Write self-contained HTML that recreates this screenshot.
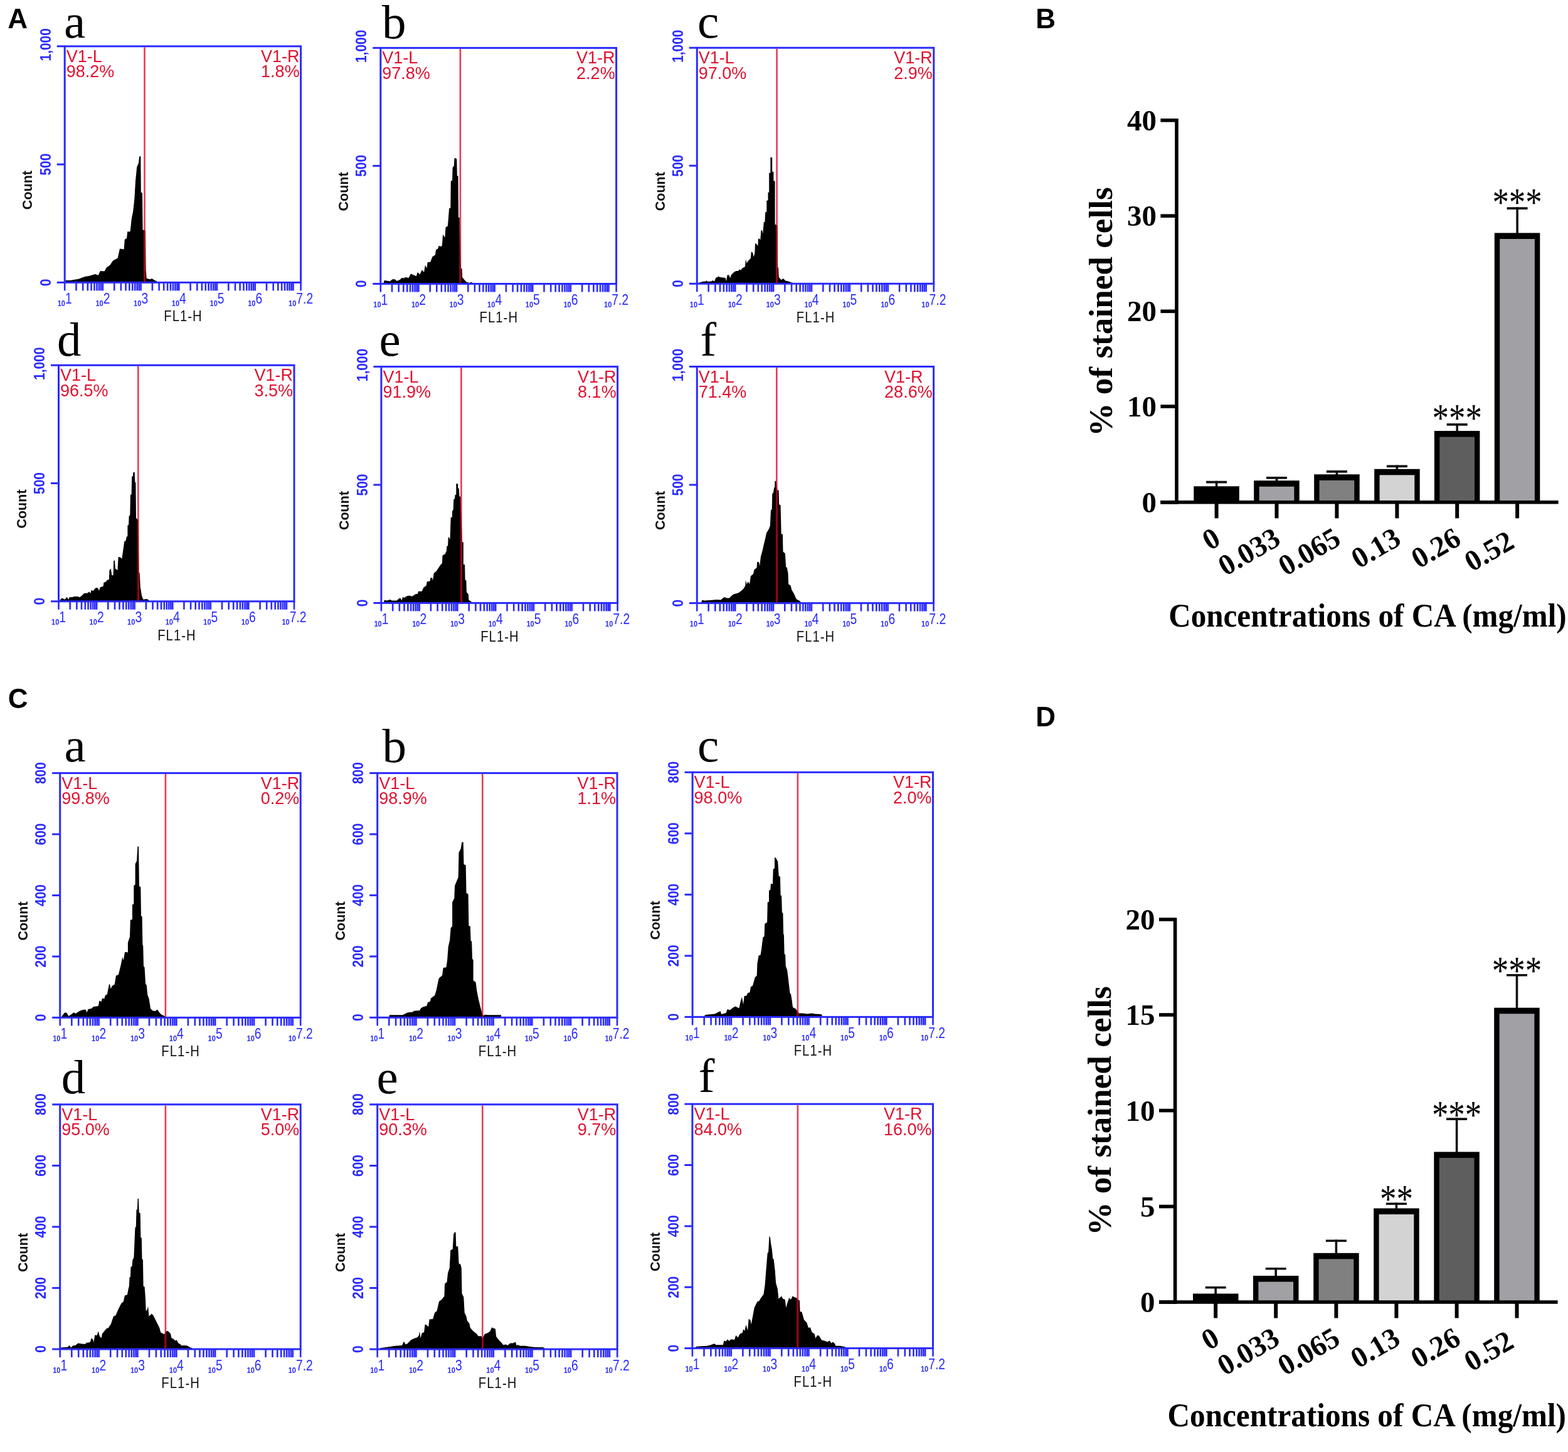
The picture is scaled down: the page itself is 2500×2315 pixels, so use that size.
<!DOCTYPE html><html><head><meta charset="utf-8"><title>Figure</title><style>html,body{margin:0;padding:0;background:#fff;}svg{display:block;}</style></head><body>
<svg width="2500" height="2315" viewBox="0 0 2500 2315">
<rect width="2500" height="2315" fill="#fff"/>
<text x="12.2" y="45.2" font-family="'Liberation Sans', Arial, sans-serif" font-weight="bold" font-size="44" fill="#000">A</text>
<text x="1651.3" y="44.8" font-family="'Liberation Sans', Arial, sans-serif" font-weight="bold" font-size="44" fill="#000">B</text>
<text x="12.8" y="1129.3" font-family="'Liberation Sans', Arial, sans-serif" font-weight="bold" font-size="44" fill="#000">C</text>
<text x="1651.3" y="1158.3" font-family="'Liberation Sans', Arial, sans-serif" font-weight="bold" font-size="44" fill="#000">D</text>
<g>
<clipPath id="hAa"><path d="M104.4,450.4 L104.4,446.9 L112.2,446.9 L117.8,446.1 L125.5,444.7 L131.1,442.5 L136.6,440.8 L142.2,439.9 L146.6,438.6 L152.1,436.9 L156.6,439.1 L159.9,431.9 L166.6,432.5 L169.9,426.4 L175.5,422.5 L179.9,415.8 L187.7,411.4 L191.0,396.4 L197.6,397.5 L198.8,382.0 L202.1,379.8 L203.2,369.2 L207.6,369.2 L209.8,348.7 L212.1,337.6 L214.3,317.7 L216.0,288.8 L218.2,266.6 L220.9,260.0 L222.1,250.0 L223.6,248.5 L224.3,250.0 L224.8,306.6 L227.0,307.7 L227.6,366.5 L232.0,367.6 L232.6,429.7 L233.7,444.1 L239.8,445.2 L242.0,444.1 L247.6,447.4 L249.8,448.0 L249.8,450.4 Z"/></clipPath>
<path d="M104.4,450.4 L104.4,446.9 L112.2,446.9 L117.8,446.1 L125.5,444.7 L131.1,442.5 L136.6,440.8 L142.2,439.9 L146.6,438.6 L152.1,436.9 L156.6,439.1 L159.9,431.9 L166.6,432.5 L169.9,426.4 L175.5,422.5 L179.9,415.8 L187.7,411.4 L191.0,396.4 L197.6,397.5 L198.8,382.0 L202.1,379.8 L203.2,369.2 L207.6,369.2 L209.8,348.7 L212.1,337.6 L214.3,317.7 L216.0,288.8 L218.2,266.6 L220.9,260.0 L222.1,250.0 L223.6,248.5 L224.3,250.0 L224.8,306.6 L227.0,307.7 L227.6,366.5 L232.0,367.6 L232.6,429.7 L233.7,444.1 L239.8,445.2 L242.0,444.1 L247.6,447.4 L249.8,448.0 L249.8,450.4 Z" fill="#000"/>
<rect x="103.2" y="73.8" width="376.4" height="376.6" fill="none" stroke="#2a2aff" stroke-width="3"/>
<line x1="230.5" y1="75.3" x2="230.5" y2="448.9" stroke="#e43c58" stroke-width="2.6"/>
<line x1="230.5" y1="75.3" x2="230.5" y2="448.9" stroke="#98000c" stroke-width="2.6" clip-path="url(#hAa)"/>
<line x1="90.7" y1="450.4" x2="103.2" y2="450.4" stroke="#2a2aff" stroke-width="3"/>
<text transform="translate(80.8,450.4) rotate(-90) scale(0.86,1)" text-anchor="middle" font-family="'Liberation Sans', Arial, sans-serif" font-weight="bold" font-size="24.3" fill="#2a2aff">0</text>
<line x1="90.7" y1="262.1" x2="103.2" y2="262.1" stroke="#2a2aff" stroke-width="3"/>
<text transform="translate(80.8,262.1) rotate(-90) scale(0.86,1)" text-anchor="middle" font-family="'Liberation Sans', Arial, sans-serif" font-weight="bold" font-size="24.3" fill="#2a2aff">500</text>
<line x1="90.7" y1="73.8" x2="103.2" y2="73.8" stroke="#2a2aff" stroke-width="3"/>
<text transform="translate(80.8,71.3) rotate(-90) scale(0.86,1)" text-anchor="middle" font-family="'Liberation Sans', Arial, sans-serif" font-weight="bold" font-size="24.3" fill="#2a2aff">1,000</text>
<line x1="103.2" y1="450.4" x2="103.2" y2="463.4" stroke="#2a2aff" stroke-width="2.6"/>
<line x1="121.5" y1="450.4" x2="121.5" y2="463.4" stroke="#2a2aff" stroke-width="2.6"/>
<line x1="132.2" y1="450.4" x2="132.2" y2="463.4" stroke="#2a2aff" stroke-width="2.6"/>
<line x1="139.8" y1="450.4" x2="139.8" y2="463.4" stroke="#2a2aff" stroke-width="2.6"/>
<line x1="145.6" y1="450.4" x2="145.6" y2="463.4" stroke="#2a2aff" stroke-width="2.6"/>
<line x1="150.4" y1="450.4" x2="150.4" y2="463.4" stroke="#2a2aff" stroke-width="2.6"/>
<line x1="154.5" y1="450.4" x2="154.5" y2="463.4" stroke="#2a2aff" stroke-width="2.6"/>
<line x1="158.0" y1="450.4" x2="158.0" y2="463.4" stroke="#2a2aff" stroke-width="2.6"/>
<line x1="161.1" y1="450.4" x2="161.1" y2="463.4" stroke="#2a2aff" stroke-width="2.6"/>
<line x1="163.9" y1="450.4" x2="163.9" y2="463.4" stroke="#2a2aff" stroke-width="2.6"/>
<line x1="182.2" y1="450.4" x2="182.2" y2="463.4" stroke="#2a2aff" stroke-width="2.6"/>
<line x1="192.9" y1="450.4" x2="192.9" y2="463.4" stroke="#2a2aff" stroke-width="2.6"/>
<line x1="200.5" y1="450.4" x2="200.5" y2="463.4" stroke="#2a2aff" stroke-width="2.6"/>
<line x1="206.3" y1="450.4" x2="206.3" y2="463.4" stroke="#2a2aff" stroke-width="2.6"/>
<line x1="211.2" y1="450.4" x2="211.2" y2="463.4" stroke="#2a2aff" stroke-width="2.6"/>
<line x1="215.2" y1="450.4" x2="215.2" y2="463.4" stroke="#2a2aff" stroke-width="2.6"/>
<line x1="218.7" y1="450.4" x2="218.7" y2="463.4" stroke="#2a2aff" stroke-width="2.6"/>
<line x1="221.8" y1="450.4" x2="221.8" y2="463.4" stroke="#2a2aff" stroke-width="2.6"/>
<line x1="224.6" y1="450.4" x2="224.6" y2="463.4" stroke="#2a2aff" stroke-width="2.6"/>
<line x1="242.9" y1="450.4" x2="242.9" y2="463.4" stroke="#2a2aff" stroke-width="2.6"/>
<line x1="253.6" y1="450.4" x2="253.6" y2="463.4" stroke="#2a2aff" stroke-width="2.6"/>
<line x1="261.2" y1="450.4" x2="261.2" y2="463.4" stroke="#2a2aff" stroke-width="2.6"/>
<line x1="267.1" y1="450.4" x2="267.1" y2="463.4" stroke="#2a2aff" stroke-width="2.6"/>
<line x1="271.9" y1="450.4" x2="271.9" y2="463.4" stroke="#2a2aff" stroke-width="2.6"/>
<line x1="275.9" y1="450.4" x2="275.9" y2="463.4" stroke="#2a2aff" stroke-width="2.6"/>
<line x1="279.4" y1="450.4" x2="279.4" y2="463.4" stroke="#2a2aff" stroke-width="2.6"/>
<line x1="282.6" y1="450.4" x2="282.6" y2="463.4" stroke="#2a2aff" stroke-width="2.6"/>
<line x1="285.3" y1="450.4" x2="285.3" y2="463.4" stroke="#2a2aff" stroke-width="2.6"/>
<line x1="303.6" y1="450.4" x2="303.6" y2="463.4" stroke="#2a2aff" stroke-width="2.6"/>
<line x1="314.3" y1="450.4" x2="314.3" y2="463.4" stroke="#2a2aff" stroke-width="2.6"/>
<line x1="321.9" y1="450.4" x2="321.9" y2="463.4" stroke="#2a2aff" stroke-width="2.6"/>
<line x1="327.8" y1="450.4" x2="327.8" y2="463.4" stroke="#2a2aff" stroke-width="2.6"/>
<line x1="332.6" y1="450.4" x2="332.6" y2="463.4" stroke="#2a2aff" stroke-width="2.6"/>
<line x1="336.6" y1="450.4" x2="336.6" y2="463.4" stroke="#2a2aff" stroke-width="2.6"/>
<line x1="340.2" y1="450.4" x2="340.2" y2="463.4" stroke="#2a2aff" stroke-width="2.6"/>
<line x1="343.3" y1="450.4" x2="343.3" y2="463.4" stroke="#2a2aff" stroke-width="2.6"/>
<line x1="346.0" y1="450.4" x2="346.0" y2="463.4" stroke="#2a2aff" stroke-width="2.6"/>
<line x1="364.3" y1="450.4" x2="364.3" y2="463.4" stroke="#2a2aff" stroke-width="2.6"/>
<line x1="375.0" y1="450.4" x2="375.0" y2="463.4" stroke="#2a2aff" stroke-width="2.6"/>
<line x1="382.6" y1="450.4" x2="382.6" y2="463.4" stroke="#2a2aff" stroke-width="2.6"/>
<line x1="388.5" y1="450.4" x2="388.5" y2="463.4" stroke="#2a2aff" stroke-width="2.6"/>
<line x1="393.3" y1="450.4" x2="393.3" y2="463.4" stroke="#2a2aff" stroke-width="2.6"/>
<line x1="397.3" y1="450.4" x2="397.3" y2="463.4" stroke="#2a2aff" stroke-width="2.6"/>
<line x1="400.9" y1="450.4" x2="400.9" y2="463.4" stroke="#2a2aff" stroke-width="2.6"/>
<line x1="404.0" y1="450.4" x2="404.0" y2="463.4" stroke="#2a2aff" stroke-width="2.6"/>
<line x1="406.7" y1="450.4" x2="406.7" y2="463.4" stroke="#2a2aff" stroke-width="2.6"/>
<line x1="425.0" y1="450.4" x2="425.0" y2="463.4" stroke="#2a2aff" stroke-width="2.6"/>
<line x1="435.7" y1="450.4" x2="435.7" y2="463.4" stroke="#2a2aff" stroke-width="2.6"/>
<line x1="443.3" y1="450.4" x2="443.3" y2="463.4" stroke="#2a2aff" stroke-width="2.6"/>
<line x1="449.2" y1="450.4" x2="449.2" y2="463.4" stroke="#2a2aff" stroke-width="2.6"/>
<line x1="454.0" y1="450.4" x2="454.0" y2="463.4" stroke="#2a2aff" stroke-width="2.6"/>
<line x1="458.1" y1="450.4" x2="458.1" y2="463.4" stroke="#2a2aff" stroke-width="2.6"/>
<line x1="461.6" y1="450.4" x2="461.6" y2="463.4" stroke="#2a2aff" stroke-width="2.6"/>
<line x1="464.7" y1="450.4" x2="464.7" y2="463.4" stroke="#2a2aff" stroke-width="2.6"/>
<line x1="467.5" y1="450.4" x2="467.5" y2="463.4" stroke="#2a2aff" stroke-width="2.6"/>
<line x1="479.6" y1="450.4" x2="479.6" y2="463.4" stroke="#2a2aff" stroke-width="2.6"/>
<text transform="translate(103.2,483.9) scale(0.82,1)" text-anchor="middle" font-family="'Liberation Sans', Arial, sans-serif" fill="#2a2aff"><tspan font-weight="bold" font-size="13.5" dy="4">10</tspan><tspan font-size="23.5" dy="-4">1</tspan></text>
<text transform="translate(163.9,483.9) scale(0.82,1)" text-anchor="middle" font-family="'Liberation Sans', Arial, sans-serif" fill="#2a2aff"><tspan font-weight="bold" font-size="13.5" dy="4">10</tspan><tspan font-size="23.5" dy="-4">2</tspan></text>
<text transform="translate(224.6,483.9) scale(0.82,1)" text-anchor="middle" font-family="'Liberation Sans', Arial, sans-serif" fill="#2a2aff"><tspan font-weight="bold" font-size="13.5" dy="4">10</tspan><tspan font-size="23.5" dy="-4">3</tspan></text>
<text transform="translate(285.3,483.9) scale(0.82,1)" text-anchor="middle" font-family="'Liberation Sans', Arial, sans-serif" fill="#2a2aff"><tspan font-weight="bold" font-size="13.5" dy="4">10</tspan><tspan font-size="23.5" dy="-4">4</tspan></text>
<text transform="translate(346.0,483.9) scale(0.82,1)" text-anchor="middle" font-family="'Liberation Sans', Arial, sans-serif" fill="#2a2aff"><tspan font-weight="bold" font-size="13.5" dy="4">10</tspan><tspan font-size="23.5" dy="-4">5</tspan></text>
<text transform="translate(406.7,483.9) scale(0.82,1)" text-anchor="middle" font-family="'Liberation Sans', Arial, sans-serif" fill="#2a2aff"><tspan font-weight="bold" font-size="13.5" dy="4">10</tspan><tspan font-size="23.5" dy="-4">6</tspan></text>
<text transform="translate(479.6,483.9) scale(0.82,1)" text-anchor="middle" font-family="'Liberation Sans', Arial, sans-serif" fill="#2a2aff"><tspan font-weight="bold" font-size="13.5" dy="4">10</tspan><tspan font-size="23.5" dy="-4">7.2</tspan></text>
<text transform="translate(292.0,512.2) scale(0.88,1)" text-anchor="middle" font-family="'Liberation Sans', Arial, sans-serif" font-size="23" letter-spacing="1.2" fill="#111">FL1-H</text>
<text transform="translate(51.4,303.1) rotate(-90)" text-anchor="middle" font-family="'Liberation Sans', Arial, sans-serif" font-weight="bold" font-size="21.5" fill="#111">Count</text>
<text x="105.7" y="98.8" font-family="'Liberation Sans', Arial, sans-serif" font-size="27" fill="#e0102e">V1-L</text>
<text x="105.7" y="123.3" font-family="'Liberation Sans', Arial, sans-serif" font-size="27" fill="#e0102e">98.2%</text>
<text x="416.1" y="98.8" font-family="'Liberation Sans', Arial, sans-serif" font-size="27" fill="#e0102e">V1-R</text>
<text x="416.1" y="123.3" font-family="'Liberation Sans', Arial, sans-serif" font-size="27" fill="#e0102e">1.8%</text>
<text x="102.0" y="59.5" font-family="'Liberation Serif', 'Times New Roman', serif" font-size="77" fill="#000">a</text>
<clipPath id="hAb"><path d="M611.8,452.5 L611.8,449.7 L612.9,446.9 L621.8,448.6 L625.6,445.2 L629.5,445.2 L632.8,448.0 L637.3,446.3 L640.6,443.0 L643.9,443.6 L646.2,441.9 L651.7,443.0 L655.0,436.4 L659.5,438.6 L663.9,440.2 L665.6,434.1 L669.5,437.5 L672.8,430.3 L676.1,434.1 L677.8,423.0 L680.6,427.5 L681.7,418.1 L686.1,418.1 L689.4,409.2 L693.9,406.4 L695.0,398.6 L698.3,396.4 L699.4,392.0 L703.9,393.1 L705.0,389.8 L706.1,373.7 L709.4,378.7 L710.5,362.6 L713.8,360.4 L715.0,347.1 L716.1,332.6 L718.3,331.5 L718.8,288.8 L721.1,287.7 L721.6,267.2 L723.8,264.4 L724.4,252.2 L727.2,252.2 L728.3,254.4 L728.8,280.0 L730.5,281.1 L731.0,346.5 L732.7,347.1 L734.9,427.5 L736.6,428.6 L737.1,441.9 L740.5,446.3 L743.8,449.7 L748.2,450.8 L752.7,449.7 L753.2,451.3 L753.2,452.5 Z"/></clipPath>
<path d="M611.8,452.5 L611.8,449.7 L612.9,446.9 L621.8,448.6 L625.6,445.2 L629.5,445.2 L632.8,448.0 L637.3,446.3 L640.6,443.0 L643.9,443.6 L646.2,441.9 L651.7,443.0 L655.0,436.4 L659.5,438.6 L663.9,440.2 L665.6,434.1 L669.5,437.5 L672.8,430.3 L676.1,434.1 L677.8,423.0 L680.6,427.5 L681.7,418.1 L686.1,418.1 L689.4,409.2 L693.9,406.4 L695.0,398.6 L698.3,396.4 L699.4,392.0 L703.9,393.1 L705.0,389.8 L706.1,373.7 L709.4,378.7 L710.5,362.6 L713.8,360.4 L715.0,347.1 L716.1,332.6 L718.3,331.5 L718.8,288.8 L721.1,287.7 L721.6,267.2 L723.8,264.4 L724.4,252.2 L727.2,252.2 L728.3,254.4 L728.8,280.0 L730.5,281.1 L731.0,346.5 L732.7,347.1 L734.9,427.5 L736.6,428.6 L737.1,441.9 L740.5,446.3 L743.8,449.7 L748.2,450.8 L752.7,449.7 L753.2,451.3 L753.2,452.5 Z" fill="#000"/>
<rect x="606.8" y="76.4" width="375.8" height="376.1" fill="none" stroke="#2a2aff" stroke-width="3"/>
<line x1="733.9" y1="77.9" x2="733.9" y2="451.0" stroke="#e43c58" stroke-width="2.6"/>
<line x1="733.9" y1="77.9" x2="733.9" y2="451.0" stroke="#98000c" stroke-width="2.6" clip-path="url(#hAb)"/>
<line x1="594.3" y1="452.5" x2="606.8" y2="452.5" stroke="#2a2aff" stroke-width="3"/>
<text transform="translate(584.4,452.5) rotate(-90) scale(0.86,1)" text-anchor="middle" font-family="'Liberation Sans', Arial, sans-serif" font-weight="bold" font-size="24.3" fill="#2a2aff">0</text>
<line x1="594.3" y1="264.4" x2="606.8" y2="264.4" stroke="#2a2aff" stroke-width="3"/>
<text transform="translate(584.4,264.4) rotate(-90) scale(0.86,1)" text-anchor="middle" font-family="'Liberation Sans', Arial, sans-serif" font-weight="bold" font-size="24.3" fill="#2a2aff">500</text>
<line x1="594.3" y1="76.4" x2="606.8" y2="76.4" stroke="#2a2aff" stroke-width="3"/>
<text transform="translate(584.4,73.9) rotate(-90) scale(0.86,1)" text-anchor="middle" font-family="'Liberation Sans', Arial, sans-serif" font-weight="bold" font-size="24.3" fill="#2a2aff">1,000</text>
<line x1="606.8" y1="452.5" x2="606.8" y2="465.5" stroke="#2a2aff" stroke-width="2.6"/>
<line x1="625.0" y1="452.5" x2="625.0" y2="465.5" stroke="#2a2aff" stroke-width="2.6"/>
<line x1="635.7" y1="452.5" x2="635.7" y2="465.5" stroke="#2a2aff" stroke-width="2.6"/>
<line x1="643.3" y1="452.5" x2="643.3" y2="465.5" stroke="#2a2aff" stroke-width="2.6"/>
<line x1="649.2" y1="452.5" x2="649.2" y2="465.5" stroke="#2a2aff" stroke-width="2.6"/>
<line x1="654.0" y1="452.5" x2="654.0" y2="465.5" stroke="#2a2aff" stroke-width="2.6"/>
<line x1="658.0" y1="452.5" x2="658.0" y2="465.5" stroke="#2a2aff" stroke-width="2.6"/>
<line x1="661.5" y1="452.5" x2="661.5" y2="465.5" stroke="#2a2aff" stroke-width="2.6"/>
<line x1="664.6" y1="452.5" x2="664.6" y2="465.5" stroke="#2a2aff" stroke-width="2.6"/>
<line x1="667.4" y1="452.5" x2="667.4" y2="465.5" stroke="#2a2aff" stroke-width="2.6"/>
<line x1="685.7" y1="452.5" x2="685.7" y2="465.5" stroke="#2a2aff" stroke-width="2.6"/>
<line x1="696.3" y1="452.5" x2="696.3" y2="465.5" stroke="#2a2aff" stroke-width="2.6"/>
<line x1="703.9" y1="452.5" x2="703.9" y2="465.5" stroke="#2a2aff" stroke-width="2.6"/>
<line x1="709.8" y1="452.5" x2="709.8" y2="465.5" stroke="#2a2aff" stroke-width="2.6"/>
<line x1="714.6" y1="452.5" x2="714.6" y2="465.5" stroke="#2a2aff" stroke-width="2.6"/>
<line x1="718.6" y1="452.5" x2="718.6" y2="465.5" stroke="#2a2aff" stroke-width="2.6"/>
<line x1="722.2" y1="452.5" x2="722.2" y2="465.5" stroke="#2a2aff" stroke-width="2.6"/>
<line x1="725.3" y1="452.5" x2="725.3" y2="465.5" stroke="#2a2aff" stroke-width="2.6"/>
<line x1="728.0" y1="452.5" x2="728.0" y2="465.5" stroke="#2a2aff" stroke-width="2.6"/>
<line x1="746.3" y1="452.5" x2="746.3" y2="465.5" stroke="#2a2aff" stroke-width="2.6"/>
<line x1="756.9" y1="452.5" x2="756.9" y2="465.5" stroke="#2a2aff" stroke-width="2.6"/>
<line x1="764.5" y1="452.5" x2="764.5" y2="465.5" stroke="#2a2aff" stroke-width="2.6"/>
<line x1="770.4" y1="452.5" x2="770.4" y2="465.5" stroke="#2a2aff" stroke-width="2.6"/>
<line x1="775.2" y1="452.5" x2="775.2" y2="465.5" stroke="#2a2aff" stroke-width="2.6"/>
<line x1="779.2" y1="452.5" x2="779.2" y2="465.5" stroke="#2a2aff" stroke-width="2.6"/>
<line x1="782.8" y1="452.5" x2="782.8" y2="465.5" stroke="#2a2aff" stroke-width="2.6"/>
<line x1="785.9" y1="452.5" x2="785.9" y2="465.5" stroke="#2a2aff" stroke-width="2.6"/>
<line x1="788.6" y1="452.5" x2="788.6" y2="465.5" stroke="#2a2aff" stroke-width="2.6"/>
<line x1="806.9" y1="452.5" x2="806.9" y2="465.5" stroke="#2a2aff" stroke-width="2.6"/>
<line x1="817.6" y1="452.5" x2="817.6" y2="465.5" stroke="#2a2aff" stroke-width="2.6"/>
<line x1="825.1" y1="452.5" x2="825.1" y2="465.5" stroke="#2a2aff" stroke-width="2.6"/>
<line x1="831.0" y1="452.5" x2="831.0" y2="465.5" stroke="#2a2aff" stroke-width="2.6"/>
<line x1="835.8" y1="452.5" x2="835.8" y2="465.5" stroke="#2a2aff" stroke-width="2.6"/>
<line x1="839.9" y1="452.5" x2="839.9" y2="465.5" stroke="#2a2aff" stroke-width="2.6"/>
<line x1="843.4" y1="452.5" x2="843.4" y2="465.5" stroke="#2a2aff" stroke-width="2.6"/>
<line x1="846.5" y1="452.5" x2="846.5" y2="465.5" stroke="#2a2aff" stroke-width="2.6"/>
<line x1="849.3" y1="452.5" x2="849.3" y2="465.5" stroke="#2a2aff" stroke-width="2.6"/>
<line x1="867.5" y1="452.5" x2="867.5" y2="465.5" stroke="#2a2aff" stroke-width="2.6"/>
<line x1="878.2" y1="452.5" x2="878.2" y2="465.5" stroke="#2a2aff" stroke-width="2.6"/>
<line x1="885.7" y1="452.5" x2="885.7" y2="465.5" stroke="#2a2aff" stroke-width="2.6"/>
<line x1="891.6" y1="452.5" x2="891.6" y2="465.5" stroke="#2a2aff" stroke-width="2.6"/>
<line x1="896.4" y1="452.5" x2="896.4" y2="465.5" stroke="#2a2aff" stroke-width="2.6"/>
<line x1="900.5" y1="452.5" x2="900.5" y2="465.5" stroke="#2a2aff" stroke-width="2.6"/>
<line x1="904.0" y1="452.5" x2="904.0" y2="465.5" stroke="#2a2aff" stroke-width="2.6"/>
<line x1="907.1" y1="452.5" x2="907.1" y2="465.5" stroke="#2a2aff" stroke-width="2.6"/>
<line x1="909.9" y1="452.5" x2="909.9" y2="465.5" stroke="#2a2aff" stroke-width="2.6"/>
<line x1="928.1" y1="452.5" x2="928.1" y2="465.5" stroke="#2a2aff" stroke-width="2.6"/>
<line x1="938.8" y1="452.5" x2="938.8" y2="465.5" stroke="#2a2aff" stroke-width="2.6"/>
<line x1="946.4" y1="452.5" x2="946.4" y2="465.5" stroke="#2a2aff" stroke-width="2.6"/>
<line x1="952.2" y1="452.5" x2="952.2" y2="465.5" stroke="#2a2aff" stroke-width="2.6"/>
<line x1="957.0" y1="452.5" x2="957.0" y2="465.5" stroke="#2a2aff" stroke-width="2.6"/>
<line x1="961.1" y1="452.5" x2="961.1" y2="465.5" stroke="#2a2aff" stroke-width="2.6"/>
<line x1="964.6" y1="452.5" x2="964.6" y2="465.5" stroke="#2a2aff" stroke-width="2.6"/>
<line x1="967.7" y1="452.5" x2="967.7" y2="465.5" stroke="#2a2aff" stroke-width="2.6"/>
<line x1="970.5" y1="452.5" x2="970.5" y2="465.5" stroke="#2a2aff" stroke-width="2.6"/>
<line x1="982.6" y1="452.5" x2="982.6" y2="465.5" stroke="#2a2aff" stroke-width="2.6"/>
<text transform="translate(606.8,486.0) scale(0.82,1)" text-anchor="middle" font-family="'Liberation Sans', Arial, sans-serif" fill="#2a2aff"><tspan font-weight="bold" font-size="13.5" dy="4">10</tspan><tspan font-size="23.5" dy="-4">1</tspan></text>
<text transform="translate(667.4,486.0) scale(0.82,1)" text-anchor="middle" font-family="'Liberation Sans', Arial, sans-serif" fill="#2a2aff"><tspan font-weight="bold" font-size="13.5" dy="4">10</tspan><tspan font-size="23.5" dy="-4">2</tspan></text>
<text transform="translate(728.0,486.0) scale(0.82,1)" text-anchor="middle" font-family="'Liberation Sans', Arial, sans-serif" fill="#2a2aff"><tspan font-weight="bold" font-size="13.5" dy="4">10</tspan><tspan font-size="23.5" dy="-4">3</tspan></text>
<text transform="translate(788.6,486.0) scale(0.82,1)" text-anchor="middle" font-family="'Liberation Sans', Arial, sans-serif" fill="#2a2aff"><tspan font-weight="bold" font-size="13.5" dy="4">10</tspan><tspan font-size="23.5" dy="-4">4</tspan></text>
<text transform="translate(849.3,486.0) scale(0.82,1)" text-anchor="middle" font-family="'Liberation Sans', Arial, sans-serif" fill="#2a2aff"><tspan font-weight="bold" font-size="13.5" dy="4">10</tspan><tspan font-size="23.5" dy="-4">5</tspan></text>
<text transform="translate(909.9,486.0) scale(0.82,1)" text-anchor="middle" font-family="'Liberation Sans', Arial, sans-serif" fill="#2a2aff"><tspan font-weight="bold" font-size="13.5" dy="4">10</tspan><tspan font-size="23.5" dy="-4">6</tspan></text>
<text transform="translate(982.6,486.0) scale(0.82,1)" text-anchor="middle" font-family="'Liberation Sans', Arial, sans-serif" fill="#2a2aff"><tspan font-weight="bold" font-size="13.5" dy="4">10</tspan><tspan font-size="23.5" dy="-4">7.2</tspan></text>
<text transform="translate(795.3,514.3) scale(0.88,1)" text-anchor="middle" font-family="'Liberation Sans', Arial, sans-serif" font-size="23" letter-spacing="1.2" fill="#111">FL1-H</text>
<text transform="translate(555.0,305.4) rotate(-90)" text-anchor="middle" font-family="'Liberation Sans', Arial, sans-serif" font-weight="bold" font-size="21.5" fill="#111">Count</text>
<text x="609.3" y="101.4" font-family="'Liberation Sans', Arial, sans-serif" font-size="27" fill="#e0102e">V1-L</text>
<text x="609.3" y="125.9" font-family="'Liberation Sans', Arial, sans-serif" font-size="27" fill="#e0102e">97.8%</text>
<text x="919.1" y="101.4" font-family="'Liberation Sans', Arial, sans-serif" font-size="27" fill="#e0102e">V1-R</text>
<text x="919.1" y="125.9" font-family="'Liberation Sans', Arial, sans-serif" font-size="27" fill="#e0102e">2.2%</text>
<text x="609.0" y="61.2" font-family="'Liberation Serif', 'Times New Roman', serif" font-size="77" fill="#000">b</text>
<clipPath id="hAc"><path d="M1112.4,452.3 L1112.4,451.3 L1120.2,449.1 L1125.8,448.6 L1126.9,446.9 L1128.0,449.1 L1134.6,448.6 L1135.7,446.9 L1139.1,448.6 L1141.3,443.0 L1145.7,440.8 L1147.9,441.9 L1152.4,442.5 L1156.8,443.0 L1157.9,448.6 L1159.6,438.6 L1162.4,438.6 L1164.0,443.6 L1165.7,438.6 L1170.1,434.1 L1173.5,431.9 L1176.8,431.9 L1179.0,429.7 L1181.2,430.8 L1183.5,427.5 L1187.9,425.3 L1189.0,413.6 L1190.7,419.7 L1192.3,416.4 L1196.8,412.0 L1197.9,400.9 L1200.1,403.1 L1201.8,409.7 L1203.4,403.1 L1204.0,387.5 L1206.8,389.8 L1208.4,392.0 L1209.0,380.3 L1211.2,380.9 L1212.3,382.6 L1213.4,367.6 L1215.1,367.0 L1216.2,373.1 L1217.8,354.3 L1219.5,353.7 L1220.1,338.7 L1222.3,337.6 L1222.3,319.9 L1224.5,319.3 L1224.5,307.1 L1226.2,306.6 L1226.2,276.1 L1228.4,275.5 L1228.4,251.1 L1231.2,251.1 L1231.2,273.3 L1233.4,274.4 L1233.4,288.3 L1235.6,288.8 L1235.6,357.6 L1237.8,358.7 L1239.5,359.3 L1240.0,425.3 L1241.1,427.5 L1241.7,441.9 L1245.6,446.3 L1248.9,444.1 L1252.2,447.4 L1256.7,448.6 L1263.3,450.8 L1267.8,451.3 L1267.8,452.3 Z"/></clipPath>
<path d="M1112.4,452.3 L1112.4,451.3 L1120.2,449.1 L1125.8,448.6 L1126.9,446.9 L1128.0,449.1 L1134.6,448.6 L1135.7,446.9 L1139.1,448.6 L1141.3,443.0 L1145.7,440.8 L1147.9,441.9 L1152.4,442.5 L1156.8,443.0 L1157.9,448.6 L1159.6,438.6 L1162.4,438.6 L1164.0,443.6 L1165.7,438.6 L1170.1,434.1 L1173.5,431.9 L1176.8,431.9 L1179.0,429.7 L1181.2,430.8 L1183.5,427.5 L1187.9,425.3 L1189.0,413.6 L1190.7,419.7 L1192.3,416.4 L1196.8,412.0 L1197.9,400.9 L1200.1,403.1 L1201.8,409.7 L1203.4,403.1 L1204.0,387.5 L1206.8,389.8 L1208.4,392.0 L1209.0,380.3 L1211.2,380.9 L1212.3,382.6 L1213.4,367.6 L1215.1,367.0 L1216.2,373.1 L1217.8,354.3 L1219.5,353.7 L1220.1,338.7 L1222.3,337.6 L1222.3,319.9 L1224.5,319.3 L1224.5,307.1 L1226.2,306.6 L1226.2,276.1 L1228.4,275.5 L1228.4,251.1 L1231.2,251.1 L1231.2,273.3 L1233.4,274.4 L1233.4,288.3 L1235.6,288.8 L1235.6,357.6 L1237.8,358.7 L1239.5,359.3 L1240.0,425.3 L1241.1,427.5 L1241.7,441.9 L1245.6,446.3 L1248.9,444.1 L1252.2,447.4 L1256.7,448.6 L1263.3,450.8 L1267.8,451.3 L1267.8,452.3 Z" fill="#000"/>
<rect x="1111.3" y="76.2" width="377.5" height="376.1" fill="none" stroke="#2a2aff" stroke-width="3"/>
<line x1="1238.6" y1="77.7" x2="1238.6" y2="450.8" stroke="#e43c58" stroke-width="2.6"/>
<line x1="1238.6" y1="77.7" x2="1238.6" y2="450.8" stroke="#98000c" stroke-width="2.6" clip-path="url(#hAc)"/>
<line x1="1098.8" y1="452.3" x2="1111.3" y2="452.3" stroke="#2a2aff" stroke-width="3"/>
<text transform="translate(1088.9,452.3) rotate(-90) scale(0.86,1)" text-anchor="middle" font-family="'Liberation Sans', Arial, sans-serif" font-weight="bold" font-size="24.3" fill="#2a2aff">0</text>
<line x1="1098.8" y1="264.2" x2="1111.3" y2="264.2" stroke="#2a2aff" stroke-width="3"/>
<text transform="translate(1088.9,264.2) rotate(-90) scale(0.86,1)" text-anchor="middle" font-family="'Liberation Sans', Arial, sans-serif" font-weight="bold" font-size="24.3" fill="#2a2aff">500</text>
<line x1="1098.8" y1="76.2" x2="1111.3" y2="76.2" stroke="#2a2aff" stroke-width="3"/>
<text transform="translate(1088.9,73.7) rotate(-90) scale(0.86,1)" text-anchor="middle" font-family="'Liberation Sans', Arial, sans-serif" font-weight="bold" font-size="24.3" fill="#2a2aff">1,000</text>
<line x1="1111.3" y1="452.3" x2="1111.3" y2="465.3" stroke="#2a2aff" stroke-width="2.6"/>
<line x1="1129.6" y1="452.3" x2="1129.6" y2="465.3" stroke="#2a2aff" stroke-width="2.6"/>
<line x1="1140.4" y1="452.3" x2="1140.4" y2="465.3" stroke="#2a2aff" stroke-width="2.6"/>
<line x1="1148.0" y1="452.3" x2="1148.0" y2="465.3" stroke="#2a2aff" stroke-width="2.6"/>
<line x1="1153.9" y1="452.3" x2="1153.9" y2="465.3" stroke="#2a2aff" stroke-width="2.6"/>
<line x1="1158.7" y1="452.3" x2="1158.7" y2="465.3" stroke="#2a2aff" stroke-width="2.6"/>
<line x1="1162.8" y1="452.3" x2="1162.8" y2="465.3" stroke="#2a2aff" stroke-width="2.6"/>
<line x1="1166.3" y1="452.3" x2="1166.3" y2="465.3" stroke="#2a2aff" stroke-width="2.6"/>
<line x1="1169.4" y1="452.3" x2="1169.4" y2="465.3" stroke="#2a2aff" stroke-width="2.6"/>
<line x1="1172.2" y1="452.3" x2="1172.2" y2="465.3" stroke="#2a2aff" stroke-width="2.6"/>
<line x1="1190.5" y1="452.3" x2="1190.5" y2="465.3" stroke="#2a2aff" stroke-width="2.6"/>
<line x1="1201.2" y1="452.3" x2="1201.2" y2="465.3" stroke="#2a2aff" stroke-width="2.6"/>
<line x1="1208.8" y1="452.3" x2="1208.8" y2="465.3" stroke="#2a2aff" stroke-width="2.6"/>
<line x1="1214.7" y1="452.3" x2="1214.7" y2="465.3" stroke="#2a2aff" stroke-width="2.6"/>
<line x1="1219.6" y1="452.3" x2="1219.6" y2="465.3" stroke="#2a2aff" stroke-width="2.6"/>
<line x1="1223.6" y1="452.3" x2="1223.6" y2="465.3" stroke="#2a2aff" stroke-width="2.6"/>
<line x1="1227.2" y1="452.3" x2="1227.2" y2="465.3" stroke="#2a2aff" stroke-width="2.6"/>
<line x1="1230.3" y1="452.3" x2="1230.3" y2="465.3" stroke="#2a2aff" stroke-width="2.6"/>
<line x1="1233.1" y1="452.3" x2="1233.1" y2="465.3" stroke="#2a2aff" stroke-width="2.6"/>
<line x1="1251.4" y1="452.3" x2="1251.4" y2="465.3" stroke="#2a2aff" stroke-width="2.6"/>
<line x1="1262.1" y1="452.3" x2="1262.1" y2="465.3" stroke="#2a2aff" stroke-width="2.6"/>
<line x1="1269.7" y1="452.3" x2="1269.7" y2="465.3" stroke="#2a2aff" stroke-width="2.6"/>
<line x1="1275.6" y1="452.3" x2="1275.6" y2="465.3" stroke="#2a2aff" stroke-width="2.6"/>
<line x1="1280.5" y1="452.3" x2="1280.5" y2="465.3" stroke="#2a2aff" stroke-width="2.6"/>
<line x1="1284.5" y1="452.3" x2="1284.5" y2="465.3" stroke="#2a2aff" stroke-width="2.6"/>
<line x1="1288.1" y1="452.3" x2="1288.1" y2="465.3" stroke="#2a2aff" stroke-width="2.6"/>
<line x1="1291.2" y1="452.3" x2="1291.2" y2="465.3" stroke="#2a2aff" stroke-width="2.6"/>
<line x1="1294.0" y1="452.3" x2="1294.0" y2="465.3" stroke="#2a2aff" stroke-width="2.6"/>
<line x1="1312.3" y1="452.3" x2="1312.3" y2="465.3" stroke="#2a2aff" stroke-width="2.6"/>
<line x1="1323.0" y1="452.3" x2="1323.0" y2="465.3" stroke="#2a2aff" stroke-width="2.6"/>
<line x1="1330.6" y1="452.3" x2="1330.6" y2="465.3" stroke="#2a2aff" stroke-width="2.6"/>
<line x1="1336.5" y1="452.3" x2="1336.5" y2="465.3" stroke="#2a2aff" stroke-width="2.6"/>
<line x1="1341.3" y1="452.3" x2="1341.3" y2="465.3" stroke="#2a2aff" stroke-width="2.6"/>
<line x1="1345.4" y1="452.3" x2="1345.4" y2="465.3" stroke="#2a2aff" stroke-width="2.6"/>
<line x1="1348.9" y1="452.3" x2="1348.9" y2="465.3" stroke="#2a2aff" stroke-width="2.6"/>
<line x1="1352.1" y1="452.3" x2="1352.1" y2="465.3" stroke="#2a2aff" stroke-width="2.6"/>
<line x1="1354.8" y1="452.3" x2="1354.8" y2="465.3" stroke="#2a2aff" stroke-width="2.6"/>
<line x1="1373.2" y1="452.3" x2="1373.2" y2="465.3" stroke="#2a2aff" stroke-width="2.6"/>
<line x1="1383.9" y1="452.3" x2="1383.9" y2="465.3" stroke="#2a2aff" stroke-width="2.6"/>
<line x1="1391.5" y1="452.3" x2="1391.5" y2="465.3" stroke="#2a2aff" stroke-width="2.6"/>
<line x1="1397.4" y1="452.3" x2="1397.4" y2="465.3" stroke="#2a2aff" stroke-width="2.6"/>
<line x1="1402.2" y1="452.3" x2="1402.2" y2="465.3" stroke="#2a2aff" stroke-width="2.6"/>
<line x1="1406.3" y1="452.3" x2="1406.3" y2="465.3" stroke="#2a2aff" stroke-width="2.6"/>
<line x1="1409.8" y1="452.3" x2="1409.8" y2="465.3" stroke="#2a2aff" stroke-width="2.6"/>
<line x1="1412.9" y1="452.3" x2="1412.9" y2="465.3" stroke="#2a2aff" stroke-width="2.6"/>
<line x1="1415.7" y1="452.3" x2="1415.7" y2="465.3" stroke="#2a2aff" stroke-width="2.6"/>
<line x1="1434.1" y1="452.3" x2="1434.1" y2="465.3" stroke="#2a2aff" stroke-width="2.6"/>
<line x1="1444.8" y1="452.3" x2="1444.8" y2="465.3" stroke="#2a2aff" stroke-width="2.6"/>
<line x1="1452.4" y1="452.3" x2="1452.4" y2="465.3" stroke="#2a2aff" stroke-width="2.6"/>
<line x1="1458.3" y1="452.3" x2="1458.3" y2="465.3" stroke="#2a2aff" stroke-width="2.6"/>
<line x1="1463.1" y1="452.3" x2="1463.1" y2="465.3" stroke="#2a2aff" stroke-width="2.6"/>
<line x1="1467.2" y1="452.3" x2="1467.2" y2="465.3" stroke="#2a2aff" stroke-width="2.6"/>
<line x1="1470.7" y1="452.3" x2="1470.7" y2="465.3" stroke="#2a2aff" stroke-width="2.6"/>
<line x1="1473.8" y1="452.3" x2="1473.8" y2="465.3" stroke="#2a2aff" stroke-width="2.6"/>
<line x1="1476.6" y1="452.3" x2="1476.6" y2="465.3" stroke="#2a2aff" stroke-width="2.6"/>
<line x1="1488.8" y1="452.3" x2="1488.8" y2="465.3" stroke="#2a2aff" stroke-width="2.6"/>
<text transform="translate(1111.3,485.8) scale(0.82,1)" text-anchor="middle" font-family="'Liberation Sans', Arial, sans-serif" fill="#2a2aff"><tspan font-weight="bold" font-size="13.5" dy="4">10</tspan><tspan font-size="23.5" dy="-4">1</tspan></text>
<text transform="translate(1172.2,485.8) scale(0.82,1)" text-anchor="middle" font-family="'Liberation Sans', Arial, sans-serif" fill="#2a2aff"><tspan font-weight="bold" font-size="13.5" dy="4">10</tspan><tspan font-size="23.5" dy="-4">2</tspan></text>
<text transform="translate(1233.1,485.8) scale(0.82,1)" text-anchor="middle" font-family="'Liberation Sans', Arial, sans-serif" fill="#2a2aff"><tspan font-weight="bold" font-size="13.5" dy="4">10</tspan><tspan font-size="23.5" dy="-4">3</tspan></text>
<text transform="translate(1294.0,485.8) scale(0.82,1)" text-anchor="middle" font-family="'Liberation Sans', Arial, sans-serif" fill="#2a2aff"><tspan font-weight="bold" font-size="13.5" dy="4">10</tspan><tspan font-size="23.5" dy="-4">4</tspan></text>
<text transform="translate(1354.8,485.8) scale(0.82,1)" text-anchor="middle" font-family="'Liberation Sans', Arial, sans-serif" fill="#2a2aff"><tspan font-weight="bold" font-size="13.5" dy="4">10</tspan><tspan font-size="23.5" dy="-4">5</tspan></text>
<text transform="translate(1415.7,485.8) scale(0.82,1)" text-anchor="middle" font-family="'Liberation Sans', Arial, sans-serif" fill="#2a2aff"><tspan font-weight="bold" font-size="13.5" dy="4">10</tspan><tspan font-size="23.5" dy="-4">6</tspan></text>
<text transform="translate(1488.8,485.8) scale(0.82,1)" text-anchor="middle" font-family="'Liberation Sans', Arial, sans-serif" fill="#2a2aff"><tspan font-weight="bold" font-size="13.5" dy="4">10</tspan><tspan font-size="23.5" dy="-4">7.2</tspan></text>
<text transform="translate(1300.6,514.1) scale(0.88,1)" text-anchor="middle" font-family="'Liberation Sans', Arial, sans-serif" font-size="23" letter-spacing="1.2" fill="#111">FL1-H</text>
<text transform="translate(1059.5,305.2) rotate(-90)" text-anchor="middle" font-family="'Liberation Sans', Arial, sans-serif" font-weight="bold" font-size="21.5" fill="#111">Count</text>
<text x="1113.8" y="101.2" font-family="'Liberation Sans', Arial, sans-serif" font-size="27" fill="#e0102e">V1-L</text>
<text x="1113.8" y="125.7" font-family="'Liberation Sans', Arial, sans-serif" font-size="27" fill="#e0102e">97.0%</text>
<text x="1425.3" y="101.2" font-family="'Liberation Sans', Arial, sans-serif" font-size="27" fill="#e0102e">V1-R</text>
<text x="1425.3" y="125.7" font-family="'Liberation Sans', Arial, sans-serif" font-size="27" fill="#e0102e">2.9%</text>
<text x="1112.0" y="60.0" font-family="'Liberation Serif', 'Times New Roman', serif" font-size="77" fill="#000">c</text>
<clipPath id="hAd"><path d="M95.4,958.8 L95.4,956.8 L98.8,953.4 L103.4,955.7 L106.8,951.7 L109.0,955.7 L111.3,951.7 L114.7,952.3 L118.1,951.1 L123.8,951.1 L127.2,952.3 L130.6,949.4 L134.0,946.0 L139.7,945.5 L142.0,943.2 L144.3,946.0 L145.4,940.9 L148.8,942.0 L151.1,938.6 L153.4,936.9 L156.2,937.5 L157.9,942.0 L159.6,936.4 L162.5,935.2 L164.7,934.7 L165.3,929.0 L169.3,927.3 L170.4,925.0 L173.8,923.9 L174.4,909.7 L176.7,906.2 L178.4,917.6 L180.6,917.0 L181.2,893.8 L182.9,893.8 L184.0,906.8 L187.5,909.1 L188.6,888.1 L192.0,888.6 L194.3,890.9 L196.0,879.5 L198.2,863.6 L200.5,861.9 L201.7,856.2 L203.4,854.5 L203.4,837.5 L205.1,836.9 L205.6,822.7 L207.3,821.6 L207.9,789.2 L209.6,788.1 L210.2,760.2 L211.9,759.1 L212.5,752.8 L214.7,752.8 L215.3,768.8 L216.4,769.3 L217.0,826.1 L218.7,827.3 L220.4,829.5 L221.5,912.5 L222.7,913.6 L223.8,936.4 L225.0,943.2 L226.1,950.0 L228.4,955.7 L234.0,955.1 L237.5,956.8 L237.5,958.8 Z"/></clipPath>
<path d="M95.4,958.8 L95.4,956.8 L98.8,953.4 L103.4,955.7 L106.8,951.7 L109.0,955.7 L111.3,951.7 L114.7,952.3 L118.1,951.1 L123.8,951.1 L127.2,952.3 L130.6,949.4 L134.0,946.0 L139.7,945.5 L142.0,943.2 L144.3,946.0 L145.4,940.9 L148.8,942.0 L151.1,938.6 L153.4,936.9 L156.2,937.5 L157.9,942.0 L159.6,936.4 L162.5,935.2 L164.7,934.7 L165.3,929.0 L169.3,927.3 L170.4,925.0 L173.8,923.9 L174.4,909.7 L176.7,906.2 L178.4,917.6 L180.6,917.0 L181.2,893.8 L182.9,893.8 L184.0,906.8 L187.5,909.1 L188.6,888.1 L192.0,888.6 L194.3,890.9 L196.0,879.5 L198.2,863.6 L200.5,861.9 L201.7,856.2 L203.4,854.5 L203.4,837.5 L205.1,836.9 L205.6,822.7 L207.3,821.6 L207.9,789.2 L209.6,788.1 L210.2,760.2 L211.9,759.1 L212.5,752.8 L214.7,752.8 L215.3,768.8 L216.4,769.3 L217.0,826.1 L218.7,827.3 L220.4,829.5 L221.5,912.5 L222.7,913.6 L223.8,936.4 L225.0,943.2 L226.1,950.0 L228.4,955.7 L234.0,955.1 L237.5,956.8 L237.5,958.8 Z" fill="#000"/>
<rect x="93.5" y="582.3" width="375.5" height="376.5" fill="none" stroke="#2a2aff" stroke-width="3"/>
<line x1="220.3" y1="583.8" x2="220.3" y2="957.3" stroke="#e43c58" stroke-width="2.6"/>
<line x1="220.3" y1="583.8" x2="220.3" y2="957.3" stroke="#98000c" stroke-width="2.6" clip-path="url(#hAd)"/>
<line x1="81.0" y1="958.8" x2="93.5" y2="958.8" stroke="#2a2aff" stroke-width="3"/>
<text transform="translate(71.1,958.8) rotate(-90) scale(0.86,1)" text-anchor="middle" font-family="'Liberation Sans', Arial, sans-serif" font-weight="bold" font-size="24.3" fill="#2a2aff">0</text>
<line x1="81.0" y1="770.5" x2="93.5" y2="770.5" stroke="#2a2aff" stroke-width="3"/>
<text transform="translate(71.1,770.5) rotate(-90) scale(0.86,1)" text-anchor="middle" font-family="'Liberation Sans', Arial, sans-serif" font-weight="bold" font-size="24.3" fill="#2a2aff">500</text>
<line x1="81.0" y1="582.3" x2="93.5" y2="582.3" stroke="#2a2aff" stroke-width="3"/>
<text transform="translate(71.1,579.8) rotate(-90) scale(0.86,1)" text-anchor="middle" font-family="'Liberation Sans', Arial, sans-serif" font-weight="bold" font-size="24.3" fill="#2a2aff">1,000</text>
<line x1="93.5" y1="958.8" x2="93.5" y2="971.8" stroke="#2a2aff" stroke-width="2.6"/>
<line x1="111.7" y1="958.8" x2="111.7" y2="971.8" stroke="#2a2aff" stroke-width="2.6"/>
<line x1="122.4" y1="958.8" x2="122.4" y2="971.8" stroke="#2a2aff" stroke-width="2.6"/>
<line x1="130.0" y1="958.8" x2="130.0" y2="971.8" stroke="#2a2aff" stroke-width="2.6"/>
<line x1="135.8" y1="958.8" x2="135.8" y2="971.8" stroke="#2a2aff" stroke-width="2.6"/>
<line x1="140.6" y1="958.8" x2="140.6" y2="971.8" stroke="#2a2aff" stroke-width="2.6"/>
<line x1="144.7" y1="958.8" x2="144.7" y2="971.8" stroke="#2a2aff" stroke-width="2.6"/>
<line x1="148.2" y1="958.8" x2="148.2" y2="971.8" stroke="#2a2aff" stroke-width="2.6"/>
<line x1="151.3" y1="958.8" x2="151.3" y2="971.8" stroke="#2a2aff" stroke-width="2.6"/>
<line x1="154.1" y1="958.8" x2="154.1" y2="971.8" stroke="#2a2aff" stroke-width="2.6"/>
<line x1="172.3" y1="958.8" x2="172.3" y2="971.8" stroke="#2a2aff" stroke-width="2.6"/>
<line x1="183.0" y1="958.8" x2="183.0" y2="971.8" stroke="#2a2aff" stroke-width="2.6"/>
<line x1="190.5" y1="958.8" x2="190.5" y2="971.8" stroke="#2a2aff" stroke-width="2.6"/>
<line x1="196.4" y1="958.8" x2="196.4" y2="971.8" stroke="#2a2aff" stroke-width="2.6"/>
<line x1="201.2" y1="958.8" x2="201.2" y2="971.8" stroke="#2a2aff" stroke-width="2.6"/>
<line x1="205.2" y1="958.8" x2="205.2" y2="971.8" stroke="#2a2aff" stroke-width="2.6"/>
<line x1="208.8" y1="958.8" x2="208.8" y2="971.8" stroke="#2a2aff" stroke-width="2.6"/>
<line x1="211.9" y1="958.8" x2="211.9" y2="971.8" stroke="#2a2aff" stroke-width="2.6"/>
<line x1="214.6" y1="958.8" x2="214.6" y2="971.8" stroke="#2a2aff" stroke-width="2.6"/>
<line x1="232.9" y1="958.8" x2="232.9" y2="971.8" stroke="#2a2aff" stroke-width="2.6"/>
<line x1="243.5" y1="958.8" x2="243.5" y2="971.8" stroke="#2a2aff" stroke-width="2.6"/>
<line x1="251.1" y1="958.8" x2="251.1" y2="971.8" stroke="#2a2aff" stroke-width="2.6"/>
<line x1="257.0" y1="958.8" x2="257.0" y2="971.8" stroke="#2a2aff" stroke-width="2.6"/>
<line x1="261.8" y1="958.8" x2="261.8" y2="971.8" stroke="#2a2aff" stroke-width="2.6"/>
<line x1="265.8" y1="958.8" x2="265.8" y2="971.8" stroke="#2a2aff" stroke-width="2.6"/>
<line x1="269.3" y1="958.8" x2="269.3" y2="971.8" stroke="#2a2aff" stroke-width="2.6"/>
<line x1="272.4" y1="958.8" x2="272.4" y2="971.8" stroke="#2a2aff" stroke-width="2.6"/>
<line x1="275.2" y1="958.8" x2="275.2" y2="971.8" stroke="#2a2aff" stroke-width="2.6"/>
<line x1="293.4" y1="958.8" x2="293.4" y2="971.8" stroke="#2a2aff" stroke-width="2.6"/>
<line x1="304.1" y1="958.8" x2="304.1" y2="971.8" stroke="#2a2aff" stroke-width="2.6"/>
<line x1="311.7" y1="958.8" x2="311.7" y2="971.8" stroke="#2a2aff" stroke-width="2.6"/>
<line x1="317.5" y1="958.8" x2="317.5" y2="971.8" stroke="#2a2aff" stroke-width="2.6"/>
<line x1="322.3" y1="958.8" x2="322.3" y2="971.8" stroke="#2a2aff" stroke-width="2.6"/>
<line x1="326.4" y1="958.8" x2="326.4" y2="971.8" stroke="#2a2aff" stroke-width="2.6"/>
<line x1="329.9" y1="958.8" x2="329.9" y2="971.8" stroke="#2a2aff" stroke-width="2.6"/>
<line x1="333.0" y1="958.8" x2="333.0" y2="971.8" stroke="#2a2aff" stroke-width="2.6"/>
<line x1="335.8" y1="958.8" x2="335.8" y2="971.8" stroke="#2a2aff" stroke-width="2.6"/>
<line x1="354.0" y1="958.8" x2="354.0" y2="971.8" stroke="#2a2aff" stroke-width="2.6"/>
<line x1="364.7" y1="958.8" x2="364.7" y2="971.8" stroke="#2a2aff" stroke-width="2.6"/>
<line x1="372.2" y1="958.8" x2="372.2" y2="971.8" stroke="#2a2aff" stroke-width="2.6"/>
<line x1="378.1" y1="958.8" x2="378.1" y2="971.8" stroke="#2a2aff" stroke-width="2.6"/>
<line x1="382.9" y1="958.8" x2="382.9" y2="971.8" stroke="#2a2aff" stroke-width="2.6"/>
<line x1="386.9" y1="958.8" x2="386.9" y2="971.8" stroke="#2a2aff" stroke-width="2.6"/>
<line x1="390.5" y1="958.8" x2="390.5" y2="971.8" stroke="#2a2aff" stroke-width="2.6"/>
<line x1="393.6" y1="958.8" x2="393.6" y2="971.8" stroke="#2a2aff" stroke-width="2.6"/>
<line x1="396.3" y1="958.8" x2="396.3" y2="971.8" stroke="#2a2aff" stroke-width="2.6"/>
<line x1="414.6" y1="958.8" x2="414.6" y2="971.8" stroke="#2a2aff" stroke-width="2.6"/>
<line x1="425.2" y1="958.8" x2="425.2" y2="971.8" stroke="#2a2aff" stroke-width="2.6"/>
<line x1="432.8" y1="958.8" x2="432.8" y2="971.8" stroke="#2a2aff" stroke-width="2.6"/>
<line x1="438.7" y1="958.8" x2="438.7" y2="971.8" stroke="#2a2aff" stroke-width="2.6"/>
<line x1="443.5" y1="958.8" x2="443.5" y2="971.8" stroke="#2a2aff" stroke-width="2.6"/>
<line x1="447.5" y1="958.8" x2="447.5" y2="971.8" stroke="#2a2aff" stroke-width="2.6"/>
<line x1="451.0" y1="958.8" x2="451.0" y2="971.8" stroke="#2a2aff" stroke-width="2.6"/>
<line x1="454.1" y1="958.8" x2="454.1" y2="971.8" stroke="#2a2aff" stroke-width="2.6"/>
<line x1="456.9" y1="958.8" x2="456.9" y2="971.8" stroke="#2a2aff" stroke-width="2.6"/>
<line x1="469.0" y1="958.8" x2="469.0" y2="971.8" stroke="#2a2aff" stroke-width="2.6"/>
<text transform="translate(93.5,992.3) scale(0.82,1)" text-anchor="middle" font-family="'Liberation Sans', Arial, sans-serif" fill="#2a2aff"><tspan font-weight="bold" font-size="13.5" dy="4">10</tspan><tspan font-size="23.5" dy="-4">1</tspan></text>
<text transform="translate(154.1,992.3) scale(0.82,1)" text-anchor="middle" font-family="'Liberation Sans', Arial, sans-serif" fill="#2a2aff"><tspan font-weight="bold" font-size="13.5" dy="4">10</tspan><tspan font-size="23.5" dy="-4">2</tspan></text>
<text transform="translate(214.6,992.3) scale(0.82,1)" text-anchor="middle" font-family="'Liberation Sans', Arial, sans-serif" fill="#2a2aff"><tspan font-weight="bold" font-size="13.5" dy="4">10</tspan><tspan font-size="23.5" dy="-4">3</tspan></text>
<text transform="translate(275.2,992.3) scale(0.82,1)" text-anchor="middle" font-family="'Liberation Sans', Arial, sans-serif" fill="#2a2aff"><tspan font-weight="bold" font-size="13.5" dy="4">10</tspan><tspan font-size="23.5" dy="-4">4</tspan></text>
<text transform="translate(335.8,992.3) scale(0.82,1)" text-anchor="middle" font-family="'Liberation Sans', Arial, sans-serif" fill="#2a2aff"><tspan font-weight="bold" font-size="13.5" dy="4">10</tspan><tspan font-size="23.5" dy="-4">5</tspan></text>
<text transform="translate(396.3,992.3) scale(0.82,1)" text-anchor="middle" font-family="'Liberation Sans', Arial, sans-serif" fill="#2a2aff"><tspan font-weight="bold" font-size="13.5" dy="4">10</tspan><tspan font-size="23.5" dy="-4">6</tspan></text>
<text transform="translate(469.0,992.3) scale(0.82,1)" text-anchor="middle" font-family="'Liberation Sans', Arial, sans-serif" fill="#2a2aff"><tspan font-weight="bold" font-size="13.5" dy="4">10</tspan><tspan font-size="23.5" dy="-4">7.2</tspan></text>
<text transform="translate(281.9,1020.6) scale(0.88,1)" text-anchor="middle" font-family="'Liberation Sans', Arial, sans-serif" font-size="23" letter-spacing="1.2" fill="#111">FL1-H</text>
<text transform="translate(41.7,811.5) rotate(-90)" text-anchor="middle" font-family="'Liberation Sans', Arial, sans-serif" font-weight="bold" font-size="21.5" fill="#111">Count</text>
<text x="96.0" y="607.3" font-family="'Liberation Sans', Arial, sans-serif" font-size="27" fill="#e0102e">V1-L</text>
<text x="96.0" y="631.8" font-family="'Liberation Sans', Arial, sans-serif" font-size="27" fill="#e0102e">96.5%</text>
<text x="405.5" y="607.3" font-family="'Liberation Sans', Arial, sans-serif" font-size="27" fill="#e0102e">V1-R</text>
<text x="405.5" y="631.8" font-family="'Liberation Sans', Arial, sans-serif" font-size="27" fill="#e0102e">3.5%</text>
<text x="91.0" y="567.0" font-family="'Liberation Serif', 'Times New Roman', serif" font-size="77" fill="#000">d</text>
<clipPath id="hAe"><path d="M612.0,961.4 L612.0,959.4 L613.2,956.5 L616.6,957.6 L622.4,955.9 L624.6,957.6 L632.7,957.6 L636.1,954.2 L638.4,953.6 L640.7,957.6 L641.8,951.9 L645.3,953.1 L647.6,950.8 L652.2,949.6 L656.8,950.8 L659.1,949.6 L662.5,947.3 L665.9,946.7 L667.1,942.7 L672.8,942.7 L675.1,937.0 L679.7,933.5 L680.8,927.2 L685.4,926.7 L686.6,920.9 L688.9,920.9 L690.0,925.5 L691.7,914.0 L695.8,910.6 L702.6,900.3 L704.9,898.0 L705.5,885.4 L709.5,883.6 L711.8,878.5 L712.4,870.5 L714.1,870.5 L714.7,856.1 L715.8,856.7 L717.5,860.1 L718.7,825.1 L721.0,824.6 L721.0,815.4 L722.7,811.9 L723.3,795.9 L725.0,795.3 L725.6,789.0 L727.3,788.4 L727.3,771.2 L730.2,771.2 L730.2,777.5 L731.9,779.8 L732.5,791.3 L734.2,791.9 L737.0,864.1 L738.8,864.7 L738.8,899.7 L741.1,900.3 L741.6,924.4 L743.4,925.5 L743.9,943.9 L746.8,947.3 L747.4,956.5 L750.8,958.8 L752.0,959.9 L752.0,961.4 Z"/></clipPath>
<path d="M612.0,961.4 L612.0,959.4 L613.2,956.5 L616.6,957.6 L622.4,955.9 L624.6,957.6 L632.7,957.6 L636.1,954.2 L638.4,953.6 L640.7,957.6 L641.8,951.9 L645.3,953.1 L647.6,950.8 L652.2,949.6 L656.8,950.8 L659.1,949.6 L662.5,947.3 L665.9,946.7 L667.1,942.7 L672.8,942.7 L675.1,937.0 L679.7,933.5 L680.8,927.2 L685.4,926.7 L686.6,920.9 L688.9,920.9 L690.0,925.5 L691.7,914.0 L695.8,910.6 L702.6,900.3 L704.9,898.0 L705.5,885.4 L709.5,883.6 L711.8,878.5 L712.4,870.5 L714.1,870.5 L714.7,856.1 L715.8,856.7 L717.5,860.1 L718.7,825.1 L721.0,824.6 L721.0,815.4 L722.7,811.9 L723.3,795.9 L725.0,795.3 L725.6,789.0 L727.3,788.4 L727.3,771.2 L730.2,771.2 L730.2,777.5 L731.9,779.8 L732.5,791.3 L734.2,791.9 L737.0,864.1 L738.8,864.7 L738.8,899.7 L741.1,900.3 L741.6,924.4 L743.4,925.5 L743.9,943.9 L746.8,947.3 L747.4,956.5 L750.8,958.8 L752.0,959.9 L752.0,961.4 Z" fill="#000"/>
<rect x="607.9" y="584.6" width="376.7" height="376.8" fill="none" stroke="#2a2aff" stroke-width="3"/>
<line x1="735.4" y1="586.1" x2="735.4" y2="959.9" stroke="#e43c58" stroke-width="2.6"/>
<line x1="735.4" y1="586.1" x2="735.4" y2="959.9" stroke="#98000c" stroke-width="2.6" clip-path="url(#hAe)"/>
<line x1="595.4" y1="961.4" x2="607.9" y2="961.4" stroke="#2a2aff" stroke-width="3"/>
<text transform="translate(585.5,961.4) rotate(-90) scale(0.86,1)" text-anchor="middle" font-family="'Liberation Sans', Arial, sans-serif" font-weight="bold" font-size="24.3" fill="#2a2aff">0</text>
<line x1="595.4" y1="773.0" x2="607.9" y2="773.0" stroke="#2a2aff" stroke-width="3"/>
<text transform="translate(585.5,773.0) rotate(-90) scale(0.86,1)" text-anchor="middle" font-family="'Liberation Sans', Arial, sans-serif" font-weight="bold" font-size="24.3" fill="#2a2aff">500</text>
<line x1="595.4" y1="584.6" x2="607.9" y2="584.6" stroke="#2a2aff" stroke-width="3"/>
<text transform="translate(585.5,582.1) rotate(-90) scale(0.86,1)" text-anchor="middle" font-family="'Liberation Sans', Arial, sans-serif" font-weight="bold" font-size="24.3" fill="#2a2aff">1,000</text>
<line x1="607.9" y1="961.4" x2="607.9" y2="974.4" stroke="#2a2aff" stroke-width="2.6"/>
<line x1="626.2" y1="961.4" x2="626.2" y2="974.4" stroke="#2a2aff" stroke-width="2.6"/>
<line x1="636.9" y1="961.4" x2="636.9" y2="974.4" stroke="#2a2aff" stroke-width="2.6"/>
<line x1="644.5" y1="961.4" x2="644.5" y2="974.4" stroke="#2a2aff" stroke-width="2.6"/>
<line x1="650.4" y1="961.4" x2="650.4" y2="974.4" stroke="#2a2aff" stroke-width="2.6"/>
<line x1="655.2" y1="961.4" x2="655.2" y2="974.4" stroke="#2a2aff" stroke-width="2.6"/>
<line x1="659.2" y1="961.4" x2="659.2" y2="974.4" stroke="#2a2aff" stroke-width="2.6"/>
<line x1="662.8" y1="961.4" x2="662.8" y2="974.4" stroke="#2a2aff" stroke-width="2.6"/>
<line x1="665.9" y1="961.4" x2="665.9" y2="974.4" stroke="#2a2aff" stroke-width="2.6"/>
<line x1="668.7" y1="961.4" x2="668.7" y2="974.4" stroke="#2a2aff" stroke-width="2.6"/>
<line x1="686.9" y1="961.4" x2="686.9" y2="974.4" stroke="#2a2aff" stroke-width="2.6"/>
<line x1="697.6" y1="961.4" x2="697.6" y2="974.4" stroke="#2a2aff" stroke-width="2.6"/>
<line x1="705.2" y1="961.4" x2="705.2" y2="974.4" stroke="#2a2aff" stroke-width="2.6"/>
<line x1="711.1" y1="961.4" x2="711.1" y2="974.4" stroke="#2a2aff" stroke-width="2.6"/>
<line x1="715.9" y1="961.4" x2="715.9" y2="974.4" stroke="#2a2aff" stroke-width="2.6"/>
<line x1="720.0" y1="961.4" x2="720.0" y2="974.4" stroke="#2a2aff" stroke-width="2.6"/>
<line x1="723.5" y1="961.4" x2="723.5" y2="974.4" stroke="#2a2aff" stroke-width="2.6"/>
<line x1="726.6" y1="961.4" x2="726.6" y2="974.4" stroke="#2a2aff" stroke-width="2.6"/>
<line x1="729.4" y1="961.4" x2="729.4" y2="974.4" stroke="#2a2aff" stroke-width="2.6"/>
<line x1="747.7" y1="961.4" x2="747.7" y2="974.4" stroke="#2a2aff" stroke-width="2.6"/>
<line x1="758.4" y1="961.4" x2="758.4" y2="974.4" stroke="#2a2aff" stroke-width="2.6"/>
<line x1="766.0" y1="961.4" x2="766.0" y2="974.4" stroke="#2a2aff" stroke-width="2.6"/>
<line x1="771.9" y1="961.4" x2="771.9" y2="974.4" stroke="#2a2aff" stroke-width="2.6"/>
<line x1="776.7" y1="961.4" x2="776.7" y2="974.4" stroke="#2a2aff" stroke-width="2.6"/>
<line x1="780.8" y1="961.4" x2="780.8" y2="974.4" stroke="#2a2aff" stroke-width="2.6"/>
<line x1="784.3" y1="961.4" x2="784.3" y2="974.4" stroke="#2a2aff" stroke-width="2.6"/>
<line x1="787.4" y1="961.4" x2="787.4" y2="974.4" stroke="#2a2aff" stroke-width="2.6"/>
<line x1="790.2" y1="961.4" x2="790.2" y2="974.4" stroke="#2a2aff" stroke-width="2.6"/>
<line x1="808.5" y1="961.4" x2="808.5" y2="974.4" stroke="#2a2aff" stroke-width="2.6"/>
<line x1="819.2" y1="961.4" x2="819.2" y2="974.4" stroke="#2a2aff" stroke-width="2.6"/>
<line x1="826.8" y1="961.4" x2="826.8" y2="974.4" stroke="#2a2aff" stroke-width="2.6"/>
<line x1="832.6" y1="961.4" x2="832.6" y2="974.4" stroke="#2a2aff" stroke-width="2.6"/>
<line x1="837.5" y1="961.4" x2="837.5" y2="974.4" stroke="#2a2aff" stroke-width="2.6"/>
<line x1="841.5" y1="961.4" x2="841.5" y2="974.4" stroke="#2a2aff" stroke-width="2.6"/>
<line x1="845.0" y1="961.4" x2="845.0" y2="974.4" stroke="#2a2aff" stroke-width="2.6"/>
<line x1="848.2" y1="961.4" x2="848.2" y2="974.4" stroke="#2a2aff" stroke-width="2.6"/>
<line x1="850.9" y1="961.4" x2="850.9" y2="974.4" stroke="#2a2aff" stroke-width="2.6"/>
<line x1="869.2" y1="961.4" x2="869.2" y2="974.4" stroke="#2a2aff" stroke-width="2.6"/>
<line x1="879.9" y1="961.4" x2="879.9" y2="974.4" stroke="#2a2aff" stroke-width="2.6"/>
<line x1="887.5" y1="961.4" x2="887.5" y2="974.4" stroke="#2a2aff" stroke-width="2.6"/>
<line x1="893.4" y1="961.4" x2="893.4" y2="974.4" stroke="#2a2aff" stroke-width="2.6"/>
<line x1="898.2" y1="961.4" x2="898.2" y2="974.4" stroke="#2a2aff" stroke-width="2.6"/>
<line x1="902.3" y1="961.4" x2="902.3" y2="974.4" stroke="#2a2aff" stroke-width="2.6"/>
<line x1="905.8" y1="961.4" x2="905.8" y2="974.4" stroke="#2a2aff" stroke-width="2.6"/>
<line x1="908.9" y1="961.4" x2="908.9" y2="974.4" stroke="#2a2aff" stroke-width="2.6"/>
<line x1="911.7" y1="961.4" x2="911.7" y2="974.4" stroke="#2a2aff" stroke-width="2.6"/>
<line x1="930.0" y1="961.4" x2="930.0" y2="974.4" stroke="#2a2aff" stroke-width="2.6"/>
<line x1="940.7" y1="961.4" x2="940.7" y2="974.4" stroke="#2a2aff" stroke-width="2.6"/>
<line x1="948.3" y1="961.4" x2="948.3" y2="974.4" stroke="#2a2aff" stroke-width="2.6"/>
<line x1="954.2" y1="961.4" x2="954.2" y2="974.4" stroke="#2a2aff" stroke-width="2.6"/>
<line x1="959.0" y1="961.4" x2="959.0" y2="974.4" stroke="#2a2aff" stroke-width="2.6"/>
<line x1="963.0" y1="961.4" x2="963.0" y2="974.4" stroke="#2a2aff" stroke-width="2.6"/>
<line x1="966.6" y1="961.4" x2="966.6" y2="974.4" stroke="#2a2aff" stroke-width="2.6"/>
<line x1="969.7" y1="961.4" x2="969.7" y2="974.4" stroke="#2a2aff" stroke-width="2.6"/>
<line x1="972.4" y1="961.4" x2="972.4" y2="974.4" stroke="#2a2aff" stroke-width="2.6"/>
<line x1="984.6" y1="961.4" x2="984.6" y2="974.4" stroke="#2a2aff" stroke-width="2.6"/>
<text transform="translate(607.9,994.9) scale(0.82,1)" text-anchor="middle" font-family="'Liberation Sans', Arial, sans-serif" fill="#2a2aff"><tspan font-weight="bold" font-size="13.5" dy="4">10</tspan><tspan font-size="23.5" dy="-4">1</tspan></text>
<text transform="translate(668.7,994.9) scale(0.82,1)" text-anchor="middle" font-family="'Liberation Sans', Arial, sans-serif" fill="#2a2aff"><tspan font-weight="bold" font-size="13.5" dy="4">10</tspan><tspan font-size="23.5" dy="-4">2</tspan></text>
<text transform="translate(729.4,994.9) scale(0.82,1)" text-anchor="middle" font-family="'Liberation Sans', Arial, sans-serif" fill="#2a2aff"><tspan font-weight="bold" font-size="13.5" dy="4">10</tspan><tspan font-size="23.5" dy="-4">3</tspan></text>
<text transform="translate(790.2,994.9) scale(0.82,1)" text-anchor="middle" font-family="'Liberation Sans', Arial, sans-serif" fill="#2a2aff"><tspan font-weight="bold" font-size="13.5" dy="4">10</tspan><tspan font-size="23.5" dy="-4">4</tspan></text>
<text transform="translate(850.9,994.9) scale(0.82,1)" text-anchor="middle" font-family="'Liberation Sans', Arial, sans-serif" fill="#2a2aff"><tspan font-weight="bold" font-size="13.5" dy="4">10</tspan><tspan font-size="23.5" dy="-4">5</tspan></text>
<text transform="translate(911.7,994.9) scale(0.82,1)" text-anchor="middle" font-family="'Liberation Sans', Arial, sans-serif" fill="#2a2aff"><tspan font-weight="bold" font-size="13.5" dy="4">10</tspan><tspan font-size="23.5" dy="-4">6</tspan></text>
<text transform="translate(984.6,994.9) scale(0.82,1)" text-anchor="middle" font-family="'Liberation Sans', Arial, sans-serif" fill="#2a2aff"><tspan font-weight="bold" font-size="13.5" dy="4">10</tspan><tspan font-size="23.5" dy="-4">7.2</tspan></text>
<text transform="translate(796.9,1023.2) scale(0.88,1)" text-anchor="middle" font-family="'Liberation Sans', Arial, sans-serif" font-size="23" letter-spacing="1.2" fill="#111">FL1-H</text>
<text transform="translate(556.1,814.0) rotate(-90)" text-anchor="middle" font-family="'Liberation Sans', Arial, sans-serif" font-weight="bold" font-size="21.5" fill="#111">Count</text>
<text x="610.4" y="609.6" font-family="'Liberation Sans', Arial, sans-serif" font-size="27" fill="#e0102e">V1-L</text>
<text x="610.4" y="634.1" font-family="'Liberation Sans', Arial, sans-serif" font-size="27" fill="#e0102e">91.9%</text>
<text x="921.1" y="609.6" font-family="'Liberation Sans', Arial, sans-serif" font-size="27" fill="#e0102e">V1-R</text>
<text x="921.1" y="634.1" font-family="'Liberation Sans', Arial, sans-serif" font-size="27" fill="#e0102e">8.1%</text>
<text x="604.5" y="567.0" font-family="'Liberation Serif', 'Times New Roman', serif" font-size="77" fill="#000">e</text>
<clipPath id="hAf"><path d="M1118.3,961.6 L1118.3,959.9 L1119.5,956.5 L1122.9,957.6 L1130.9,957.1 L1137.8,956.5 L1142.4,955.9 L1149.3,956.5 L1151.6,954.2 L1155.0,951.9 L1158.5,953.6 L1163.1,953.6 L1165.3,950.8 L1169.9,947.3 L1172.2,946.7 L1176.8,945.6 L1179.1,943.9 L1182.5,941.6 L1186.0,938.1 L1188.3,933.5 L1188.9,924.9 L1190.6,931.3 L1192.9,927.2 L1195.2,931.3 L1196.9,918.6 L1200.9,915.2 L1202.6,908.3 L1206.6,904.9 L1207.2,895.7 L1210.1,896.3 L1211.2,902.6 L1212.9,887.7 L1215.8,877.3 L1217.5,869.3 L1219.8,860.1 L1222.1,849.8 L1226.1,842.9 L1227.9,837.8 L1229.0,813.1 L1230.7,812.5 L1231.3,787.3 L1233.0,785.6 L1234.2,777.5 L1235.3,776.4 L1235.3,767.2 L1237.6,766.6 L1238.7,780.4 L1241.6,782.1 L1242.2,804.5 L1244.5,805.1 L1245.1,826.9 L1245.6,851.0 L1247.9,852.1 L1248.5,879.6 L1251.9,882.5 L1253.1,903.7 L1254.8,904.9 L1256.5,914.0 L1257.1,931.3 L1260.5,933.5 L1262.3,940.4 L1266.3,947.3 L1269.7,955.3 L1275.5,958.2 L1276.6,959.9 L1276.6,961.6 Z"/></clipPath>
<path d="M1118.3,961.6 L1118.3,959.9 L1119.5,956.5 L1122.9,957.6 L1130.9,957.1 L1137.8,956.5 L1142.4,955.9 L1149.3,956.5 L1151.6,954.2 L1155.0,951.9 L1158.5,953.6 L1163.1,953.6 L1165.3,950.8 L1169.9,947.3 L1172.2,946.7 L1176.8,945.6 L1179.1,943.9 L1182.5,941.6 L1186.0,938.1 L1188.3,933.5 L1188.9,924.9 L1190.6,931.3 L1192.9,927.2 L1195.2,931.3 L1196.9,918.6 L1200.9,915.2 L1202.6,908.3 L1206.6,904.9 L1207.2,895.7 L1210.1,896.3 L1211.2,902.6 L1212.9,887.7 L1215.8,877.3 L1217.5,869.3 L1219.8,860.1 L1222.1,849.8 L1226.1,842.9 L1227.9,837.8 L1229.0,813.1 L1230.7,812.5 L1231.3,787.3 L1233.0,785.6 L1234.2,777.5 L1235.3,776.4 L1235.3,767.2 L1237.6,766.6 L1238.7,780.4 L1241.6,782.1 L1242.2,804.5 L1244.5,805.1 L1245.1,826.9 L1245.6,851.0 L1247.9,852.1 L1248.5,879.6 L1251.9,882.5 L1253.1,903.7 L1254.8,904.9 L1256.5,914.0 L1257.1,931.3 L1260.5,933.5 L1262.3,940.4 L1266.3,947.3 L1269.7,955.3 L1275.5,958.2 L1276.6,959.9 L1276.6,961.6 Z" fill="#000"/>
<rect x="1111.3" y="584.5" width="377.3" height="377.1" fill="none" stroke="#2a2aff" stroke-width="3"/>
<line x1="1238.3" y1="586.0" x2="1238.3" y2="960.1" stroke="#e43c58" stroke-width="2.6"/>
<line x1="1238.3" y1="586.0" x2="1238.3" y2="960.1" stroke="#98000c" stroke-width="2.6" clip-path="url(#hAf)"/>
<line x1="1098.8" y1="961.6" x2="1111.3" y2="961.6" stroke="#2a2aff" stroke-width="3"/>
<text transform="translate(1088.9,961.6) rotate(-90) scale(0.86,1)" text-anchor="middle" font-family="'Liberation Sans', Arial, sans-serif" font-weight="bold" font-size="24.3" fill="#2a2aff">0</text>
<line x1="1098.8" y1="773.0" x2="1111.3" y2="773.0" stroke="#2a2aff" stroke-width="3"/>
<text transform="translate(1088.9,773.0) rotate(-90) scale(0.86,1)" text-anchor="middle" font-family="'Liberation Sans', Arial, sans-serif" font-weight="bold" font-size="24.3" fill="#2a2aff">500</text>
<line x1="1098.8" y1="584.5" x2="1111.3" y2="584.5" stroke="#2a2aff" stroke-width="3"/>
<text transform="translate(1088.9,582.0) rotate(-90) scale(0.86,1)" text-anchor="middle" font-family="'Liberation Sans', Arial, sans-serif" font-weight="bold" font-size="24.3" fill="#2a2aff">1,000</text>
<line x1="1111.3" y1="961.6" x2="1111.3" y2="974.6" stroke="#2a2aff" stroke-width="2.6"/>
<line x1="1129.6" y1="961.6" x2="1129.6" y2="974.6" stroke="#2a2aff" stroke-width="2.6"/>
<line x1="1140.3" y1="961.6" x2="1140.3" y2="974.6" stroke="#2a2aff" stroke-width="2.6"/>
<line x1="1147.9" y1="961.6" x2="1147.9" y2="974.6" stroke="#2a2aff" stroke-width="2.6"/>
<line x1="1153.8" y1="961.6" x2="1153.8" y2="974.6" stroke="#2a2aff" stroke-width="2.6"/>
<line x1="1158.7" y1="961.6" x2="1158.7" y2="974.6" stroke="#2a2aff" stroke-width="2.6"/>
<line x1="1162.7" y1="961.6" x2="1162.7" y2="974.6" stroke="#2a2aff" stroke-width="2.6"/>
<line x1="1166.3" y1="961.6" x2="1166.3" y2="974.6" stroke="#2a2aff" stroke-width="2.6"/>
<line x1="1169.4" y1="961.6" x2="1169.4" y2="974.6" stroke="#2a2aff" stroke-width="2.6"/>
<line x1="1172.2" y1="961.6" x2="1172.2" y2="974.6" stroke="#2a2aff" stroke-width="2.6"/>
<line x1="1190.5" y1="961.6" x2="1190.5" y2="974.6" stroke="#2a2aff" stroke-width="2.6"/>
<line x1="1201.2" y1="961.6" x2="1201.2" y2="974.6" stroke="#2a2aff" stroke-width="2.6"/>
<line x1="1208.8" y1="961.6" x2="1208.8" y2="974.6" stroke="#2a2aff" stroke-width="2.6"/>
<line x1="1214.7" y1="961.6" x2="1214.7" y2="974.6" stroke="#2a2aff" stroke-width="2.6"/>
<line x1="1219.5" y1="961.6" x2="1219.5" y2="974.6" stroke="#2a2aff" stroke-width="2.6"/>
<line x1="1223.6" y1="961.6" x2="1223.6" y2="974.6" stroke="#2a2aff" stroke-width="2.6"/>
<line x1="1227.1" y1="961.6" x2="1227.1" y2="974.6" stroke="#2a2aff" stroke-width="2.6"/>
<line x1="1230.2" y1="961.6" x2="1230.2" y2="974.6" stroke="#2a2aff" stroke-width="2.6"/>
<line x1="1233.0" y1="961.6" x2="1233.0" y2="974.6" stroke="#2a2aff" stroke-width="2.6"/>
<line x1="1251.3" y1="961.6" x2="1251.3" y2="974.6" stroke="#2a2aff" stroke-width="2.6"/>
<line x1="1262.0" y1="961.6" x2="1262.0" y2="974.6" stroke="#2a2aff" stroke-width="2.6"/>
<line x1="1269.6" y1="961.6" x2="1269.6" y2="974.6" stroke="#2a2aff" stroke-width="2.6"/>
<line x1="1275.5" y1="961.6" x2="1275.5" y2="974.6" stroke="#2a2aff" stroke-width="2.6"/>
<line x1="1280.4" y1="961.6" x2="1280.4" y2="974.6" stroke="#2a2aff" stroke-width="2.6"/>
<line x1="1284.4" y1="961.6" x2="1284.4" y2="974.6" stroke="#2a2aff" stroke-width="2.6"/>
<line x1="1288.0" y1="961.6" x2="1288.0" y2="974.6" stroke="#2a2aff" stroke-width="2.6"/>
<line x1="1291.1" y1="961.6" x2="1291.1" y2="974.6" stroke="#2a2aff" stroke-width="2.6"/>
<line x1="1293.9" y1="961.6" x2="1293.9" y2="974.6" stroke="#2a2aff" stroke-width="2.6"/>
<line x1="1312.2" y1="961.6" x2="1312.2" y2="974.6" stroke="#2a2aff" stroke-width="2.6"/>
<line x1="1322.9" y1="961.6" x2="1322.9" y2="974.6" stroke="#2a2aff" stroke-width="2.6"/>
<line x1="1330.5" y1="961.6" x2="1330.5" y2="974.6" stroke="#2a2aff" stroke-width="2.6"/>
<line x1="1336.4" y1="961.6" x2="1336.4" y2="974.6" stroke="#2a2aff" stroke-width="2.6"/>
<line x1="1341.2" y1="961.6" x2="1341.2" y2="974.6" stroke="#2a2aff" stroke-width="2.6"/>
<line x1="1345.3" y1="961.6" x2="1345.3" y2="974.6" stroke="#2a2aff" stroke-width="2.6"/>
<line x1="1348.8" y1="961.6" x2="1348.8" y2="974.6" stroke="#2a2aff" stroke-width="2.6"/>
<line x1="1351.9" y1="961.6" x2="1351.9" y2="974.6" stroke="#2a2aff" stroke-width="2.6"/>
<line x1="1354.7" y1="961.6" x2="1354.7" y2="974.6" stroke="#2a2aff" stroke-width="2.6"/>
<line x1="1373.0" y1="961.6" x2="1373.0" y2="974.6" stroke="#2a2aff" stroke-width="2.6"/>
<line x1="1383.8" y1="961.6" x2="1383.8" y2="974.6" stroke="#2a2aff" stroke-width="2.6"/>
<line x1="1391.4" y1="961.6" x2="1391.4" y2="974.6" stroke="#2a2aff" stroke-width="2.6"/>
<line x1="1397.3" y1="961.6" x2="1397.3" y2="974.6" stroke="#2a2aff" stroke-width="2.6"/>
<line x1="1402.1" y1="961.6" x2="1402.1" y2="974.6" stroke="#2a2aff" stroke-width="2.6"/>
<line x1="1406.1" y1="961.6" x2="1406.1" y2="974.6" stroke="#2a2aff" stroke-width="2.6"/>
<line x1="1409.7" y1="961.6" x2="1409.7" y2="974.6" stroke="#2a2aff" stroke-width="2.6"/>
<line x1="1412.8" y1="961.6" x2="1412.8" y2="974.6" stroke="#2a2aff" stroke-width="2.6"/>
<line x1="1415.6" y1="961.6" x2="1415.6" y2="974.6" stroke="#2a2aff" stroke-width="2.6"/>
<line x1="1433.9" y1="961.6" x2="1433.9" y2="974.6" stroke="#2a2aff" stroke-width="2.6"/>
<line x1="1444.6" y1="961.6" x2="1444.6" y2="974.6" stroke="#2a2aff" stroke-width="2.6"/>
<line x1="1452.2" y1="961.6" x2="1452.2" y2="974.6" stroke="#2a2aff" stroke-width="2.6"/>
<line x1="1458.1" y1="961.6" x2="1458.1" y2="974.6" stroke="#2a2aff" stroke-width="2.6"/>
<line x1="1462.9" y1="961.6" x2="1462.9" y2="974.6" stroke="#2a2aff" stroke-width="2.6"/>
<line x1="1467.0" y1="961.6" x2="1467.0" y2="974.6" stroke="#2a2aff" stroke-width="2.6"/>
<line x1="1470.5" y1="961.6" x2="1470.5" y2="974.6" stroke="#2a2aff" stroke-width="2.6"/>
<line x1="1473.6" y1="961.6" x2="1473.6" y2="974.6" stroke="#2a2aff" stroke-width="2.6"/>
<line x1="1476.4" y1="961.6" x2="1476.4" y2="974.6" stroke="#2a2aff" stroke-width="2.6"/>
<line x1="1488.6" y1="961.6" x2="1488.6" y2="974.6" stroke="#2a2aff" stroke-width="2.6"/>
<text transform="translate(1111.3,995.1) scale(0.82,1)" text-anchor="middle" font-family="'Liberation Sans', Arial, sans-serif" fill="#2a2aff"><tspan font-weight="bold" font-size="13.5" dy="4">10</tspan><tspan font-size="23.5" dy="-4">1</tspan></text>
<text transform="translate(1172.2,995.1) scale(0.82,1)" text-anchor="middle" font-family="'Liberation Sans', Arial, sans-serif" fill="#2a2aff"><tspan font-weight="bold" font-size="13.5" dy="4">10</tspan><tspan font-size="23.5" dy="-4">2</tspan></text>
<text transform="translate(1233.0,995.1) scale(0.82,1)" text-anchor="middle" font-family="'Liberation Sans', Arial, sans-serif" fill="#2a2aff"><tspan font-weight="bold" font-size="13.5" dy="4">10</tspan><tspan font-size="23.5" dy="-4">3</tspan></text>
<text transform="translate(1293.9,995.1) scale(0.82,1)" text-anchor="middle" font-family="'Liberation Sans', Arial, sans-serif" fill="#2a2aff"><tspan font-weight="bold" font-size="13.5" dy="4">10</tspan><tspan font-size="23.5" dy="-4">4</tspan></text>
<text transform="translate(1354.7,995.1) scale(0.82,1)" text-anchor="middle" font-family="'Liberation Sans', Arial, sans-serif" fill="#2a2aff"><tspan font-weight="bold" font-size="13.5" dy="4">10</tspan><tspan font-size="23.5" dy="-4">5</tspan></text>
<text transform="translate(1415.6,995.1) scale(0.82,1)" text-anchor="middle" font-family="'Liberation Sans', Arial, sans-serif" fill="#2a2aff"><tspan font-weight="bold" font-size="13.5" dy="4">10</tspan><tspan font-size="23.5" dy="-4">6</tspan></text>
<text transform="translate(1488.6,995.1) scale(0.82,1)" text-anchor="middle" font-family="'Liberation Sans', Arial, sans-serif" fill="#2a2aff"><tspan font-weight="bold" font-size="13.5" dy="4">10</tspan><tspan font-size="23.5" dy="-4">7.2</tspan></text>
<text transform="translate(1300.5,1023.4) scale(0.88,1)" text-anchor="middle" font-family="'Liberation Sans', Arial, sans-serif" font-size="23" letter-spacing="1.2" fill="#111">FL1-H</text>
<text transform="translate(1059.5,814.0) rotate(-90)" text-anchor="middle" font-family="'Liberation Sans', Arial, sans-serif" font-weight="bold" font-size="21.5" fill="#111">Count</text>
<text x="1113.8" y="609.5" font-family="'Liberation Sans', Arial, sans-serif" font-size="27" fill="#e0102e">V1-L</text>
<text x="1113.8" y="634.0" font-family="'Liberation Sans', Arial, sans-serif" font-size="27" fill="#e0102e">71.4%</text>
<text x="1410.1" y="609.5" font-family="'Liberation Sans', Arial, sans-serif" font-size="27" fill="#e0102e">V1-R</text>
<text x="1410.1" y="634.0" font-family="'Liberation Sans', Arial, sans-serif" font-size="27" fill="#e0102e">28.6%</text>
<text x="1116.5" y="567.0" font-family="'Liberation Serif', 'Times New Roman', serif" font-size="77" fill="#000">f</text>
<clipPath id="hCa"><path d="M98.7,1622.4 L98.7,1619.8 L103.4,1614.3 L106.6,1615.1 L108.9,1619.8 L111.3,1619.1 L117.5,1614.3 L120.7,1615.9 L125.4,1612.8 L130.1,1610.4 L136.4,1609.6 L138.7,1614.3 L140.3,1608.9 L145.8,1608.1 L148.9,1604.9 L156.8,1604.1 L158.3,1595.5 L161.5,1597.1 L163.1,1591.6 L166.2,1592.4 L167.8,1586.9 L170.9,1585.3 L174.0,1568.8 L175.6,1570.4 L176.4,1576.7 L178.7,1572.0 L182.7,1569.6 L185.0,1555.5 L188.9,1553.9 L192.9,1537.4 L195.2,1525.7 L196.8,1531.2 L199.1,1517.8 L203.9,1518.6 L203.9,1502.9 L207.0,1493.5 L207.8,1466.8 L210.9,1466.0 L210.9,1442.5 L213.3,1440.9 L213.3,1411.9 L215.6,1410.3 L215.6,1377.4 L218.0,1372.7 L219.5,1349.1 L221.1,1349.9 L221.9,1412.7 L224.3,1414.3 L225.0,1460.5 L226.6,1461.3 L227.4,1506.8 L228.2,1507.6 L229.0,1540.6 L230.5,1542.2 L232.1,1568.8 L233.7,1570.4 L235.2,1586.1 L237.6,1592.4 L240.0,1608.1 L243.1,1611.2 L247.8,1612.0 L250.9,1609.6 L254.1,1614.3 L257.2,1617.5 L261.9,1619.8 L263.5,1620.6 L263.5,1622.4 Z"/></clipPath>
<path d="M98.7,1622.4 L98.7,1619.8 L103.4,1614.3 L106.6,1615.1 L108.9,1619.8 L111.3,1619.1 L117.5,1614.3 L120.7,1615.9 L125.4,1612.8 L130.1,1610.4 L136.4,1609.6 L138.7,1614.3 L140.3,1608.9 L145.8,1608.1 L148.9,1604.9 L156.8,1604.1 L158.3,1595.5 L161.5,1597.1 L163.1,1591.6 L166.2,1592.4 L167.8,1586.9 L170.9,1585.3 L174.0,1568.8 L175.6,1570.4 L176.4,1576.7 L178.7,1572.0 L182.7,1569.6 L185.0,1555.5 L188.9,1553.9 L192.9,1537.4 L195.2,1525.7 L196.8,1531.2 L199.1,1517.8 L203.9,1518.6 L203.9,1502.9 L207.0,1493.5 L207.8,1466.8 L210.9,1466.0 L210.9,1442.5 L213.3,1440.9 L213.3,1411.9 L215.6,1410.3 L215.6,1377.4 L218.0,1372.7 L219.5,1349.1 L221.1,1349.9 L221.9,1412.7 L224.3,1414.3 L225.0,1460.5 L226.6,1461.3 L227.4,1506.8 L228.2,1507.6 L229.0,1540.6 L230.5,1542.2 L232.1,1568.8 L233.7,1570.4 L235.2,1586.1 L237.6,1592.4 L240.0,1608.1 L243.1,1611.2 L247.8,1612.0 L250.9,1609.6 L254.1,1614.3 L257.2,1617.5 L261.9,1619.8 L263.5,1620.6 L263.5,1622.4 Z" fill="#000"/>
<rect x="95.7" y="1232.6" width="383.5" height="389.8" fill="none" stroke="#2a2aff" stroke-width="3"/>
<line x1="263.9" y1="1234.1" x2="263.9" y2="1620.9" stroke="#e43c58" stroke-width="2.6"/>
<line x1="263.9" y1="1234.1" x2="263.9" y2="1620.9" stroke="#98000c" stroke-width="2.6" clip-path="url(#hCa)"/>
<line x1="83.2" y1="1622.4" x2="95.7" y2="1622.4" stroke="#2a2aff" stroke-width="3"/>
<text transform="translate(73.3,1622.4) rotate(-90) scale(0.86,1)" text-anchor="middle" font-family="'Liberation Sans', Arial, sans-serif" font-weight="bold" font-size="24.3" fill="#2a2aff">0</text>
<line x1="83.2" y1="1525.0" x2="95.7" y2="1525.0" stroke="#2a2aff" stroke-width="3"/>
<text transform="translate(73.3,1525.0) rotate(-90) scale(0.86,1)" text-anchor="middle" font-family="'Liberation Sans', Arial, sans-serif" font-weight="bold" font-size="24.3" fill="#2a2aff">200</text>
<line x1="83.2" y1="1427.5" x2="95.7" y2="1427.5" stroke="#2a2aff" stroke-width="3"/>
<text transform="translate(73.3,1427.5) rotate(-90) scale(0.86,1)" text-anchor="middle" font-family="'Liberation Sans', Arial, sans-serif" font-weight="bold" font-size="24.3" fill="#2a2aff">400</text>
<line x1="83.2" y1="1330.0" x2="95.7" y2="1330.0" stroke="#2a2aff" stroke-width="3"/>
<text transform="translate(73.3,1330.0) rotate(-90) scale(0.86,1)" text-anchor="middle" font-family="'Liberation Sans', Arial, sans-serif" font-weight="bold" font-size="24.3" fill="#2a2aff">600</text>
<line x1="83.2" y1="1232.6" x2="95.7" y2="1232.6" stroke="#2a2aff" stroke-width="3"/>
<text transform="translate(73.3,1232.6) rotate(-90) scale(0.86,1)" text-anchor="middle" font-family="'Liberation Sans', Arial, sans-serif" font-weight="bold" font-size="24.3" fill="#2a2aff">800</text>
<line x1="95.7" y1="1622.4" x2="95.7" y2="1635.4" stroke="#2a2aff" stroke-width="2.6"/>
<line x1="114.3" y1="1622.4" x2="114.3" y2="1635.4" stroke="#2a2aff" stroke-width="2.6"/>
<line x1="125.2" y1="1622.4" x2="125.2" y2="1635.4" stroke="#2a2aff" stroke-width="2.6"/>
<line x1="132.9" y1="1622.4" x2="132.9" y2="1635.4" stroke="#2a2aff" stroke-width="2.6"/>
<line x1="138.9" y1="1622.4" x2="138.9" y2="1635.4" stroke="#2a2aff" stroke-width="2.6"/>
<line x1="143.8" y1="1622.4" x2="143.8" y2="1635.4" stroke="#2a2aff" stroke-width="2.6"/>
<line x1="148.0" y1="1622.4" x2="148.0" y2="1635.4" stroke="#2a2aff" stroke-width="2.6"/>
<line x1="151.6" y1="1622.4" x2="151.6" y2="1635.4" stroke="#2a2aff" stroke-width="2.6"/>
<line x1="154.7" y1="1622.4" x2="154.7" y2="1635.4" stroke="#2a2aff" stroke-width="2.6"/>
<line x1="157.6" y1="1622.4" x2="157.6" y2="1635.4" stroke="#2a2aff" stroke-width="2.6"/>
<line x1="176.2" y1="1622.4" x2="176.2" y2="1635.4" stroke="#2a2aff" stroke-width="2.6"/>
<line x1="187.1" y1="1622.4" x2="187.1" y2="1635.4" stroke="#2a2aff" stroke-width="2.6"/>
<line x1="194.8" y1="1622.4" x2="194.8" y2="1635.4" stroke="#2a2aff" stroke-width="2.6"/>
<line x1="200.8" y1="1622.4" x2="200.8" y2="1635.4" stroke="#2a2aff" stroke-width="2.6"/>
<line x1="205.7" y1="1622.4" x2="205.7" y2="1635.4" stroke="#2a2aff" stroke-width="2.6"/>
<line x1="209.8" y1="1622.4" x2="209.8" y2="1635.4" stroke="#2a2aff" stroke-width="2.6"/>
<line x1="213.4" y1="1622.4" x2="213.4" y2="1635.4" stroke="#2a2aff" stroke-width="2.6"/>
<line x1="216.6" y1="1622.4" x2="216.6" y2="1635.4" stroke="#2a2aff" stroke-width="2.6"/>
<line x1="219.4" y1="1622.4" x2="219.4" y2="1635.4" stroke="#2a2aff" stroke-width="2.6"/>
<line x1="238.0" y1="1622.4" x2="238.0" y2="1635.4" stroke="#2a2aff" stroke-width="2.6"/>
<line x1="248.9" y1="1622.4" x2="248.9" y2="1635.4" stroke="#2a2aff" stroke-width="2.6"/>
<line x1="256.7" y1="1622.4" x2="256.7" y2="1635.4" stroke="#2a2aff" stroke-width="2.6"/>
<line x1="262.6" y1="1622.4" x2="262.6" y2="1635.4" stroke="#2a2aff" stroke-width="2.6"/>
<line x1="267.5" y1="1622.4" x2="267.5" y2="1635.4" stroke="#2a2aff" stroke-width="2.6"/>
<line x1="271.7" y1="1622.4" x2="271.7" y2="1635.4" stroke="#2a2aff" stroke-width="2.6"/>
<line x1="275.3" y1="1622.4" x2="275.3" y2="1635.4" stroke="#2a2aff" stroke-width="2.6"/>
<line x1="278.4" y1="1622.4" x2="278.4" y2="1635.4" stroke="#2a2aff" stroke-width="2.6"/>
<line x1="281.3" y1="1622.4" x2="281.3" y2="1635.4" stroke="#2a2aff" stroke-width="2.6"/>
<line x1="299.9" y1="1622.4" x2="299.9" y2="1635.4" stroke="#2a2aff" stroke-width="2.6"/>
<line x1="310.8" y1="1622.4" x2="310.8" y2="1635.4" stroke="#2a2aff" stroke-width="2.6"/>
<line x1="318.5" y1="1622.4" x2="318.5" y2="1635.4" stroke="#2a2aff" stroke-width="2.6"/>
<line x1="324.5" y1="1622.4" x2="324.5" y2="1635.4" stroke="#2a2aff" stroke-width="2.6"/>
<line x1="329.4" y1="1622.4" x2="329.4" y2="1635.4" stroke="#2a2aff" stroke-width="2.6"/>
<line x1="333.5" y1="1622.4" x2="333.5" y2="1635.4" stroke="#2a2aff" stroke-width="2.6"/>
<line x1="337.1" y1="1622.4" x2="337.1" y2="1635.4" stroke="#2a2aff" stroke-width="2.6"/>
<line x1="340.3" y1="1622.4" x2="340.3" y2="1635.4" stroke="#2a2aff" stroke-width="2.6"/>
<line x1="343.1" y1="1622.4" x2="343.1" y2="1635.4" stroke="#2a2aff" stroke-width="2.6"/>
<line x1="361.7" y1="1622.4" x2="361.7" y2="1635.4" stroke="#2a2aff" stroke-width="2.6"/>
<line x1="372.6" y1="1622.4" x2="372.6" y2="1635.4" stroke="#2a2aff" stroke-width="2.6"/>
<line x1="380.4" y1="1622.4" x2="380.4" y2="1635.4" stroke="#2a2aff" stroke-width="2.6"/>
<line x1="386.4" y1="1622.4" x2="386.4" y2="1635.4" stroke="#2a2aff" stroke-width="2.6"/>
<line x1="391.3" y1="1622.4" x2="391.3" y2="1635.4" stroke="#2a2aff" stroke-width="2.6"/>
<line x1="395.4" y1="1622.4" x2="395.4" y2="1635.4" stroke="#2a2aff" stroke-width="2.6"/>
<line x1="399.0" y1="1622.4" x2="399.0" y2="1635.4" stroke="#2a2aff" stroke-width="2.6"/>
<line x1="402.1" y1="1622.4" x2="402.1" y2="1635.4" stroke="#2a2aff" stroke-width="2.6"/>
<line x1="405.0" y1="1622.4" x2="405.0" y2="1635.4" stroke="#2a2aff" stroke-width="2.6"/>
<line x1="423.6" y1="1622.4" x2="423.6" y2="1635.4" stroke="#2a2aff" stroke-width="2.6"/>
<line x1="434.5" y1="1622.4" x2="434.5" y2="1635.4" stroke="#2a2aff" stroke-width="2.6"/>
<line x1="442.2" y1="1622.4" x2="442.2" y2="1635.4" stroke="#2a2aff" stroke-width="2.6"/>
<line x1="448.2" y1="1622.4" x2="448.2" y2="1635.4" stroke="#2a2aff" stroke-width="2.6"/>
<line x1="453.1" y1="1622.4" x2="453.1" y2="1635.4" stroke="#2a2aff" stroke-width="2.6"/>
<line x1="457.2" y1="1622.4" x2="457.2" y2="1635.4" stroke="#2a2aff" stroke-width="2.6"/>
<line x1="460.8" y1="1622.4" x2="460.8" y2="1635.4" stroke="#2a2aff" stroke-width="2.6"/>
<line x1="464.0" y1="1622.4" x2="464.0" y2="1635.4" stroke="#2a2aff" stroke-width="2.6"/>
<line x1="466.8" y1="1622.4" x2="466.8" y2="1635.4" stroke="#2a2aff" stroke-width="2.6"/>
<line x1="479.2" y1="1622.4" x2="479.2" y2="1635.4" stroke="#2a2aff" stroke-width="2.6"/>
<text transform="translate(95.7,1655.9) scale(0.82,1)" text-anchor="middle" font-family="'Liberation Sans', Arial, sans-serif" fill="#2a2aff"><tspan font-weight="bold" font-size="13.5" dy="4">10</tspan><tspan font-size="23.5" dy="-4">1</tspan></text>
<text transform="translate(157.6,1655.9) scale(0.82,1)" text-anchor="middle" font-family="'Liberation Sans', Arial, sans-serif" fill="#2a2aff"><tspan font-weight="bold" font-size="13.5" dy="4">10</tspan><tspan font-size="23.5" dy="-4">2</tspan></text>
<text transform="translate(219.4,1655.9) scale(0.82,1)" text-anchor="middle" font-family="'Liberation Sans', Arial, sans-serif" fill="#2a2aff"><tspan font-weight="bold" font-size="13.5" dy="4">10</tspan><tspan font-size="23.5" dy="-4">3</tspan></text>
<text transform="translate(281.3,1655.9) scale(0.82,1)" text-anchor="middle" font-family="'Liberation Sans', Arial, sans-serif" fill="#2a2aff"><tspan font-weight="bold" font-size="13.5" dy="4">10</tspan><tspan font-size="23.5" dy="-4">4</tspan></text>
<text transform="translate(343.1,1655.9) scale(0.82,1)" text-anchor="middle" font-family="'Liberation Sans', Arial, sans-serif" fill="#2a2aff"><tspan font-weight="bold" font-size="13.5" dy="4">10</tspan><tspan font-size="23.5" dy="-4">5</tspan></text>
<text transform="translate(405.0,1655.9) scale(0.82,1)" text-anchor="middle" font-family="'Liberation Sans', Arial, sans-serif" fill="#2a2aff"><tspan font-weight="bold" font-size="13.5" dy="4">10</tspan><tspan font-size="23.5" dy="-4">6</tspan></text>
<text transform="translate(479.2,1655.9) scale(0.82,1)" text-anchor="middle" font-family="'Liberation Sans', Arial, sans-serif" fill="#2a2aff"><tspan font-weight="bold" font-size="13.5" dy="4">10</tspan><tspan font-size="23.5" dy="-4">7.2</tspan></text>
<text transform="translate(288.1,1684.2) scale(0.88,1)" text-anchor="middle" font-family="'Liberation Sans', Arial, sans-serif" font-size="23" letter-spacing="1.2" fill="#111">FL1-H</text>
<text transform="translate(43.9,1468.5) rotate(-90)" text-anchor="middle" font-family="'Liberation Sans', Arial, sans-serif" font-weight="bold" font-size="21.5" fill="#111">Count</text>
<text x="98.2" y="1257.6" font-family="'Liberation Sans', Arial, sans-serif" font-size="27" fill="#e0102e">V1-L</text>
<text x="98.2" y="1282.1" font-family="'Liberation Sans', Arial, sans-serif" font-size="27" fill="#e0102e">99.8%</text>
<text x="415.7" y="1257.6" font-family="'Liberation Sans', Arial, sans-serif" font-size="27" fill="#e0102e">V1-R</text>
<text x="415.7" y="1282.1" font-family="'Liberation Sans', Arial, sans-serif" font-size="27" fill="#e0102e">0.2%</text>
<text x="102.5" y="1213.8" font-family="'Liberation Serif', 'Times New Roman', serif" font-size="77" fill="#000">a</text>
<clipPath id="hCb"><path d="M620.5,1622.3 L620.5,1619.8 L621.3,1618.2 L642.1,1618.2 L646.9,1615.8 L650.1,1614.2 L658.1,1613.4 L659.7,1611.8 L669.2,1611.0 L670.8,1607.8 L674.0,1605.4 L680.4,1603.8 L682.0,1598.2 L686.0,1596.6 L686.8,1591.8 L693.2,1587.0 L695.6,1579.0 L699.6,1559.9 L705.1,1555.1 L706.7,1543.1 L711.5,1542.3 L713.1,1531.1 L714.7,1509.6 L717.1,1499.2 L718.7,1479.3 L721.1,1476.9 L721.1,1438.6 L724.3,1432.2 L725.1,1412.2 L730.7,1398.6 L731.5,1359.5 L734.7,1353.1 L736.3,1342.8 L738.7,1342.8 L739.5,1377.9 L742.7,1379.5 L743.5,1423.4 L746.6,1425.8 L747.4,1476.1 L749.8,1476.9 L750.6,1500.0 L752.2,1500.8 L753.0,1528.8 L754.6,1530.4 L754.6,1563.1 L758.6,1566.3 L760.2,1579.0 L762.6,1591.8 L765.0,1601.4 L767.4,1611.0 L769.0,1617.4 L771.4,1619.0 L773.0,1617.7 L777.8,1618.3 L799.0,1618.3 L799.0,1622.3 Z"/></clipPath>
<path d="M620.5,1622.3 L620.5,1619.8 L621.3,1618.2 L642.1,1618.2 L646.9,1615.8 L650.1,1614.2 L658.1,1613.4 L659.7,1611.8 L669.2,1611.0 L670.8,1607.8 L674.0,1605.4 L680.4,1603.8 L682.0,1598.2 L686.0,1596.6 L686.8,1591.8 L693.2,1587.0 L695.6,1579.0 L699.6,1559.9 L705.1,1555.1 L706.7,1543.1 L711.5,1542.3 L713.1,1531.1 L714.7,1509.6 L717.1,1499.2 L718.7,1479.3 L721.1,1476.9 L721.1,1438.6 L724.3,1432.2 L725.1,1412.2 L730.7,1398.6 L731.5,1359.5 L734.7,1353.1 L736.3,1342.8 L738.7,1342.8 L739.5,1377.9 L742.7,1379.5 L743.5,1423.4 L746.6,1425.8 L747.4,1476.1 L749.8,1476.9 L750.6,1500.0 L752.2,1500.8 L753.0,1528.8 L754.6,1530.4 L754.6,1563.1 L758.6,1566.3 L760.2,1579.0 L762.6,1591.8 L765.0,1601.4 L767.4,1611.0 L769.0,1617.4 L771.4,1619.0 L773.0,1617.7 L777.8,1618.3 L799.0,1618.3 L799.0,1622.3 Z" fill="#000"/>
<rect x="601.7" y="1232.6" width="382.3" height="389.7" fill="none" stroke="#2a2aff" stroke-width="3"/>
<line x1="769.3" y1="1234.1" x2="769.3" y2="1620.8" stroke="#e43c58" stroke-width="2.6"/>
<line x1="769.3" y1="1234.1" x2="769.3" y2="1620.8" stroke="#98000c" stroke-width="2.6" clip-path="url(#hCb)"/>
<line x1="589.2" y1="1622.3" x2="601.7" y2="1622.3" stroke="#2a2aff" stroke-width="3"/>
<text transform="translate(579.3,1622.3) rotate(-90) scale(0.86,1)" text-anchor="middle" font-family="'Liberation Sans', Arial, sans-serif" font-weight="bold" font-size="24.3" fill="#2a2aff">0</text>
<line x1="589.2" y1="1524.9" x2="601.7" y2="1524.9" stroke="#2a2aff" stroke-width="3"/>
<text transform="translate(579.3,1524.9) rotate(-90) scale(0.86,1)" text-anchor="middle" font-family="'Liberation Sans', Arial, sans-serif" font-weight="bold" font-size="24.3" fill="#2a2aff">200</text>
<line x1="589.2" y1="1427.4" x2="601.7" y2="1427.4" stroke="#2a2aff" stroke-width="3"/>
<text transform="translate(579.3,1427.4) rotate(-90) scale(0.86,1)" text-anchor="middle" font-family="'Liberation Sans', Arial, sans-serif" font-weight="bold" font-size="24.3" fill="#2a2aff">400</text>
<line x1="589.2" y1="1330.0" x2="601.7" y2="1330.0" stroke="#2a2aff" stroke-width="3"/>
<text transform="translate(579.3,1330.0) rotate(-90) scale(0.86,1)" text-anchor="middle" font-family="'Liberation Sans', Arial, sans-serif" font-weight="bold" font-size="24.3" fill="#2a2aff">600</text>
<line x1="589.2" y1="1232.6" x2="601.7" y2="1232.6" stroke="#2a2aff" stroke-width="3"/>
<text transform="translate(579.3,1232.6) rotate(-90) scale(0.86,1)" text-anchor="middle" font-family="'Liberation Sans', Arial, sans-serif" font-weight="bold" font-size="24.3" fill="#2a2aff">800</text>
<line x1="601.7" y1="1622.3" x2="601.7" y2="1635.3" stroke="#2a2aff" stroke-width="2.6"/>
<line x1="620.3" y1="1622.3" x2="620.3" y2="1635.3" stroke="#2a2aff" stroke-width="2.6"/>
<line x1="631.1" y1="1622.3" x2="631.1" y2="1635.3" stroke="#2a2aff" stroke-width="2.6"/>
<line x1="638.8" y1="1622.3" x2="638.8" y2="1635.3" stroke="#2a2aff" stroke-width="2.6"/>
<line x1="644.8" y1="1622.3" x2="644.8" y2="1635.3" stroke="#2a2aff" stroke-width="2.6"/>
<line x1="649.7" y1="1622.3" x2="649.7" y2="1635.3" stroke="#2a2aff" stroke-width="2.6"/>
<line x1="653.8" y1="1622.3" x2="653.8" y2="1635.3" stroke="#2a2aff" stroke-width="2.6"/>
<line x1="657.4" y1="1622.3" x2="657.4" y2="1635.3" stroke="#2a2aff" stroke-width="2.6"/>
<line x1="660.5" y1="1622.3" x2="660.5" y2="1635.3" stroke="#2a2aff" stroke-width="2.6"/>
<line x1="663.4" y1="1622.3" x2="663.4" y2="1635.3" stroke="#2a2aff" stroke-width="2.6"/>
<line x1="681.9" y1="1622.3" x2="681.9" y2="1635.3" stroke="#2a2aff" stroke-width="2.6"/>
<line x1="692.8" y1="1622.3" x2="692.8" y2="1635.3" stroke="#2a2aff" stroke-width="2.6"/>
<line x1="700.5" y1="1622.3" x2="700.5" y2="1635.3" stroke="#2a2aff" stroke-width="2.6"/>
<line x1="706.5" y1="1622.3" x2="706.5" y2="1635.3" stroke="#2a2aff" stroke-width="2.6"/>
<line x1="711.3" y1="1622.3" x2="711.3" y2="1635.3" stroke="#2a2aff" stroke-width="2.6"/>
<line x1="715.5" y1="1622.3" x2="715.5" y2="1635.3" stroke="#2a2aff" stroke-width="2.6"/>
<line x1="719.0" y1="1622.3" x2="719.0" y2="1635.3" stroke="#2a2aff" stroke-width="2.6"/>
<line x1="722.2" y1="1622.3" x2="722.2" y2="1635.3" stroke="#2a2aff" stroke-width="2.6"/>
<line x1="725.0" y1="1622.3" x2="725.0" y2="1635.3" stroke="#2a2aff" stroke-width="2.6"/>
<line x1="743.6" y1="1622.3" x2="743.6" y2="1635.3" stroke="#2a2aff" stroke-width="2.6"/>
<line x1="754.4" y1="1622.3" x2="754.4" y2="1635.3" stroke="#2a2aff" stroke-width="2.6"/>
<line x1="762.1" y1="1622.3" x2="762.1" y2="1635.3" stroke="#2a2aff" stroke-width="2.6"/>
<line x1="768.1" y1="1622.3" x2="768.1" y2="1635.3" stroke="#2a2aff" stroke-width="2.6"/>
<line x1="773.0" y1="1622.3" x2="773.0" y2="1635.3" stroke="#2a2aff" stroke-width="2.6"/>
<line x1="777.1" y1="1622.3" x2="777.1" y2="1635.3" stroke="#2a2aff" stroke-width="2.6"/>
<line x1="780.7" y1="1622.3" x2="780.7" y2="1635.3" stroke="#2a2aff" stroke-width="2.6"/>
<line x1="783.9" y1="1622.3" x2="783.9" y2="1635.3" stroke="#2a2aff" stroke-width="2.6"/>
<line x1="786.7" y1="1622.3" x2="786.7" y2="1635.3" stroke="#2a2aff" stroke-width="2.6"/>
<line x1="805.2" y1="1622.3" x2="805.2" y2="1635.3" stroke="#2a2aff" stroke-width="2.6"/>
<line x1="816.1" y1="1622.3" x2="816.1" y2="1635.3" stroke="#2a2aff" stroke-width="2.6"/>
<line x1="823.8" y1="1622.3" x2="823.8" y2="1635.3" stroke="#2a2aff" stroke-width="2.6"/>
<line x1="829.8" y1="1622.3" x2="829.8" y2="1635.3" stroke="#2a2aff" stroke-width="2.6"/>
<line x1="834.7" y1="1622.3" x2="834.7" y2="1635.3" stroke="#2a2aff" stroke-width="2.6"/>
<line x1="838.8" y1="1622.3" x2="838.8" y2="1635.3" stroke="#2a2aff" stroke-width="2.6"/>
<line x1="842.4" y1="1622.3" x2="842.4" y2="1635.3" stroke="#2a2aff" stroke-width="2.6"/>
<line x1="845.5" y1="1622.3" x2="845.5" y2="1635.3" stroke="#2a2aff" stroke-width="2.6"/>
<line x1="848.3" y1="1622.3" x2="848.3" y2="1635.3" stroke="#2a2aff" stroke-width="2.6"/>
<line x1="866.9" y1="1622.3" x2="866.9" y2="1635.3" stroke="#2a2aff" stroke-width="2.6"/>
<line x1="877.8" y1="1622.3" x2="877.8" y2="1635.3" stroke="#2a2aff" stroke-width="2.6"/>
<line x1="885.5" y1="1622.3" x2="885.5" y2="1635.3" stroke="#2a2aff" stroke-width="2.6"/>
<line x1="891.4" y1="1622.3" x2="891.4" y2="1635.3" stroke="#2a2aff" stroke-width="2.6"/>
<line x1="896.3" y1="1622.3" x2="896.3" y2="1635.3" stroke="#2a2aff" stroke-width="2.6"/>
<line x1="900.5" y1="1622.3" x2="900.5" y2="1635.3" stroke="#2a2aff" stroke-width="2.6"/>
<line x1="904.0" y1="1622.3" x2="904.0" y2="1635.3" stroke="#2a2aff" stroke-width="2.6"/>
<line x1="907.2" y1="1622.3" x2="907.2" y2="1635.3" stroke="#2a2aff" stroke-width="2.6"/>
<line x1="910.0" y1="1622.3" x2="910.0" y2="1635.3" stroke="#2a2aff" stroke-width="2.6"/>
<line x1="928.6" y1="1622.3" x2="928.6" y2="1635.3" stroke="#2a2aff" stroke-width="2.6"/>
<line x1="939.4" y1="1622.3" x2="939.4" y2="1635.3" stroke="#2a2aff" stroke-width="2.6"/>
<line x1="947.1" y1="1622.3" x2="947.1" y2="1635.3" stroke="#2a2aff" stroke-width="2.6"/>
<line x1="953.1" y1="1622.3" x2="953.1" y2="1635.3" stroke="#2a2aff" stroke-width="2.6"/>
<line x1="958.0" y1="1622.3" x2="958.0" y2="1635.3" stroke="#2a2aff" stroke-width="2.6"/>
<line x1="962.1" y1="1622.3" x2="962.1" y2="1635.3" stroke="#2a2aff" stroke-width="2.6"/>
<line x1="965.7" y1="1622.3" x2="965.7" y2="1635.3" stroke="#2a2aff" stroke-width="2.6"/>
<line x1="968.8" y1="1622.3" x2="968.8" y2="1635.3" stroke="#2a2aff" stroke-width="2.6"/>
<line x1="971.7" y1="1622.3" x2="971.7" y2="1635.3" stroke="#2a2aff" stroke-width="2.6"/>
<line x1="984.0" y1="1622.3" x2="984.0" y2="1635.3" stroke="#2a2aff" stroke-width="2.6"/>
<text transform="translate(601.7,1655.8) scale(0.82,1)" text-anchor="middle" font-family="'Liberation Sans', Arial, sans-serif" fill="#2a2aff"><tspan font-weight="bold" font-size="13.5" dy="4">10</tspan><tspan font-size="23.5" dy="-4">1</tspan></text>
<text transform="translate(663.4,1655.8) scale(0.82,1)" text-anchor="middle" font-family="'Liberation Sans', Arial, sans-serif" fill="#2a2aff"><tspan font-weight="bold" font-size="13.5" dy="4">10</tspan><tspan font-size="23.5" dy="-4">2</tspan></text>
<text transform="translate(725.0,1655.8) scale(0.82,1)" text-anchor="middle" font-family="'Liberation Sans', Arial, sans-serif" fill="#2a2aff"><tspan font-weight="bold" font-size="13.5" dy="4">10</tspan><tspan font-size="23.5" dy="-4">3</tspan></text>
<text transform="translate(786.7,1655.8) scale(0.82,1)" text-anchor="middle" font-family="'Liberation Sans', Arial, sans-serif" fill="#2a2aff"><tspan font-weight="bold" font-size="13.5" dy="4">10</tspan><tspan font-size="23.5" dy="-4">4</tspan></text>
<text transform="translate(848.3,1655.8) scale(0.82,1)" text-anchor="middle" font-family="'Liberation Sans', Arial, sans-serif" fill="#2a2aff"><tspan font-weight="bold" font-size="13.5" dy="4">10</tspan><tspan font-size="23.5" dy="-4">5</tspan></text>
<text transform="translate(910.0,1655.8) scale(0.82,1)" text-anchor="middle" font-family="'Liberation Sans', Arial, sans-serif" fill="#2a2aff"><tspan font-weight="bold" font-size="13.5" dy="4">10</tspan><tspan font-size="23.5" dy="-4">6</tspan></text>
<text transform="translate(984.0,1655.8) scale(0.82,1)" text-anchor="middle" font-family="'Liberation Sans', Arial, sans-serif" fill="#2a2aff"><tspan font-weight="bold" font-size="13.5" dy="4">10</tspan><tspan font-size="23.5" dy="-4">7.2</tspan></text>
<text transform="translate(793.5,1684.1) scale(0.88,1)" text-anchor="middle" font-family="'Liberation Sans', Arial, sans-serif" font-size="23" letter-spacing="1.2" fill="#111">FL1-H</text>
<text transform="translate(549.9,1468.4) rotate(-90)" text-anchor="middle" font-family="'Liberation Sans', Arial, sans-serif" font-weight="bold" font-size="21.5" fill="#111">Count</text>
<text x="604.2" y="1257.6" font-family="'Liberation Sans', Arial, sans-serif" font-size="27" fill="#e0102e">V1-L</text>
<text x="604.2" y="1282.1" font-family="'Liberation Sans', Arial, sans-serif" font-size="27" fill="#e0102e">98.9%</text>
<text x="920.5" y="1257.6" font-family="'Liberation Sans', Arial, sans-serif" font-size="27" fill="#e0102e">V1-R</text>
<text x="920.5" y="1282.1" font-family="'Liberation Sans', Arial, sans-serif" font-size="27" fill="#e0102e">1.1%</text>
<text x="609.5" y="1214.8" font-family="'Liberation Serif', 'Times New Roman', serif" font-size="77" fill="#000">b</text>
<clipPath id="hCc"><path d="M1123.3,1621.4 L1123.3,1619.3 L1124.8,1617.9 L1139.7,1616.4 L1148.6,1611.9 L1150.1,1617.1 L1157.6,1614.9 L1159.8,1608.9 L1163.5,1610.4 L1169.5,1606.0 L1172.4,1604.5 L1178.4,1607.4 L1180.6,1597.0 L1182.9,1589.6 L1185.1,1601.5 L1186.6,1588.1 L1190.3,1587.4 L1191.8,1583.6 L1195.5,1582.1 L1197.0,1573.2 L1200.0,1571.7 L1203.7,1558.3 L1206.7,1555.4 L1207.4,1536.0 L1209.7,1523.4 L1212.6,1522.6 L1214.1,1512.9 L1216.4,1494.3 L1218.6,1492.9 L1219.3,1472.8 L1223.1,1470.5 L1223.8,1438.5 L1226.0,1437.8 L1226.0,1419.9 L1228.3,1418.5 L1229.0,1408.8 L1232.0,1409.5 L1232.7,1385.7 L1235.0,1384.2 L1235.0,1367.1 L1237.2,1367.9 L1240.2,1373.8 L1241.7,1396.9 L1243.9,1397.6 L1244.6,1427.4 L1246.1,1428.1 L1246.9,1454.9 L1248.4,1455.7 L1249.1,1489.1 L1249.9,1489.9 L1250.6,1521.1 L1252.1,1521.9 L1252.8,1540.5 L1255.1,1546.4 L1257.3,1564.3 L1259.5,1583.6 L1261.0,1585.1 L1262.5,1594.0 L1264.0,1606.0 L1268.5,1608.2 L1271.4,1611.9 L1273.7,1615.6 L1279.6,1615.6 L1287.1,1616.4 L1294.5,1615.6 L1299.0,1616.4 L1309.4,1617.1 L1310.9,1619.3 L1310.9,1621.4 Z"/></clipPath>
<path d="M1123.3,1621.4 L1123.3,1619.3 L1124.8,1617.9 L1139.7,1616.4 L1148.6,1611.9 L1150.1,1617.1 L1157.6,1614.9 L1159.8,1608.9 L1163.5,1610.4 L1169.5,1606.0 L1172.4,1604.5 L1178.4,1607.4 L1180.6,1597.0 L1182.9,1589.6 L1185.1,1601.5 L1186.6,1588.1 L1190.3,1587.4 L1191.8,1583.6 L1195.5,1582.1 L1197.0,1573.2 L1200.0,1571.7 L1203.7,1558.3 L1206.7,1555.4 L1207.4,1536.0 L1209.7,1523.4 L1212.6,1522.6 L1214.1,1512.9 L1216.4,1494.3 L1218.6,1492.9 L1219.3,1472.8 L1223.1,1470.5 L1223.8,1438.5 L1226.0,1437.8 L1226.0,1419.9 L1228.3,1418.5 L1229.0,1408.8 L1232.0,1409.5 L1232.7,1385.7 L1235.0,1384.2 L1235.0,1367.1 L1237.2,1367.9 L1240.2,1373.8 L1241.7,1396.9 L1243.9,1397.6 L1244.6,1427.4 L1246.1,1428.1 L1246.9,1454.9 L1248.4,1455.7 L1249.1,1489.1 L1249.9,1489.9 L1250.6,1521.1 L1252.1,1521.9 L1252.8,1540.5 L1255.1,1546.4 L1257.3,1564.3 L1259.5,1583.6 L1261.0,1585.1 L1262.5,1594.0 L1264.0,1606.0 L1268.5,1608.2 L1271.4,1611.9 L1273.7,1615.6 L1279.6,1615.6 L1287.1,1616.4 L1294.5,1615.6 L1299.0,1616.4 L1309.4,1617.1 L1310.9,1619.3 L1310.9,1621.4 Z" fill="#000"/>
<rect x="1104.1" y="1231.3" width="383.4" height="390.1" fill="none" stroke="#2a2aff" stroke-width="3"/>
<line x1="1271.9" y1="1232.8" x2="1271.9" y2="1619.9" stroke="#e43c58" stroke-width="2.6"/>
<line x1="1271.9" y1="1232.8" x2="1271.9" y2="1619.9" stroke="#98000c" stroke-width="2.6" clip-path="url(#hCc)"/>
<line x1="1091.6" y1="1621.4" x2="1104.1" y2="1621.4" stroke="#2a2aff" stroke-width="3"/>
<text transform="translate(1081.7,1621.4) rotate(-90) scale(0.86,1)" text-anchor="middle" font-family="'Liberation Sans', Arial, sans-serif" font-weight="bold" font-size="24.3" fill="#2a2aff">0</text>
<line x1="1091.6" y1="1523.9" x2="1104.1" y2="1523.9" stroke="#2a2aff" stroke-width="3"/>
<text transform="translate(1081.7,1523.9) rotate(-90) scale(0.86,1)" text-anchor="middle" font-family="'Liberation Sans', Arial, sans-serif" font-weight="bold" font-size="24.3" fill="#2a2aff">200</text>
<line x1="1091.6" y1="1426.3" x2="1104.1" y2="1426.3" stroke="#2a2aff" stroke-width="3"/>
<text transform="translate(1081.7,1426.3) rotate(-90) scale(0.86,1)" text-anchor="middle" font-family="'Liberation Sans', Arial, sans-serif" font-weight="bold" font-size="24.3" fill="#2a2aff">400</text>
<line x1="1091.6" y1="1328.8" x2="1104.1" y2="1328.8" stroke="#2a2aff" stroke-width="3"/>
<text transform="translate(1081.7,1328.8) rotate(-90) scale(0.86,1)" text-anchor="middle" font-family="'Liberation Sans', Arial, sans-serif" font-weight="bold" font-size="24.3" fill="#2a2aff">600</text>
<line x1="1091.6" y1="1231.3" x2="1104.1" y2="1231.3" stroke="#2a2aff" stroke-width="3"/>
<text transform="translate(1081.7,1231.3) rotate(-90) scale(0.86,1)" text-anchor="middle" font-family="'Liberation Sans', Arial, sans-serif" font-weight="bold" font-size="24.3" fill="#2a2aff">800</text>
<line x1="1104.1" y1="1621.4" x2="1104.1" y2="1634.4" stroke="#2a2aff" stroke-width="2.6"/>
<line x1="1122.7" y1="1621.4" x2="1122.7" y2="1634.4" stroke="#2a2aff" stroke-width="2.6"/>
<line x1="1133.6" y1="1621.4" x2="1133.6" y2="1634.4" stroke="#2a2aff" stroke-width="2.6"/>
<line x1="1141.3" y1="1621.4" x2="1141.3" y2="1634.4" stroke="#2a2aff" stroke-width="2.6"/>
<line x1="1147.3" y1="1621.4" x2="1147.3" y2="1634.4" stroke="#2a2aff" stroke-width="2.6"/>
<line x1="1152.2" y1="1621.4" x2="1152.2" y2="1634.4" stroke="#2a2aff" stroke-width="2.6"/>
<line x1="1156.4" y1="1621.4" x2="1156.4" y2="1634.4" stroke="#2a2aff" stroke-width="2.6"/>
<line x1="1159.9" y1="1621.4" x2="1159.9" y2="1634.4" stroke="#2a2aff" stroke-width="2.6"/>
<line x1="1163.1" y1="1621.4" x2="1163.1" y2="1634.4" stroke="#2a2aff" stroke-width="2.6"/>
<line x1="1165.9" y1="1621.4" x2="1165.9" y2="1634.4" stroke="#2a2aff" stroke-width="2.6"/>
<line x1="1184.6" y1="1621.4" x2="1184.6" y2="1634.4" stroke="#2a2aff" stroke-width="2.6"/>
<line x1="1195.4" y1="1621.4" x2="1195.4" y2="1634.4" stroke="#2a2aff" stroke-width="2.6"/>
<line x1="1203.2" y1="1621.4" x2="1203.2" y2="1634.4" stroke="#2a2aff" stroke-width="2.6"/>
<line x1="1209.2" y1="1621.4" x2="1209.2" y2="1634.4" stroke="#2a2aff" stroke-width="2.6"/>
<line x1="1214.1" y1="1621.4" x2="1214.1" y2="1634.4" stroke="#2a2aff" stroke-width="2.6"/>
<line x1="1218.2" y1="1621.4" x2="1218.2" y2="1634.4" stroke="#2a2aff" stroke-width="2.6"/>
<line x1="1221.8" y1="1621.4" x2="1221.8" y2="1634.4" stroke="#2a2aff" stroke-width="2.6"/>
<line x1="1224.9" y1="1621.4" x2="1224.9" y2="1634.4" stroke="#2a2aff" stroke-width="2.6"/>
<line x1="1227.8" y1="1621.4" x2="1227.8" y2="1634.4" stroke="#2a2aff" stroke-width="2.6"/>
<line x1="1246.4" y1="1621.4" x2="1246.4" y2="1634.4" stroke="#2a2aff" stroke-width="2.6"/>
<line x1="1257.3" y1="1621.4" x2="1257.3" y2="1634.4" stroke="#2a2aff" stroke-width="2.6"/>
<line x1="1265.0" y1="1621.4" x2="1265.0" y2="1634.4" stroke="#2a2aff" stroke-width="2.6"/>
<line x1="1271.0" y1="1621.4" x2="1271.0" y2="1634.4" stroke="#2a2aff" stroke-width="2.6"/>
<line x1="1275.9" y1="1621.4" x2="1275.9" y2="1634.4" stroke="#2a2aff" stroke-width="2.6"/>
<line x1="1280.0" y1="1621.4" x2="1280.0" y2="1634.4" stroke="#2a2aff" stroke-width="2.6"/>
<line x1="1283.6" y1="1621.4" x2="1283.6" y2="1634.4" stroke="#2a2aff" stroke-width="2.6"/>
<line x1="1286.8" y1="1621.4" x2="1286.8" y2="1634.4" stroke="#2a2aff" stroke-width="2.6"/>
<line x1="1289.6" y1="1621.4" x2="1289.6" y2="1634.4" stroke="#2a2aff" stroke-width="2.6"/>
<line x1="1308.2" y1="1621.4" x2="1308.2" y2="1634.4" stroke="#2a2aff" stroke-width="2.6"/>
<line x1="1319.1" y1="1621.4" x2="1319.1" y2="1634.4" stroke="#2a2aff" stroke-width="2.6"/>
<line x1="1326.8" y1="1621.4" x2="1326.8" y2="1634.4" stroke="#2a2aff" stroke-width="2.6"/>
<line x1="1332.8" y1="1621.4" x2="1332.8" y2="1634.4" stroke="#2a2aff" stroke-width="2.6"/>
<line x1="1337.7" y1="1621.4" x2="1337.7" y2="1634.4" stroke="#2a2aff" stroke-width="2.6"/>
<line x1="1341.9" y1="1621.4" x2="1341.9" y2="1634.4" stroke="#2a2aff" stroke-width="2.6"/>
<line x1="1345.5" y1="1621.4" x2="1345.5" y2="1634.4" stroke="#2a2aff" stroke-width="2.6"/>
<line x1="1348.6" y1="1621.4" x2="1348.6" y2="1634.4" stroke="#2a2aff" stroke-width="2.6"/>
<line x1="1351.5" y1="1621.4" x2="1351.5" y2="1634.4" stroke="#2a2aff" stroke-width="2.6"/>
<line x1="1370.1" y1="1621.4" x2="1370.1" y2="1634.4" stroke="#2a2aff" stroke-width="2.6"/>
<line x1="1381.0" y1="1621.4" x2="1381.0" y2="1634.4" stroke="#2a2aff" stroke-width="2.6"/>
<line x1="1388.7" y1="1621.4" x2="1388.7" y2="1634.4" stroke="#2a2aff" stroke-width="2.6"/>
<line x1="1394.7" y1="1621.4" x2="1394.7" y2="1634.4" stroke="#2a2aff" stroke-width="2.6"/>
<line x1="1399.6" y1="1621.4" x2="1399.6" y2="1634.4" stroke="#2a2aff" stroke-width="2.6"/>
<line x1="1403.7" y1="1621.4" x2="1403.7" y2="1634.4" stroke="#2a2aff" stroke-width="2.6"/>
<line x1="1407.3" y1="1621.4" x2="1407.3" y2="1634.4" stroke="#2a2aff" stroke-width="2.6"/>
<line x1="1410.5" y1="1621.4" x2="1410.5" y2="1634.4" stroke="#2a2aff" stroke-width="2.6"/>
<line x1="1413.3" y1="1621.4" x2="1413.3" y2="1634.4" stroke="#2a2aff" stroke-width="2.6"/>
<line x1="1431.9" y1="1621.4" x2="1431.9" y2="1634.4" stroke="#2a2aff" stroke-width="2.6"/>
<line x1="1442.8" y1="1621.4" x2="1442.8" y2="1634.4" stroke="#2a2aff" stroke-width="2.6"/>
<line x1="1450.5" y1="1621.4" x2="1450.5" y2="1634.4" stroke="#2a2aff" stroke-width="2.6"/>
<line x1="1456.5" y1="1621.4" x2="1456.5" y2="1634.4" stroke="#2a2aff" stroke-width="2.6"/>
<line x1="1461.4" y1="1621.4" x2="1461.4" y2="1634.4" stroke="#2a2aff" stroke-width="2.6"/>
<line x1="1465.6" y1="1621.4" x2="1465.6" y2="1634.4" stroke="#2a2aff" stroke-width="2.6"/>
<line x1="1469.1" y1="1621.4" x2="1469.1" y2="1634.4" stroke="#2a2aff" stroke-width="2.6"/>
<line x1="1472.3" y1="1621.4" x2="1472.3" y2="1634.4" stroke="#2a2aff" stroke-width="2.6"/>
<line x1="1475.1" y1="1621.4" x2="1475.1" y2="1634.4" stroke="#2a2aff" stroke-width="2.6"/>
<line x1="1487.5" y1="1621.4" x2="1487.5" y2="1634.4" stroke="#2a2aff" stroke-width="2.6"/>
<text transform="translate(1104.1,1654.9) scale(0.82,1)" text-anchor="middle" font-family="'Liberation Sans', Arial, sans-serif" fill="#2a2aff"><tspan font-weight="bold" font-size="13.5" dy="4">10</tspan><tspan font-size="23.5" dy="-4">1</tspan></text>
<text transform="translate(1165.9,1654.9) scale(0.82,1)" text-anchor="middle" font-family="'Liberation Sans', Arial, sans-serif" fill="#2a2aff"><tspan font-weight="bold" font-size="13.5" dy="4">10</tspan><tspan font-size="23.5" dy="-4">2</tspan></text>
<text transform="translate(1227.8,1654.9) scale(0.82,1)" text-anchor="middle" font-family="'Liberation Sans', Arial, sans-serif" fill="#2a2aff"><tspan font-weight="bold" font-size="13.5" dy="4">10</tspan><tspan font-size="23.5" dy="-4">3</tspan></text>
<text transform="translate(1289.6,1654.9) scale(0.82,1)" text-anchor="middle" font-family="'Liberation Sans', Arial, sans-serif" fill="#2a2aff"><tspan font-weight="bold" font-size="13.5" dy="4">10</tspan><tspan font-size="23.5" dy="-4">4</tspan></text>
<text transform="translate(1351.5,1654.9) scale(0.82,1)" text-anchor="middle" font-family="'Liberation Sans', Arial, sans-serif" fill="#2a2aff"><tspan font-weight="bold" font-size="13.5" dy="4">10</tspan><tspan font-size="23.5" dy="-4">5</tspan></text>
<text transform="translate(1413.3,1654.9) scale(0.82,1)" text-anchor="middle" font-family="'Liberation Sans', Arial, sans-serif" fill="#2a2aff"><tspan font-weight="bold" font-size="13.5" dy="4">10</tspan><tspan font-size="23.5" dy="-4">6</tspan></text>
<text transform="translate(1487.5,1654.9) scale(0.82,1)" text-anchor="middle" font-family="'Liberation Sans', Arial, sans-serif" fill="#2a2aff"><tspan font-weight="bold" font-size="13.5" dy="4">10</tspan><tspan font-size="23.5" dy="-4">7.2</tspan></text>
<text transform="translate(1296.4,1683.2) scale(0.88,1)" text-anchor="middle" font-family="'Liberation Sans', Arial, sans-serif" font-size="23" letter-spacing="1.2" fill="#111">FL1-H</text>
<text transform="translate(1052.3,1467.3) rotate(-90)" text-anchor="middle" font-family="'Liberation Sans', Arial, sans-serif" font-weight="bold" font-size="21.5" fill="#111">Count</text>
<text x="1106.6" y="1256.3" font-family="'Liberation Sans', Arial, sans-serif" font-size="27" fill="#e0102e">V1-L</text>
<text x="1106.6" y="1280.8" font-family="'Liberation Sans', Arial, sans-serif" font-size="27" fill="#e0102e">98.0%</text>
<text x="1424.0" y="1256.3" font-family="'Liberation Sans', Arial, sans-serif" font-size="27" fill="#e0102e">V1-R</text>
<text x="1424.0" y="1280.8" font-family="'Liberation Sans', Arial, sans-serif" font-size="27" fill="#e0102e">2.0%</text>
<text x="1112.0" y="1213.8" font-family="'Liberation Serif', 'Times New Roman', serif" font-size="77" fill="#000">c</text>
<clipPath id="hCd"><path d="M96.8,2151.0 L96.8,2148.4 L107.8,2147.7 L110.6,2144.9 L113.3,2148.4 L116.1,2145.6 L120.2,2144.9 L124.4,2141.5 L128.5,2142.2 L135.4,2142.9 L138.2,2140.8 L143.7,2140.1 L145.8,2133.2 L148.5,2136.0 L149.2,2140.8 L151.3,2128.4 L154.7,2129.1 L156.8,2122.2 L158.9,2130.4 L161.6,2133.2 L163.0,2126.3 L169.9,2118.0 L172.7,2117.3 L176.8,2111.1 L180.9,2098.7 L184.4,2097.3 L189.2,2086.3 L193.4,2078.0 L196.8,2075.2 L198.9,2065.6 L203.0,2064.2 L204.4,2055.9 L205.8,2050.4 L206.5,2036.6 L207.9,2035.9 L208.5,2020.0 L210.6,2018.7 L211.3,2009.0 L213.4,2004.9 L215.4,1958.0 L216.8,1955.2 L217.5,1929.0 L218.9,1928.3 L219.6,1911.0 L221.0,1911.0 L221.7,1933.1 L223.7,1934.5 L224.4,1973.1 L225.8,1973.8 L226.5,2007.6 L227.9,2008.3 L228.6,2050.4 L230.6,2051.8 L232.0,2071.1 L232.7,2090.4 L234.8,2087.7 L236.1,2082.1 L237.5,2098.7 L240.3,2095.9 L241.7,2094.6 L244.4,2097.3 L247.2,2102.8 L251.3,2111.1 L254.1,2116.6 L256.2,2124.2 L259.6,2126.3 L262.4,2127.0 L265.1,2122.2 L267.9,2122.2 L272.0,2126.3 L273.4,2133.2 L276.2,2134.6 L278.9,2137.3 L281.7,2136.6 L284.4,2141.5 L287.2,2142.9 L290.0,2145.6 L292.7,2144.9 L298.3,2145.6 L303.8,2148.4 L306.5,2149.1 L306.5,2151.0 Z"/></clipPath>
<path d="M96.8,2151.0 L96.8,2148.4 L107.8,2147.7 L110.6,2144.9 L113.3,2148.4 L116.1,2145.6 L120.2,2144.9 L124.4,2141.5 L128.5,2142.2 L135.4,2142.9 L138.2,2140.8 L143.7,2140.1 L145.8,2133.2 L148.5,2136.0 L149.2,2140.8 L151.3,2128.4 L154.7,2129.1 L156.8,2122.2 L158.9,2130.4 L161.6,2133.2 L163.0,2126.3 L169.9,2118.0 L172.7,2117.3 L176.8,2111.1 L180.9,2098.7 L184.4,2097.3 L189.2,2086.3 L193.4,2078.0 L196.8,2075.2 L198.9,2065.6 L203.0,2064.2 L204.4,2055.9 L205.8,2050.4 L206.5,2036.6 L207.9,2035.9 L208.5,2020.0 L210.6,2018.7 L211.3,2009.0 L213.4,2004.9 L215.4,1958.0 L216.8,1955.2 L217.5,1929.0 L218.9,1928.3 L219.6,1911.0 L221.0,1911.0 L221.7,1933.1 L223.7,1934.5 L224.4,1973.1 L225.8,1973.8 L226.5,2007.6 L227.9,2008.3 L228.6,2050.4 L230.6,2051.8 L232.0,2071.1 L232.7,2090.4 L234.8,2087.7 L236.1,2082.1 L237.5,2098.7 L240.3,2095.9 L241.7,2094.6 L244.4,2097.3 L247.2,2102.8 L251.3,2111.1 L254.1,2116.6 L256.2,2124.2 L259.6,2126.3 L262.4,2127.0 L265.1,2122.2 L267.9,2122.2 L272.0,2126.3 L273.4,2133.2 L276.2,2134.6 L278.9,2137.3 L281.7,2136.6 L284.4,2141.5 L287.2,2142.9 L290.0,2145.6 L292.7,2144.9 L298.3,2145.6 L303.8,2148.4 L306.5,2149.1 L306.5,2151.0 Z" fill="#000"/>
<rect x="95.7" y="1760.9" width="383.5" height="390.1" fill="none" stroke="#2a2aff" stroke-width="3"/>
<line x1="263.9" y1="1762.4" x2="263.9" y2="2149.5" stroke="#e43c58" stroke-width="2.6"/>
<line x1="263.9" y1="1762.4" x2="263.9" y2="2149.5" stroke="#98000c" stroke-width="2.6" clip-path="url(#hCd)"/>
<line x1="83.2" y1="2151.0" x2="95.7" y2="2151.0" stroke="#2a2aff" stroke-width="3"/>
<text transform="translate(73.3,2151.0) rotate(-90) scale(0.86,1)" text-anchor="middle" font-family="'Liberation Sans', Arial, sans-serif" font-weight="bold" font-size="24.3" fill="#2a2aff">0</text>
<line x1="83.2" y1="2053.5" x2="95.7" y2="2053.5" stroke="#2a2aff" stroke-width="3"/>
<text transform="translate(73.3,2053.5) rotate(-90) scale(0.86,1)" text-anchor="middle" font-family="'Liberation Sans', Arial, sans-serif" font-weight="bold" font-size="24.3" fill="#2a2aff">200</text>
<line x1="83.2" y1="1956.0" x2="95.7" y2="1956.0" stroke="#2a2aff" stroke-width="3"/>
<text transform="translate(73.3,1956.0) rotate(-90) scale(0.86,1)" text-anchor="middle" font-family="'Liberation Sans', Arial, sans-serif" font-weight="bold" font-size="24.3" fill="#2a2aff">400</text>
<line x1="83.2" y1="1858.4" x2="95.7" y2="1858.4" stroke="#2a2aff" stroke-width="3"/>
<text transform="translate(73.3,1858.4) rotate(-90) scale(0.86,1)" text-anchor="middle" font-family="'Liberation Sans', Arial, sans-serif" font-weight="bold" font-size="24.3" fill="#2a2aff">600</text>
<line x1="83.2" y1="1760.9" x2="95.7" y2="1760.9" stroke="#2a2aff" stroke-width="3"/>
<text transform="translate(73.3,1760.9) rotate(-90) scale(0.86,1)" text-anchor="middle" font-family="'Liberation Sans', Arial, sans-serif" font-weight="bold" font-size="24.3" fill="#2a2aff">800</text>
<line x1="95.7" y1="2151.0" x2="95.7" y2="2164.0" stroke="#2a2aff" stroke-width="2.6"/>
<line x1="114.3" y1="2151.0" x2="114.3" y2="2164.0" stroke="#2a2aff" stroke-width="2.6"/>
<line x1="125.2" y1="2151.0" x2="125.2" y2="2164.0" stroke="#2a2aff" stroke-width="2.6"/>
<line x1="132.9" y1="2151.0" x2="132.9" y2="2164.0" stroke="#2a2aff" stroke-width="2.6"/>
<line x1="138.9" y1="2151.0" x2="138.9" y2="2164.0" stroke="#2a2aff" stroke-width="2.6"/>
<line x1="143.8" y1="2151.0" x2="143.8" y2="2164.0" stroke="#2a2aff" stroke-width="2.6"/>
<line x1="148.0" y1="2151.0" x2="148.0" y2="2164.0" stroke="#2a2aff" stroke-width="2.6"/>
<line x1="151.6" y1="2151.0" x2="151.6" y2="2164.0" stroke="#2a2aff" stroke-width="2.6"/>
<line x1="154.7" y1="2151.0" x2="154.7" y2="2164.0" stroke="#2a2aff" stroke-width="2.6"/>
<line x1="157.6" y1="2151.0" x2="157.6" y2="2164.0" stroke="#2a2aff" stroke-width="2.6"/>
<line x1="176.2" y1="2151.0" x2="176.2" y2="2164.0" stroke="#2a2aff" stroke-width="2.6"/>
<line x1="187.1" y1="2151.0" x2="187.1" y2="2164.0" stroke="#2a2aff" stroke-width="2.6"/>
<line x1="194.8" y1="2151.0" x2="194.8" y2="2164.0" stroke="#2a2aff" stroke-width="2.6"/>
<line x1="200.8" y1="2151.0" x2="200.8" y2="2164.0" stroke="#2a2aff" stroke-width="2.6"/>
<line x1="205.7" y1="2151.0" x2="205.7" y2="2164.0" stroke="#2a2aff" stroke-width="2.6"/>
<line x1="209.8" y1="2151.0" x2="209.8" y2="2164.0" stroke="#2a2aff" stroke-width="2.6"/>
<line x1="213.4" y1="2151.0" x2="213.4" y2="2164.0" stroke="#2a2aff" stroke-width="2.6"/>
<line x1="216.6" y1="2151.0" x2="216.6" y2="2164.0" stroke="#2a2aff" stroke-width="2.6"/>
<line x1="219.4" y1="2151.0" x2="219.4" y2="2164.0" stroke="#2a2aff" stroke-width="2.6"/>
<line x1="238.0" y1="2151.0" x2="238.0" y2="2164.0" stroke="#2a2aff" stroke-width="2.6"/>
<line x1="248.9" y1="2151.0" x2="248.9" y2="2164.0" stroke="#2a2aff" stroke-width="2.6"/>
<line x1="256.7" y1="2151.0" x2="256.7" y2="2164.0" stroke="#2a2aff" stroke-width="2.6"/>
<line x1="262.6" y1="2151.0" x2="262.6" y2="2164.0" stroke="#2a2aff" stroke-width="2.6"/>
<line x1="267.5" y1="2151.0" x2="267.5" y2="2164.0" stroke="#2a2aff" stroke-width="2.6"/>
<line x1="271.7" y1="2151.0" x2="271.7" y2="2164.0" stroke="#2a2aff" stroke-width="2.6"/>
<line x1="275.3" y1="2151.0" x2="275.3" y2="2164.0" stroke="#2a2aff" stroke-width="2.6"/>
<line x1="278.4" y1="2151.0" x2="278.4" y2="2164.0" stroke="#2a2aff" stroke-width="2.6"/>
<line x1="281.3" y1="2151.0" x2="281.3" y2="2164.0" stroke="#2a2aff" stroke-width="2.6"/>
<line x1="299.9" y1="2151.0" x2="299.9" y2="2164.0" stroke="#2a2aff" stroke-width="2.6"/>
<line x1="310.8" y1="2151.0" x2="310.8" y2="2164.0" stroke="#2a2aff" stroke-width="2.6"/>
<line x1="318.5" y1="2151.0" x2="318.5" y2="2164.0" stroke="#2a2aff" stroke-width="2.6"/>
<line x1="324.5" y1="2151.0" x2="324.5" y2="2164.0" stroke="#2a2aff" stroke-width="2.6"/>
<line x1="329.4" y1="2151.0" x2="329.4" y2="2164.0" stroke="#2a2aff" stroke-width="2.6"/>
<line x1="333.5" y1="2151.0" x2="333.5" y2="2164.0" stroke="#2a2aff" stroke-width="2.6"/>
<line x1="337.1" y1="2151.0" x2="337.1" y2="2164.0" stroke="#2a2aff" stroke-width="2.6"/>
<line x1="340.3" y1="2151.0" x2="340.3" y2="2164.0" stroke="#2a2aff" stroke-width="2.6"/>
<line x1="343.1" y1="2151.0" x2="343.1" y2="2164.0" stroke="#2a2aff" stroke-width="2.6"/>
<line x1="361.7" y1="2151.0" x2="361.7" y2="2164.0" stroke="#2a2aff" stroke-width="2.6"/>
<line x1="372.6" y1="2151.0" x2="372.6" y2="2164.0" stroke="#2a2aff" stroke-width="2.6"/>
<line x1="380.4" y1="2151.0" x2="380.4" y2="2164.0" stroke="#2a2aff" stroke-width="2.6"/>
<line x1="386.4" y1="2151.0" x2="386.4" y2="2164.0" stroke="#2a2aff" stroke-width="2.6"/>
<line x1="391.3" y1="2151.0" x2="391.3" y2="2164.0" stroke="#2a2aff" stroke-width="2.6"/>
<line x1="395.4" y1="2151.0" x2="395.4" y2="2164.0" stroke="#2a2aff" stroke-width="2.6"/>
<line x1="399.0" y1="2151.0" x2="399.0" y2="2164.0" stroke="#2a2aff" stroke-width="2.6"/>
<line x1="402.1" y1="2151.0" x2="402.1" y2="2164.0" stroke="#2a2aff" stroke-width="2.6"/>
<line x1="405.0" y1="2151.0" x2="405.0" y2="2164.0" stroke="#2a2aff" stroke-width="2.6"/>
<line x1="423.6" y1="2151.0" x2="423.6" y2="2164.0" stroke="#2a2aff" stroke-width="2.6"/>
<line x1="434.5" y1="2151.0" x2="434.5" y2="2164.0" stroke="#2a2aff" stroke-width="2.6"/>
<line x1="442.2" y1="2151.0" x2="442.2" y2="2164.0" stroke="#2a2aff" stroke-width="2.6"/>
<line x1="448.2" y1="2151.0" x2="448.2" y2="2164.0" stroke="#2a2aff" stroke-width="2.6"/>
<line x1="453.1" y1="2151.0" x2="453.1" y2="2164.0" stroke="#2a2aff" stroke-width="2.6"/>
<line x1="457.2" y1="2151.0" x2="457.2" y2="2164.0" stroke="#2a2aff" stroke-width="2.6"/>
<line x1="460.8" y1="2151.0" x2="460.8" y2="2164.0" stroke="#2a2aff" stroke-width="2.6"/>
<line x1="464.0" y1="2151.0" x2="464.0" y2="2164.0" stroke="#2a2aff" stroke-width="2.6"/>
<line x1="466.8" y1="2151.0" x2="466.8" y2="2164.0" stroke="#2a2aff" stroke-width="2.6"/>
<line x1="479.2" y1="2151.0" x2="479.2" y2="2164.0" stroke="#2a2aff" stroke-width="2.6"/>
<text transform="translate(95.7,2184.5) scale(0.82,1)" text-anchor="middle" font-family="'Liberation Sans', Arial, sans-serif" fill="#2a2aff"><tspan font-weight="bold" font-size="13.5" dy="4">10</tspan><tspan font-size="23.5" dy="-4">1</tspan></text>
<text transform="translate(157.6,2184.5) scale(0.82,1)" text-anchor="middle" font-family="'Liberation Sans', Arial, sans-serif" fill="#2a2aff"><tspan font-weight="bold" font-size="13.5" dy="4">10</tspan><tspan font-size="23.5" dy="-4">2</tspan></text>
<text transform="translate(219.4,2184.5) scale(0.82,1)" text-anchor="middle" font-family="'Liberation Sans', Arial, sans-serif" fill="#2a2aff"><tspan font-weight="bold" font-size="13.5" dy="4">10</tspan><tspan font-size="23.5" dy="-4">3</tspan></text>
<text transform="translate(281.3,2184.5) scale(0.82,1)" text-anchor="middle" font-family="'Liberation Sans', Arial, sans-serif" fill="#2a2aff"><tspan font-weight="bold" font-size="13.5" dy="4">10</tspan><tspan font-size="23.5" dy="-4">4</tspan></text>
<text transform="translate(343.1,2184.5) scale(0.82,1)" text-anchor="middle" font-family="'Liberation Sans', Arial, sans-serif" fill="#2a2aff"><tspan font-weight="bold" font-size="13.5" dy="4">10</tspan><tspan font-size="23.5" dy="-4">5</tspan></text>
<text transform="translate(405.0,2184.5) scale(0.82,1)" text-anchor="middle" font-family="'Liberation Sans', Arial, sans-serif" fill="#2a2aff"><tspan font-weight="bold" font-size="13.5" dy="4">10</tspan><tspan font-size="23.5" dy="-4">6</tspan></text>
<text transform="translate(479.2,2184.5) scale(0.82,1)" text-anchor="middle" font-family="'Liberation Sans', Arial, sans-serif" fill="#2a2aff"><tspan font-weight="bold" font-size="13.5" dy="4">10</tspan><tspan font-size="23.5" dy="-4">7.2</tspan></text>
<text transform="translate(288.1,2212.8) scale(0.88,1)" text-anchor="middle" font-family="'Liberation Sans', Arial, sans-serif" font-size="23" letter-spacing="1.2" fill="#111">FL1-H</text>
<text transform="translate(43.9,1997.0) rotate(-90)" text-anchor="middle" font-family="'Liberation Sans', Arial, sans-serif" font-weight="bold" font-size="21.5" fill="#111">Count</text>
<text x="98.2" y="1785.9" font-family="'Liberation Sans', Arial, sans-serif" font-size="27" fill="#e0102e">V1-L</text>
<text x="98.2" y="1810.4" font-family="'Liberation Sans', Arial, sans-serif" font-size="27" fill="#e0102e">95.0%</text>
<text x="415.7" y="1785.9" font-family="'Liberation Sans', Arial, sans-serif" font-size="27" fill="#e0102e">V1-R</text>
<text x="415.7" y="1810.4" font-family="'Liberation Sans', Arial, sans-serif" font-size="27" fill="#e0102e">5.0%</text>
<text x="97.7" y="1743.4" font-family="'Liberation Serif', 'Times New Roman', serif" font-size="77" fill="#000">d</text>
<clipPath id="hCe"><path d="M606.0,2151.1 L606.0,2149.2 L617.2,2147.8 L629.9,2145.7 L641.1,2145.0 L643.9,2138.7 L646.7,2143.6 L649.5,2142.2 L655.1,2136.6 L660.7,2133.8 L664.9,2132.4 L667.7,2129.6 L669.1,2122.6 L670.5,2133.8 L672.6,2125.4 L676.1,2124.0 L677.6,2111.4 L680.4,2112.8 L683.2,2115.6 L684.6,2103.6 L690.2,2102.9 L693.0,2093.1 L696.5,2090.3 L700.0,2074.9 L704.2,2072.1 L708.4,2066.5 L709.1,2046.8 L712.6,2044.0 L714.0,2030.0 L716.8,2021.6 L718.2,1993.5 L721.7,1991.4 L723.1,1968.2 L725.2,1964.0 L726.6,1965.4 L727.3,1987.2 L730.2,1987.2 L731.6,2014.5 L734.4,2015.9 L735.8,2022.3 L736.5,2062.2 L739.3,2067.9 L740.7,2093.1 L743.5,2098.7 L744.9,2105.7 L748.4,2110.0 L749.8,2117.0 L754.7,2122.6 L760.3,2126.8 L762.4,2130.3 L767.3,2130.3 L769.4,2133.8 L772.9,2126.8 L777.1,2125.4 L781.4,2122.6 L784.2,2116.3 L787.0,2117.7 L789.8,2118.4 L791.2,2131.0 L793.3,2133.8 L795.4,2136.6 L799.6,2140.8 L802.4,2144.3 L806.6,2143.6 L809.4,2145.0 L813.6,2141.5 L817.8,2141.5 L822.0,2139.4 L823.4,2145.0 L826.2,2144.3 L829.0,2145.7 L837.5,2145.7 L844.5,2147.1 L851.5,2147.8 L858.5,2148.1 L865.5,2148.1 L868.3,2149.2 L868.3,2151.1 Z"/></clipPath>
<path d="M606.0,2151.1 L606.0,2149.2 L617.2,2147.8 L629.9,2145.7 L641.1,2145.0 L643.9,2138.7 L646.7,2143.6 L649.5,2142.2 L655.1,2136.6 L660.7,2133.8 L664.9,2132.4 L667.7,2129.6 L669.1,2122.6 L670.5,2133.8 L672.6,2125.4 L676.1,2124.0 L677.6,2111.4 L680.4,2112.8 L683.2,2115.6 L684.6,2103.6 L690.2,2102.9 L693.0,2093.1 L696.5,2090.3 L700.0,2074.9 L704.2,2072.1 L708.4,2066.5 L709.1,2046.8 L712.6,2044.0 L714.0,2030.0 L716.8,2021.6 L718.2,1993.5 L721.7,1991.4 L723.1,1968.2 L725.2,1964.0 L726.6,1965.4 L727.3,1987.2 L730.2,1987.2 L731.6,2014.5 L734.4,2015.9 L735.8,2022.3 L736.5,2062.2 L739.3,2067.9 L740.7,2093.1 L743.5,2098.7 L744.9,2105.7 L748.4,2110.0 L749.8,2117.0 L754.7,2122.6 L760.3,2126.8 L762.4,2130.3 L767.3,2130.3 L769.4,2133.8 L772.9,2126.8 L777.1,2125.4 L781.4,2122.6 L784.2,2116.3 L787.0,2117.7 L789.8,2118.4 L791.2,2131.0 L793.3,2133.8 L795.4,2136.6 L799.6,2140.8 L802.4,2144.3 L806.6,2143.6 L809.4,2145.0 L813.6,2141.5 L817.8,2141.5 L822.0,2139.4 L823.4,2145.0 L826.2,2144.3 L829.0,2145.7 L837.5,2145.7 L844.5,2147.1 L851.5,2147.8 L858.5,2148.1 L865.5,2148.1 L868.3,2149.2 L868.3,2151.1 Z" fill="#000"/>
<rect x="601.7" y="1760.9" width="382.5" height="390.2" fill="none" stroke="#2a2aff" stroke-width="3"/>
<line x1="769.3" y1="1762.4" x2="769.3" y2="2149.6" stroke="#e43c58" stroke-width="2.6"/>
<line x1="769.3" y1="1762.4" x2="769.3" y2="2149.6" stroke="#98000c" stroke-width="2.6" clip-path="url(#hCe)"/>
<line x1="589.2" y1="2151.1" x2="601.7" y2="2151.1" stroke="#2a2aff" stroke-width="3"/>
<text transform="translate(579.3,2151.1) rotate(-90) scale(0.86,1)" text-anchor="middle" font-family="'Liberation Sans', Arial, sans-serif" font-weight="bold" font-size="24.3" fill="#2a2aff">0</text>
<line x1="589.2" y1="2053.5" x2="601.7" y2="2053.5" stroke="#2a2aff" stroke-width="3"/>
<text transform="translate(579.3,2053.5) rotate(-90) scale(0.86,1)" text-anchor="middle" font-family="'Liberation Sans', Arial, sans-serif" font-weight="bold" font-size="24.3" fill="#2a2aff">200</text>
<line x1="589.2" y1="1956.0" x2="601.7" y2="1956.0" stroke="#2a2aff" stroke-width="3"/>
<text transform="translate(579.3,1956.0) rotate(-90) scale(0.86,1)" text-anchor="middle" font-family="'Liberation Sans', Arial, sans-serif" font-weight="bold" font-size="24.3" fill="#2a2aff">400</text>
<line x1="589.2" y1="1858.5" x2="601.7" y2="1858.5" stroke="#2a2aff" stroke-width="3"/>
<text transform="translate(579.3,1858.5) rotate(-90) scale(0.86,1)" text-anchor="middle" font-family="'Liberation Sans', Arial, sans-serif" font-weight="bold" font-size="24.3" fill="#2a2aff">600</text>
<line x1="589.2" y1="1760.9" x2="601.7" y2="1760.9" stroke="#2a2aff" stroke-width="3"/>
<text transform="translate(579.3,1760.9) rotate(-90) scale(0.86,1)" text-anchor="middle" font-family="'Liberation Sans', Arial, sans-serif" font-weight="bold" font-size="24.3" fill="#2a2aff">800</text>
<line x1="601.7" y1="2151.1" x2="601.7" y2="2164.1" stroke="#2a2aff" stroke-width="2.6"/>
<line x1="620.3" y1="2151.1" x2="620.3" y2="2164.1" stroke="#2a2aff" stroke-width="2.6"/>
<line x1="631.1" y1="2151.1" x2="631.1" y2="2164.1" stroke="#2a2aff" stroke-width="2.6"/>
<line x1="638.8" y1="2151.1" x2="638.8" y2="2164.1" stroke="#2a2aff" stroke-width="2.6"/>
<line x1="644.8" y1="2151.1" x2="644.8" y2="2164.1" stroke="#2a2aff" stroke-width="2.6"/>
<line x1="649.7" y1="2151.1" x2="649.7" y2="2164.1" stroke="#2a2aff" stroke-width="2.6"/>
<line x1="653.8" y1="2151.1" x2="653.8" y2="2164.1" stroke="#2a2aff" stroke-width="2.6"/>
<line x1="657.4" y1="2151.1" x2="657.4" y2="2164.1" stroke="#2a2aff" stroke-width="2.6"/>
<line x1="660.6" y1="2151.1" x2="660.6" y2="2164.1" stroke="#2a2aff" stroke-width="2.6"/>
<line x1="663.4" y1="2151.1" x2="663.4" y2="2164.1" stroke="#2a2aff" stroke-width="2.6"/>
<line x1="682.0" y1="2151.1" x2="682.0" y2="2164.1" stroke="#2a2aff" stroke-width="2.6"/>
<line x1="692.8" y1="2151.1" x2="692.8" y2="2164.1" stroke="#2a2aff" stroke-width="2.6"/>
<line x1="700.5" y1="2151.1" x2="700.5" y2="2164.1" stroke="#2a2aff" stroke-width="2.6"/>
<line x1="706.5" y1="2151.1" x2="706.5" y2="2164.1" stroke="#2a2aff" stroke-width="2.6"/>
<line x1="711.4" y1="2151.1" x2="711.4" y2="2164.1" stroke="#2a2aff" stroke-width="2.6"/>
<line x1="715.5" y1="2151.1" x2="715.5" y2="2164.1" stroke="#2a2aff" stroke-width="2.6"/>
<line x1="719.1" y1="2151.1" x2="719.1" y2="2164.1" stroke="#2a2aff" stroke-width="2.6"/>
<line x1="722.3" y1="2151.1" x2="722.3" y2="2164.1" stroke="#2a2aff" stroke-width="2.6"/>
<line x1="725.1" y1="2151.1" x2="725.1" y2="2164.1" stroke="#2a2aff" stroke-width="2.6"/>
<line x1="743.7" y1="2151.1" x2="743.7" y2="2164.1" stroke="#2a2aff" stroke-width="2.6"/>
<line x1="754.5" y1="2151.1" x2="754.5" y2="2164.1" stroke="#2a2aff" stroke-width="2.6"/>
<line x1="762.2" y1="2151.1" x2="762.2" y2="2164.1" stroke="#2a2aff" stroke-width="2.6"/>
<line x1="768.2" y1="2151.1" x2="768.2" y2="2164.1" stroke="#2a2aff" stroke-width="2.6"/>
<line x1="773.1" y1="2151.1" x2="773.1" y2="2164.1" stroke="#2a2aff" stroke-width="2.6"/>
<line x1="777.2" y1="2151.1" x2="777.2" y2="2164.1" stroke="#2a2aff" stroke-width="2.6"/>
<line x1="780.8" y1="2151.1" x2="780.8" y2="2164.1" stroke="#2a2aff" stroke-width="2.6"/>
<line x1="784.0" y1="2151.1" x2="784.0" y2="2164.1" stroke="#2a2aff" stroke-width="2.6"/>
<line x1="786.8" y1="2151.1" x2="786.8" y2="2164.1" stroke="#2a2aff" stroke-width="2.6"/>
<line x1="805.4" y1="2151.1" x2="805.4" y2="2164.1" stroke="#2a2aff" stroke-width="2.6"/>
<line x1="816.2" y1="2151.1" x2="816.2" y2="2164.1" stroke="#2a2aff" stroke-width="2.6"/>
<line x1="823.9" y1="2151.1" x2="823.9" y2="2164.1" stroke="#2a2aff" stroke-width="2.6"/>
<line x1="829.9" y1="2151.1" x2="829.9" y2="2164.1" stroke="#2a2aff" stroke-width="2.6"/>
<line x1="834.8" y1="2151.1" x2="834.8" y2="2164.1" stroke="#2a2aff" stroke-width="2.6"/>
<line x1="838.9" y1="2151.1" x2="838.9" y2="2164.1" stroke="#2a2aff" stroke-width="2.6"/>
<line x1="842.5" y1="2151.1" x2="842.5" y2="2164.1" stroke="#2a2aff" stroke-width="2.6"/>
<line x1="845.7" y1="2151.1" x2="845.7" y2="2164.1" stroke="#2a2aff" stroke-width="2.6"/>
<line x1="848.5" y1="2151.1" x2="848.5" y2="2164.1" stroke="#2a2aff" stroke-width="2.6"/>
<line x1="867.0" y1="2151.1" x2="867.0" y2="2164.1" stroke="#2a2aff" stroke-width="2.6"/>
<line x1="877.9" y1="2151.1" x2="877.9" y2="2164.1" stroke="#2a2aff" stroke-width="2.6"/>
<line x1="885.6" y1="2151.1" x2="885.6" y2="2164.1" stroke="#2a2aff" stroke-width="2.6"/>
<line x1="891.6" y1="2151.1" x2="891.6" y2="2164.1" stroke="#2a2aff" stroke-width="2.6"/>
<line x1="896.5" y1="2151.1" x2="896.5" y2="2164.1" stroke="#2a2aff" stroke-width="2.6"/>
<line x1="900.6" y1="2151.1" x2="900.6" y2="2164.1" stroke="#2a2aff" stroke-width="2.6"/>
<line x1="904.2" y1="2151.1" x2="904.2" y2="2164.1" stroke="#2a2aff" stroke-width="2.6"/>
<line x1="907.3" y1="2151.1" x2="907.3" y2="2164.1" stroke="#2a2aff" stroke-width="2.6"/>
<line x1="910.2" y1="2151.1" x2="910.2" y2="2164.1" stroke="#2a2aff" stroke-width="2.6"/>
<line x1="928.7" y1="2151.1" x2="928.7" y2="2164.1" stroke="#2a2aff" stroke-width="2.6"/>
<line x1="939.6" y1="2151.1" x2="939.6" y2="2164.1" stroke="#2a2aff" stroke-width="2.6"/>
<line x1="947.3" y1="2151.1" x2="947.3" y2="2164.1" stroke="#2a2aff" stroke-width="2.6"/>
<line x1="953.3" y1="2151.1" x2="953.3" y2="2164.1" stroke="#2a2aff" stroke-width="2.6"/>
<line x1="958.2" y1="2151.1" x2="958.2" y2="2164.1" stroke="#2a2aff" stroke-width="2.6"/>
<line x1="962.3" y1="2151.1" x2="962.3" y2="2164.1" stroke="#2a2aff" stroke-width="2.6"/>
<line x1="965.9" y1="2151.1" x2="965.9" y2="2164.1" stroke="#2a2aff" stroke-width="2.6"/>
<line x1="969.0" y1="2151.1" x2="969.0" y2="2164.1" stroke="#2a2aff" stroke-width="2.6"/>
<line x1="971.9" y1="2151.1" x2="971.9" y2="2164.1" stroke="#2a2aff" stroke-width="2.6"/>
<line x1="984.2" y1="2151.1" x2="984.2" y2="2164.1" stroke="#2a2aff" stroke-width="2.6"/>
<text transform="translate(601.7,2184.6) scale(0.82,1)" text-anchor="middle" font-family="'Liberation Sans', Arial, sans-serif" fill="#2a2aff"><tspan font-weight="bold" font-size="13.5" dy="4">10</tspan><tspan font-size="23.5" dy="-4">1</tspan></text>
<text transform="translate(663.4,2184.6) scale(0.82,1)" text-anchor="middle" font-family="'Liberation Sans', Arial, sans-serif" fill="#2a2aff"><tspan font-weight="bold" font-size="13.5" dy="4">10</tspan><tspan font-size="23.5" dy="-4">2</tspan></text>
<text transform="translate(725.1,2184.6) scale(0.82,1)" text-anchor="middle" font-family="'Liberation Sans', Arial, sans-serif" fill="#2a2aff"><tspan font-weight="bold" font-size="13.5" dy="4">10</tspan><tspan font-size="23.5" dy="-4">3</tspan></text>
<text transform="translate(786.8,2184.6) scale(0.82,1)" text-anchor="middle" font-family="'Liberation Sans', Arial, sans-serif" fill="#2a2aff"><tspan font-weight="bold" font-size="13.5" dy="4">10</tspan><tspan font-size="23.5" dy="-4">4</tspan></text>
<text transform="translate(848.5,2184.6) scale(0.82,1)" text-anchor="middle" font-family="'Liberation Sans', Arial, sans-serif" fill="#2a2aff"><tspan font-weight="bold" font-size="13.5" dy="4">10</tspan><tspan font-size="23.5" dy="-4">5</tspan></text>
<text transform="translate(910.2,2184.6) scale(0.82,1)" text-anchor="middle" font-family="'Liberation Sans', Arial, sans-serif" fill="#2a2aff"><tspan font-weight="bold" font-size="13.5" dy="4">10</tspan><tspan font-size="23.5" dy="-4">6</tspan></text>
<text transform="translate(984.2,2184.6) scale(0.82,1)" text-anchor="middle" font-family="'Liberation Sans', Arial, sans-serif" fill="#2a2aff"><tspan font-weight="bold" font-size="13.5" dy="4">10</tspan><tspan font-size="23.5" dy="-4">7.2</tspan></text>
<text transform="translate(793.6,2212.9) scale(0.88,1)" text-anchor="middle" font-family="'Liberation Sans', Arial, sans-serif" font-size="23" letter-spacing="1.2" fill="#111">FL1-H</text>
<text transform="translate(549.9,1997.0) rotate(-90)" text-anchor="middle" font-family="'Liberation Sans', Arial, sans-serif" font-weight="bold" font-size="21.5" fill="#111">Count</text>
<text x="604.2" y="1785.9" font-family="'Liberation Sans', Arial, sans-serif" font-size="27" fill="#e0102e">V1-L</text>
<text x="604.2" y="1810.4" font-family="'Liberation Sans', Arial, sans-serif" font-size="27" fill="#e0102e">90.3%</text>
<text x="920.7" y="1785.9" font-family="'Liberation Sans', Arial, sans-serif" font-size="27" fill="#e0102e">V1-R</text>
<text x="920.7" y="1810.4" font-family="'Liberation Sans', Arial, sans-serif" font-size="27" fill="#e0102e">9.7%</text>
<text x="600.4" y="1742.7" font-family="'Liberation Serif', 'Times New Roman', serif" font-size="77" fill="#000">e</text>
<clipPath id="hCf"><path d="M1109.4,2149.6 L1109.4,2147.1 L1115.0,2146.4 L1127.7,2145.7 L1133.3,2144.3 L1138.9,2142.2 L1141.7,2144.3 L1152.9,2144.3 L1154.3,2137.3 L1157.1,2138.7 L1159.9,2135.2 L1162.7,2138.0 L1165.5,2135.2 L1171.1,2135.9 L1173.2,2128.9 L1176.7,2132.4 L1179.6,2126.8 L1183.8,2124.7 L1185.2,2119.1 L1187.3,2121.9 L1189.4,2112.1 L1192.2,2121.2 L1193.6,2102.9 L1196.4,2104.3 L1197.8,2111.4 L1199.9,2100.1 L1202.7,2084.7 L1207.6,2074.9 L1210.4,2074.2 L1213.2,2069.3 L1217.4,2063.7 L1219.5,2049.6 L1221.6,2023.0 L1223.7,1997.7 L1225.1,1996.3 L1226.5,1971.0 L1227.9,1972.4 L1229.3,1983.7 L1230.8,1992.1 L1232.2,2006.8 L1233.6,2007.5 L1235.7,2025.8 L1237.1,2045.4 L1239.9,2055.2 L1241.3,2070.7 L1246.2,2066.5 L1248.3,2070.7 L1251.8,2072.1 L1253.2,2084.7 L1255.3,2077.7 L1258.1,2069.3 L1260.9,2072.1 L1263.7,2066.5 L1266.5,2067.9 L1270.0,2069.3 L1272.1,2072.1 L1274.9,2073.5 L1275.6,2091.0 L1278.4,2091.7 L1282.0,2104.3 L1286.2,2108.6 L1289.0,2117.0 L1291.8,2116.3 L1294.6,2124.0 L1298.8,2126.8 L1300.2,2133.8 L1303.0,2128.9 L1305.8,2129.6 L1310.0,2136.6 L1315.6,2138.0 L1319.8,2139.4 L1322.6,2137.3 L1325.4,2141.5 L1328.2,2139.4 L1331.0,2142.2 L1332.4,2145.7 L1339.5,2145.7 L1347.9,2147.6 L1348.6,2149.2 L1348.6,2149.6 Z"/></clipPath>
<path d="M1109.4,2149.6 L1109.4,2147.1 L1115.0,2146.4 L1127.7,2145.7 L1133.3,2144.3 L1138.9,2142.2 L1141.7,2144.3 L1152.9,2144.3 L1154.3,2137.3 L1157.1,2138.7 L1159.9,2135.2 L1162.7,2138.0 L1165.5,2135.2 L1171.1,2135.9 L1173.2,2128.9 L1176.7,2132.4 L1179.6,2126.8 L1183.8,2124.7 L1185.2,2119.1 L1187.3,2121.9 L1189.4,2112.1 L1192.2,2121.2 L1193.6,2102.9 L1196.4,2104.3 L1197.8,2111.4 L1199.9,2100.1 L1202.7,2084.7 L1207.6,2074.9 L1210.4,2074.2 L1213.2,2069.3 L1217.4,2063.7 L1219.5,2049.6 L1221.6,2023.0 L1223.7,1997.7 L1225.1,1996.3 L1226.5,1971.0 L1227.9,1972.4 L1229.3,1983.7 L1230.8,1992.1 L1232.2,2006.8 L1233.6,2007.5 L1235.7,2025.8 L1237.1,2045.4 L1239.9,2055.2 L1241.3,2070.7 L1246.2,2066.5 L1248.3,2070.7 L1251.8,2072.1 L1253.2,2084.7 L1255.3,2077.7 L1258.1,2069.3 L1260.9,2072.1 L1263.7,2066.5 L1266.5,2067.9 L1270.0,2069.3 L1272.1,2072.1 L1274.9,2073.5 L1275.6,2091.0 L1278.4,2091.7 L1282.0,2104.3 L1286.2,2108.6 L1289.0,2117.0 L1291.8,2116.3 L1294.6,2124.0 L1298.8,2126.8 L1300.2,2133.8 L1303.0,2128.9 L1305.8,2129.6 L1310.0,2136.6 L1315.6,2138.0 L1319.8,2139.4 L1322.6,2137.3 L1325.4,2141.5 L1328.2,2139.4 L1331.0,2142.2 L1332.4,2145.7 L1339.5,2145.7 L1347.9,2147.6 L1348.6,2149.2 L1348.6,2149.6 Z" fill="#000"/>
<rect x="1103.9" y="1760.2" width="383.6" height="389.4" fill="none" stroke="#2a2aff" stroke-width="3"/>
<line x1="1271.9" y1="1761.7" x2="1271.9" y2="2148.1" stroke="#e43c58" stroke-width="2.6"/>
<line x1="1271.9" y1="1761.7" x2="1271.9" y2="2148.1" stroke="#98000c" stroke-width="2.6" clip-path="url(#hCf)"/>
<line x1="1091.4" y1="2149.6" x2="1103.9" y2="2149.6" stroke="#2a2aff" stroke-width="3"/>
<text transform="translate(1081.5,2149.6) rotate(-90) scale(0.86,1)" text-anchor="middle" font-family="'Liberation Sans', Arial, sans-serif" font-weight="bold" font-size="24.3" fill="#2a2aff">0</text>
<line x1="1091.4" y1="2052.2" x2="1103.9" y2="2052.2" stroke="#2a2aff" stroke-width="3"/>
<text transform="translate(1081.5,2052.2) rotate(-90) scale(0.86,1)" text-anchor="middle" font-family="'Liberation Sans', Arial, sans-serif" font-weight="bold" font-size="24.3" fill="#2a2aff">200</text>
<line x1="1091.4" y1="1954.9" x2="1103.9" y2="1954.9" stroke="#2a2aff" stroke-width="3"/>
<text transform="translate(1081.5,1954.9) rotate(-90) scale(0.86,1)" text-anchor="middle" font-family="'Liberation Sans', Arial, sans-serif" font-weight="bold" font-size="24.3" fill="#2a2aff">400</text>
<line x1="1091.4" y1="1857.5" x2="1103.9" y2="1857.5" stroke="#2a2aff" stroke-width="3"/>
<text transform="translate(1081.5,1857.5) rotate(-90) scale(0.86,1)" text-anchor="middle" font-family="'Liberation Sans', Arial, sans-serif" font-weight="bold" font-size="24.3" fill="#2a2aff">600</text>
<line x1="1091.4" y1="1760.2" x2="1103.9" y2="1760.2" stroke="#2a2aff" stroke-width="3"/>
<text transform="translate(1081.5,1760.2) rotate(-90) scale(0.86,1)" text-anchor="middle" font-family="'Liberation Sans', Arial, sans-serif" font-weight="bold" font-size="24.3" fill="#2a2aff">800</text>
<line x1="1103.9" y1="2149.6" x2="1103.9" y2="2162.6" stroke="#2a2aff" stroke-width="2.6"/>
<line x1="1122.5" y1="2149.6" x2="1122.5" y2="2162.6" stroke="#2a2aff" stroke-width="2.6"/>
<line x1="1133.4" y1="2149.6" x2="1133.4" y2="2162.6" stroke="#2a2aff" stroke-width="2.6"/>
<line x1="1141.2" y1="2149.6" x2="1141.2" y2="2162.6" stroke="#2a2aff" stroke-width="2.6"/>
<line x1="1147.1" y1="2149.6" x2="1147.1" y2="2162.6" stroke="#2a2aff" stroke-width="2.6"/>
<line x1="1152.0" y1="2149.6" x2="1152.0" y2="2162.6" stroke="#2a2aff" stroke-width="2.6"/>
<line x1="1156.2" y1="2149.6" x2="1156.2" y2="2162.6" stroke="#2a2aff" stroke-width="2.6"/>
<line x1="1159.8" y1="2149.6" x2="1159.8" y2="2162.6" stroke="#2a2aff" stroke-width="2.6"/>
<line x1="1162.9" y1="2149.6" x2="1162.9" y2="2162.6" stroke="#2a2aff" stroke-width="2.6"/>
<line x1="1165.8" y1="2149.6" x2="1165.8" y2="2162.6" stroke="#2a2aff" stroke-width="2.6"/>
<line x1="1184.4" y1="2149.6" x2="1184.4" y2="2162.6" stroke="#2a2aff" stroke-width="2.6"/>
<line x1="1195.3" y1="2149.6" x2="1195.3" y2="2162.6" stroke="#2a2aff" stroke-width="2.6"/>
<line x1="1203.0" y1="2149.6" x2="1203.0" y2="2162.6" stroke="#2a2aff" stroke-width="2.6"/>
<line x1="1209.0" y1="2149.6" x2="1209.0" y2="2162.6" stroke="#2a2aff" stroke-width="2.6"/>
<line x1="1213.9" y1="2149.6" x2="1213.9" y2="2162.6" stroke="#2a2aff" stroke-width="2.6"/>
<line x1="1218.1" y1="2149.6" x2="1218.1" y2="2162.6" stroke="#2a2aff" stroke-width="2.6"/>
<line x1="1221.6" y1="2149.6" x2="1221.6" y2="2162.6" stroke="#2a2aff" stroke-width="2.6"/>
<line x1="1224.8" y1="2149.6" x2="1224.8" y2="2162.6" stroke="#2a2aff" stroke-width="2.6"/>
<line x1="1227.6" y1="2149.6" x2="1227.6" y2="2162.6" stroke="#2a2aff" stroke-width="2.6"/>
<line x1="1246.3" y1="2149.6" x2="1246.3" y2="2162.6" stroke="#2a2aff" stroke-width="2.6"/>
<line x1="1257.2" y1="2149.6" x2="1257.2" y2="2162.6" stroke="#2a2aff" stroke-width="2.6"/>
<line x1="1264.9" y1="2149.6" x2="1264.9" y2="2162.6" stroke="#2a2aff" stroke-width="2.6"/>
<line x1="1270.9" y1="2149.6" x2="1270.9" y2="2162.6" stroke="#2a2aff" stroke-width="2.6"/>
<line x1="1275.8" y1="2149.6" x2="1275.8" y2="2162.6" stroke="#2a2aff" stroke-width="2.6"/>
<line x1="1279.9" y1="2149.6" x2="1279.9" y2="2162.6" stroke="#2a2aff" stroke-width="2.6"/>
<line x1="1283.5" y1="2149.6" x2="1283.5" y2="2162.6" stroke="#2a2aff" stroke-width="2.6"/>
<line x1="1286.7" y1="2149.6" x2="1286.7" y2="2162.6" stroke="#2a2aff" stroke-width="2.6"/>
<line x1="1289.5" y1="2149.6" x2="1289.5" y2="2162.6" stroke="#2a2aff" stroke-width="2.6"/>
<line x1="1308.1" y1="2149.6" x2="1308.1" y2="2162.6" stroke="#2a2aff" stroke-width="2.6"/>
<line x1="1319.0" y1="2149.6" x2="1319.0" y2="2162.6" stroke="#2a2aff" stroke-width="2.6"/>
<line x1="1326.8" y1="2149.6" x2="1326.8" y2="2162.6" stroke="#2a2aff" stroke-width="2.6"/>
<line x1="1332.8" y1="2149.6" x2="1332.8" y2="2162.6" stroke="#2a2aff" stroke-width="2.6"/>
<line x1="1337.7" y1="2149.6" x2="1337.7" y2="2162.6" stroke="#2a2aff" stroke-width="2.6"/>
<line x1="1341.8" y1="2149.6" x2="1341.8" y2="2162.6" stroke="#2a2aff" stroke-width="2.6"/>
<line x1="1345.4" y1="2149.6" x2="1345.4" y2="2162.6" stroke="#2a2aff" stroke-width="2.6"/>
<line x1="1348.6" y1="2149.6" x2="1348.6" y2="2162.6" stroke="#2a2aff" stroke-width="2.6"/>
<line x1="1351.4" y1="2149.6" x2="1351.4" y2="2162.6" stroke="#2a2aff" stroke-width="2.6"/>
<line x1="1370.0" y1="2149.6" x2="1370.0" y2="2162.6" stroke="#2a2aff" stroke-width="2.6"/>
<line x1="1380.9" y1="2149.6" x2="1380.9" y2="2162.6" stroke="#2a2aff" stroke-width="2.6"/>
<line x1="1388.6" y1="2149.6" x2="1388.6" y2="2162.6" stroke="#2a2aff" stroke-width="2.6"/>
<line x1="1394.6" y1="2149.6" x2="1394.6" y2="2162.6" stroke="#2a2aff" stroke-width="2.6"/>
<line x1="1399.5" y1="2149.6" x2="1399.5" y2="2162.6" stroke="#2a2aff" stroke-width="2.6"/>
<line x1="1403.7" y1="2149.6" x2="1403.7" y2="2162.6" stroke="#2a2aff" stroke-width="2.6"/>
<line x1="1407.3" y1="2149.6" x2="1407.3" y2="2162.6" stroke="#2a2aff" stroke-width="2.6"/>
<line x1="1410.4" y1="2149.6" x2="1410.4" y2="2162.6" stroke="#2a2aff" stroke-width="2.6"/>
<line x1="1413.3" y1="2149.6" x2="1413.3" y2="2162.6" stroke="#2a2aff" stroke-width="2.6"/>
<line x1="1431.9" y1="2149.6" x2="1431.9" y2="2162.6" stroke="#2a2aff" stroke-width="2.6"/>
<line x1="1442.8" y1="2149.6" x2="1442.8" y2="2162.6" stroke="#2a2aff" stroke-width="2.6"/>
<line x1="1450.5" y1="2149.6" x2="1450.5" y2="2162.6" stroke="#2a2aff" stroke-width="2.6"/>
<line x1="1456.5" y1="2149.6" x2="1456.5" y2="2162.6" stroke="#2a2aff" stroke-width="2.6"/>
<line x1="1461.4" y1="2149.6" x2="1461.4" y2="2162.6" stroke="#2a2aff" stroke-width="2.6"/>
<line x1="1465.5" y1="2149.6" x2="1465.5" y2="2162.6" stroke="#2a2aff" stroke-width="2.6"/>
<line x1="1469.1" y1="2149.6" x2="1469.1" y2="2162.6" stroke="#2a2aff" stroke-width="2.6"/>
<line x1="1472.3" y1="2149.6" x2="1472.3" y2="2162.6" stroke="#2a2aff" stroke-width="2.6"/>
<line x1="1475.1" y1="2149.6" x2="1475.1" y2="2162.6" stroke="#2a2aff" stroke-width="2.6"/>
<line x1="1487.5" y1="2149.6" x2="1487.5" y2="2162.6" stroke="#2a2aff" stroke-width="2.6"/>
<text transform="translate(1103.9,2183.1) scale(0.82,1)" text-anchor="middle" font-family="'Liberation Sans', Arial, sans-serif" fill="#2a2aff"><tspan font-weight="bold" font-size="13.5" dy="4">10</tspan><tspan font-size="23.5" dy="-4">1</tspan></text>
<text transform="translate(1165.8,2183.1) scale(0.82,1)" text-anchor="middle" font-family="'Liberation Sans', Arial, sans-serif" fill="#2a2aff"><tspan font-weight="bold" font-size="13.5" dy="4">10</tspan><tspan font-size="23.5" dy="-4">2</tspan></text>
<text transform="translate(1227.6,2183.1) scale(0.82,1)" text-anchor="middle" font-family="'Liberation Sans', Arial, sans-serif" fill="#2a2aff"><tspan font-weight="bold" font-size="13.5" dy="4">10</tspan><tspan font-size="23.5" dy="-4">3</tspan></text>
<text transform="translate(1289.5,2183.1) scale(0.82,1)" text-anchor="middle" font-family="'Liberation Sans', Arial, sans-serif" fill="#2a2aff"><tspan font-weight="bold" font-size="13.5" dy="4">10</tspan><tspan font-size="23.5" dy="-4">4</tspan></text>
<text transform="translate(1351.4,2183.1) scale(0.82,1)" text-anchor="middle" font-family="'Liberation Sans', Arial, sans-serif" fill="#2a2aff"><tspan font-weight="bold" font-size="13.5" dy="4">10</tspan><tspan font-size="23.5" dy="-4">5</tspan></text>
<text transform="translate(1413.3,2183.1) scale(0.82,1)" text-anchor="middle" font-family="'Liberation Sans', Arial, sans-serif" fill="#2a2aff"><tspan font-weight="bold" font-size="13.5" dy="4">10</tspan><tspan font-size="23.5" dy="-4">6</tspan></text>
<text transform="translate(1487.5,2183.1) scale(0.82,1)" text-anchor="middle" font-family="'Liberation Sans', Arial, sans-serif" fill="#2a2aff"><tspan font-weight="bold" font-size="13.5" dy="4">10</tspan><tspan font-size="23.5" dy="-4">7.2</tspan></text>
<text transform="translate(1296.3,2211.4) scale(0.88,1)" text-anchor="middle" font-family="'Liberation Sans', Arial, sans-serif" font-size="23" letter-spacing="1.2" fill="#111">FL1-H</text>
<text transform="translate(1052.1,1995.9) rotate(-90)" text-anchor="middle" font-family="'Liberation Sans', Arial, sans-serif" font-weight="bold" font-size="21.5" fill="#111">Count</text>
<text x="1106.4" y="1785.2" font-family="'Liberation Sans', Arial, sans-serif" font-size="27" fill="#e0102e">V1-L</text>
<text x="1106.4" y="1809.7" font-family="'Liberation Sans', Arial, sans-serif" font-size="27" fill="#e0102e">84.0%</text>
<text x="1409.0" y="1785.2" font-family="'Liberation Sans', Arial, sans-serif" font-size="27" fill="#e0102e">V1-R</text>
<text x="1409.0" y="1809.7" font-family="'Liberation Sans', Arial, sans-serif" font-size="27" fill="#e0102e">16.0%</text>
<text x="1113.7" y="1740.5" font-family="'Liberation Serif', 'Times New Roman', serif" font-size="77" fill="#000">f</text>
</g>
<line x1="1939.6" y1="766.8" x2="1939.6" y2="778.3" stroke="#111" stroke-width="3.6"/>
<line x1="1923.1" y1="768.6" x2="1956.1" y2="768.6" stroke="#111" stroke-width="3.6"/>
<rect x="1903.3" y="775.3" width="72.5" height="25.5" fill="#000"/>
<line x1="2035.5" y1="760.1" x2="2035.5" y2="769.2" stroke="#111" stroke-width="3.6"/>
<line x1="2019.0" y1="761.9" x2="2052.0" y2="761.9" stroke="#111" stroke-width="3.6"/>
<rect x="1999.2" y="766.2" width="72.5" height="34.6" fill="#000"/>
<rect x="2007.7" y="775.8" width="55.7" height="25.0" fill="#a0a0a5"/>
<line x1="2131.4" y1="750.1" x2="2131.4" y2="759.3" stroke="#111" stroke-width="3.6"/>
<line x1="2114.9" y1="751.9" x2="2147.9" y2="751.9" stroke="#111" stroke-width="3.6"/>
<rect x="2095.2" y="756.3" width="72.5" height="44.5" fill="#000"/>
<rect x="2103.6" y="765.9" width="55.7" height="34.9" fill="#808080"/>
<line x1="2227.4" y1="741.6" x2="2227.4" y2="750.8" stroke="#111" stroke-width="3.6"/>
<line x1="2210.9" y1="743.4" x2="2243.9" y2="743.4" stroke="#111" stroke-width="3.6"/>
<rect x="2191.2" y="747.8" width="72.5" height="53.0" fill="#000"/>
<rect x="2199.6" y="757.4" width="55.7" height="43.4" fill="#d3d3d3"/>
<line x1="2323.2" y1="675.1" x2="2323.2" y2="690.0" stroke="#111" stroke-width="3.6"/>
<line x1="2306.7" y1="676.9" x2="2339.7" y2="676.9" stroke="#111" stroke-width="3.6"/>
<rect x="2286.9" y="687.0" width="72.5" height="113.8" fill="#000"/>
<rect x="2295.3" y="696.6" width="55.7" height="104.2" fill="#5e5e5e"/>
<text transform="translate(2323.2,656.8) scale(0.98,1.17)" x="0" y="26.5" text-anchor="middle" font-family="'Liberation Serif', 'Times New Roman', serif" font-size="54" fill="#000">***</text>
<line x1="2419.1" y1="330.3" x2="2419.1" y2="374.4" stroke="#111" stroke-width="3.6"/>
<line x1="2402.6" y1="332.1" x2="2435.6" y2="332.1" stroke="#111" stroke-width="3.6"/>
<rect x="2382.8" y="371.4" width="72.5" height="429.4" fill="#000"/>
<rect x="2391.2" y="381.0" width="55.7" height="419.8" fill="#a0a0a5"/>
<text transform="translate(2419.1,313.0) scale(0.98,1.17)" x="0" y="26.5" text-anchor="middle" font-family="'Liberation Serif', 'Times New Roman', serif" font-size="54" fill="#000">***</text>
<line x1="1876.0" y1="189.0" x2="1876.0" y2="803.6" stroke="#000" stroke-width="5.6"/>
<line x1="1850.4" y1="800.8" x2="2484.6" y2="800.8" stroke="#000" stroke-width="5.6"/>
<line x1="1850.4" y1="191.8" x2="1876.0" y2="191.8" stroke="#000" stroke-width="5.6"/>
<text x="1844.0" y="207.8" text-anchor="end" font-family="'Liberation Serif', 'Times New Roman', serif" font-weight="bold" font-size="47" fill="#000">40</text>
<line x1="1850.4" y1="344.2" x2="1876.0" y2="344.2" stroke="#000" stroke-width="5.6"/>
<text x="1844.0" y="360.2" text-anchor="end" font-family="'Liberation Serif', 'Times New Roman', serif" font-weight="bold" font-size="47" fill="#000">30</text>
<line x1="1850.4" y1="496.3" x2="1876.0" y2="496.3" stroke="#000" stroke-width="5.6"/>
<text x="1844.0" y="512.3" text-anchor="end" font-family="'Liberation Serif', 'Times New Roman', serif" font-weight="bold" font-size="47" fill="#000">20</text>
<line x1="1850.4" y1="648.0" x2="1876.0" y2="648.0" stroke="#000" stroke-width="5.6"/>
<text x="1844.0" y="664.0" text-anchor="end" font-family="'Liberation Serif', 'Times New Roman', serif" font-weight="bold" font-size="47" fill="#000">10</text>
<line x1="1850.4" y1="800.8" x2="1876.0" y2="800.8" stroke="#000" stroke-width="5.6"/>
<text x="1844.0" y="816.8" text-anchor="end" font-family="'Liberation Serif', 'Times New Roman', serif" font-weight="bold" font-size="47" fill="#000">0</text>
<line x1="1939.6" y1="800.8" x2="1939.6" y2="826.3" stroke="#000" stroke-width="6"/>
<text transform="translate(1940.6,852.8) rotate(-30)" x="0" y="15.9" text-anchor="end" font-family="'Liberation Serif', 'Times New Roman', serif" font-weight="bold" font-size="46.5" fill="#000">0</text>
<line x1="2035.5" y1="800.8" x2="2035.5" y2="826.3" stroke="#000" stroke-width="6"/>
<text transform="translate(2036.5,852.8) rotate(-30)" x="0" y="15.9" text-anchor="end" font-family="'Liberation Serif', 'Times New Roman', serif" font-weight="bold" font-size="46.5" fill="#000">0.033</text>
<line x1="2131.4" y1="800.8" x2="2131.4" y2="826.3" stroke="#000" stroke-width="6"/>
<text transform="translate(2132.4,852.8) rotate(-30)" x="0" y="15.9" text-anchor="end" font-family="'Liberation Serif', 'Times New Roman', serif" font-weight="bold" font-size="46.5" fill="#000">0.065</text>
<line x1="2227.4" y1="800.8" x2="2227.4" y2="826.3" stroke="#000" stroke-width="6"/>
<text transform="translate(2228.4,852.8) rotate(-30)" x="0" y="15.9" text-anchor="end" font-family="'Liberation Serif', 'Times New Roman', serif" font-weight="bold" font-size="46.5" fill="#000">0.13</text>
<line x1="2323.2" y1="800.8" x2="2323.2" y2="826.3" stroke="#000" stroke-width="6"/>
<text transform="translate(2324.2,852.8) rotate(-30)" x="0" y="15.9" text-anchor="end" font-family="'Liberation Serif', 'Times New Roman', serif" font-weight="bold" font-size="46.5" fill="#000">0.26</text>
<line x1="2419.1" y1="800.8" x2="2419.1" y2="826.3" stroke="#000" stroke-width="6"/>
<text transform="translate(2409.1,857.8) rotate(-30)" x="0" y="15.9" text-anchor="end" font-family="'Liberation Serif', 'Times New Roman', serif" font-weight="bold" font-size="46.5" fill="#000">0.52</text>
<text x="1863.2" y="999.0" font-family="'Liberation Serif', 'Times New Roman', serif" font-weight="bold" font-size="53" textLength="634.5" lengthAdjust="spacingAndGlyphs" fill="#000">Concentrations of CA (mg/ml)</text>
<text transform="translate(1773.0,497.0) rotate(-90)" text-anchor="middle" font-family="'Liberation Serif', 'Times New Roman', serif" font-weight="bold" font-size="53.2" fill="#000">% of stained cells</text>
<line x1="1938.2" y1="2051.0" x2="1938.2" y2="2065.5" stroke="#111" stroke-width="3.6"/>
<line x1="1921.7" y1="2052.8" x2="1954.7" y2="2052.8" stroke="#111" stroke-width="3.6"/>
<rect x="1902.0" y="2062.5" width="72.5" height="13.5" fill="#000"/>
<line x1="2034.2" y1="2021.0" x2="2034.2" y2="2037.0" stroke="#111" stroke-width="3.6"/>
<line x1="2017.7" y1="2022.8" x2="2050.7" y2="2022.8" stroke="#111" stroke-width="3.6"/>
<rect x="1998.0" y="2034.0" width="72.5" height="42.0" fill="#000"/>
<rect x="2006.4" y="2043.6" width="55.7" height="32.4" fill="#a0a0a5"/>
<line x1="2130.4" y1="1976.5" x2="2130.4" y2="2000.8" stroke="#111" stroke-width="3.6"/>
<line x1="2113.9" y1="1978.3" x2="2146.9" y2="1978.3" stroke="#111" stroke-width="3.6"/>
<rect x="2094.2" y="1997.8" width="72.5" height="78.2" fill="#000"/>
<rect x="2102.6" y="2007.4" width="55.7" height="68.6" fill="#808080"/>
<line x1="2226.4" y1="1917.5" x2="2226.4" y2="1929.5" stroke="#111" stroke-width="3.6"/>
<line x1="2209.9" y1="1919.3" x2="2242.9" y2="1919.3" stroke="#111" stroke-width="3.6"/>
<rect x="2190.2" y="1926.5" width="72.5" height="149.5" fill="#000"/>
<rect x="2198.6" y="1936.1" width="55.7" height="139.9" fill="#d3d3d3"/>
<text transform="translate(2226.4,1901.7) scale(0.98,1.17)" x="0" y="26.5" text-anchor="middle" font-family="'Liberation Serif', 'Times New Roman', serif" font-size="54" fill="#000">**</text>
<line x1="2322.6" y1="1782.3" x2="2322.6" y2="1839.5" stroke="#111" stroke-width="3.6"/>
<line x1="2306.1" y1="1784.1" x2="2339.1" y2="1784.1" stroke="#111" stroke-width="3.6"/>
<rect x="2286.3" y="1836.5" width="72.5" height="239.5" fill="#000"/>
<rect x="2294.8" y="1846.1" width="55.7" height="229.9" fill="#5e5e5e"/>
<text transform="translate(2322.6,1767.5) scale(0.98,1.17)" x="0" y="26.5" text-anchor="middle" font-family="'Liberation Serif', 'Times New Roman', serif" font-size="54" fill="#000">***</text>
<line x1="2418.5" y1="1552.9" x2="2418.5" y2="1609.7" stroke="#111" stroke-width="3.6"/>
<line x1="2402.0" y1="1554.7" x2="2435.0" y2="1554.7" stroke="#111" stroke-width="3.6"/>
<rect x="2382.2" y="1606.7" width="72.5" height="469.3" fill="#000"/>
<rect x="2390.7" y="1616.3" width="55.7" height="459.7" fill="#a0a0a5"/>
<text transform="translate(2418.5,1538.2) scale(0.98,1.17)" x="0" y="26.5" text-anchor="middle" font-family="'Liberation Serif', 'Times New Roman', serif" font-size="54" fill="#000">***</text>
<line x1="1873.6" y1="1463.3" x2="1873.6" y2="2078.8" stroke="#000" stroke-width="5.6"/>
<line x1="1848.0" y1="2076.0" x2="2483.6" y2="2076.0" stroke="#000" stroke-width="5.6"/>
<line x1="1848.0" y1="1465.9" x2="1873.6" y2="1465.9" stroke="#000" stroke-width="5.6"/>
<text x="1841.6" y="1481.9" text-anchor="end" font-family="'Liberation Serif', 'Times New Roman', serif" font-weight="bold" font-size="47" fill="#000">20</text>
<line x1="1848.0" y1="1618.0" x2="1873.6" y2="1618.0" stroke="#000" stroke-width="5.6"/>
<text x="1841.6" y="1634.0" text-anchor="end" font-family="'Liberation Serif', 'Times New Roman', serif" font-weight="bold" font-size="47" fill="#000">15</text>
<line x1="1848.0" y1="1770.6" x2="1873.6" y2="1770.6" stroke="#000" stroke-width="5.6"/>
<text x="1841.6" y="1786.6" text-anchor="end" font-family="'Liberation Serif', 'Times New Roman', serif" font-weight="bold" font-size="47" fill="#000">10</text>
<line x1="1848.0" y1="1923.6" x2="1873.6" y2="1923.6" stroke="#000" stroke-width="5.6"/>
<text x="1841.6" y="1939.6" text-anchor="end" font-family="'Liberation Serif', 'Times New Roman', serif" font-weight="bold" font-size="47" fill="#000">5</text>
<line x1="1848.0" y1="2076.0" x2="1873.6" y2="2076.0" stroke="#000" stroke-width="5.6"/>
<text x="1841.6" y="2092.0" text-anchor="end" font-family="'Liberation Serif', 'Times New Roman', serif" font-weight="bold" font-size="47" fill="#000">0</text>
<line x1="1938.2" y1="2076.0" x2="1938.2" y2="2101.5" stroke="#000" stroke-width="6"/>
<text transform="translate(1939.2,2128.0) rotate(-30)" x="0" y="15.9" text-anchor="end" font-family="'Liberation Serif', 'Times New Roman', serif" font-weight="bold" font-size="46.5" fill="#000">0</text>
<line x1="2034.2" y1="2076.0" x2="2034.2" y2="2101.5" stroke="#000" stroke-width="6"/>
<text transform="translate(2035.2,2128.0) rotate(-30)" x="0" y="15.9" text-anchor="end" font-family="'Liberation Serif', 'Times New Roman', serif" font-weight="bold" font-size="46.5" fill="#000">0.033</text>
<line x1="2130.4" y1="2076.0" x2="2130.4" y2="2101.5" stroke="#000" stroke-width="6"/>
<text transform="translate(2131.4,2128.0) rotate(-30)" x="0" y="15.9" text-anchor="end" font-family="'Liberation Serif', 'Times New Roman', serif" font-weight="bold" font-size="46.5" fill="#000">0.065</text>
<line x1="2226.4" y1="2076.0" x2="2226.4" y2="2101.5" stroke="#000" stroke-width="6"/>
<text transform="translate(2227.4,2128.0) rotate(-30)" x="0" y="15.9" text-anchor="end" font-family="'Liberation Serif', 'Times New Roman', serif" font-weight="bold" font-size="46.5" fill="#000">0.13</text>
<line x1="2322.6" y1="2076.0" x2="2322.6" y2="2101.5" stroke="#000" stroke-width="6"/>
<text transform="translate(2323.6,2128.0) rotate(-30)" x="0" y="15.9" text-anchor="end" font-family="'Liberation Serif', 'Times New Roman', serif" font-weight="bold" font-size="46.5" fill="#000">0.26</text>
<line x1="2418.5" y1="2076.0" x2="2418.5" y2="2101.5" stroke="#000" stroke-width="6"/>
<text transform="translate(2408.5,2133.0) rotate(-30)" x="0" y="15.9" text-anchor="end" font-family="'Liberation Serif', 'Times New Roman', serif" font-weight="bold" font-size="46.5" fill="#000">0.52</text>
<text x="1861.5" y="2273.6" font-family="'Liberation Serif', 'Times New Roman', serif" font-weight="bold" font-size="53" textLength="635.5" lengthAdjust="spacingAndGlyphs" fill="#000">Concentrations of CA (mg/ml)</text>
<text transform="translate(1771.0,1771.0) rotate(-90)" text-anchor="middle" font-family="'Liberation Serif', 'Times New Roman', serif" font-weight="bold" font-size="53.2" fill="#000">% of stained cells</text>
</svg></body></html>
